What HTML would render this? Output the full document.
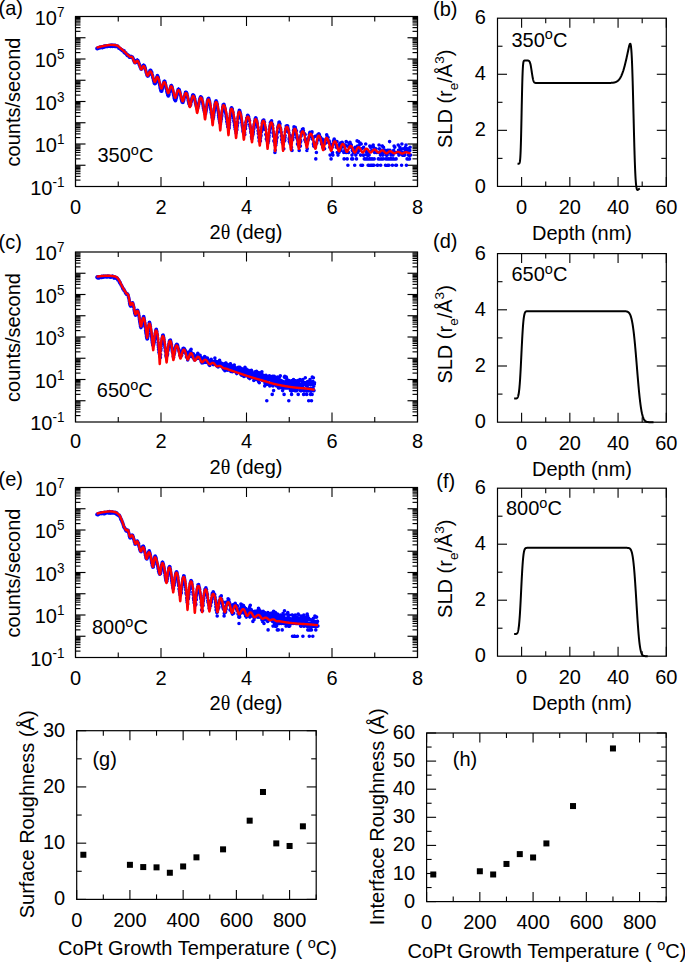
<!DOCTYPE html>
<html><head><meta charset="utf-8"><style>html,body{margin:0;padding:0;background:#fff;}svg{display:block;}text{font-family:"Liberation Sans",sans-serif;}</style></head>
<body><svg width="685" height="962" viewBox="0 0 685 962" font-family="Liberation Sans, sans-serif" fill="#000">
<rect width="685" height="962" fill="#fff"/>
<rect x="75.5" y="16.5" width="342" height="170" fill="none" stroke="#000" stroke-width="1.2"/>
<line x1="75.5" y1="186.5" x2="75.5" y2="177" stroke="#000" stroke-width="1.1"/>
<line x1="75.5" y1="16.5" x2="75.5" y2="26" stroke="#000" stroke-width="1.1"/>
<line x1="118.25" y1="186.5" x2="118.25" y2="181.5" stroke="#000" stroke-width="1.1"/>
<line x1="118.25" y1="16.5" x2="118.25" y2="21.5" stroke="#000" stroke-width="1.1"/>
<line x1="161" y1="186.5" x2="161" y2="177" stroke="#000" stroke-width="1.1"/>
<line x1="161" y1="16.5" x2="161" y2="26" stroke="#000" stroke-width="1.1"/>
<line x1="203.75" y1="186.5" x2="203.75" y2="181.5" stroke="#000" stroke-width="1.1"/>
<line x1="203.75" y1="16.5" x2="203.75" y2="21.5" stroke="#000" stroke-width="1.1"/>
<line x1="246.5" y1="186.5" x2="246.5" y2="177" stroke="#000" stroke-width="1.1"/>
<line x1="246.5" y1="16.5" x2="246.5" y2="26" stroke="#000" stroke-width="1.1"/>
<line x1="289.25" y1="186.5" x2="289.25" y2="181.5" stroke="#000" stroke-width="1.1"/>
<line x1="289.25" y1="16.5" x2="289.25" y2="21.5" stroke="#000" stroke-width="1.1"/>
<line x1="332" y1="186.5" x2="332" y2="177" stroke="#000" stroke-width="1.1"/>
<line x1="332" y1="16.5" x2="332" y2="26" stroke="#000" stroke-width="1.1"/>
<line x1="374.75" y1="186.5" x2="374.75" y2="181.5" stroke="#000" stroke-width="1.1"/>
<line x1="374.75" y1="16.5" x2="374.75" y2="21.5" stroke="#000" stroke-width="1.1"/>
<line x1="417.5" y1="186.5" x2="417.5" y2="177" stroke="#000" stroke-width="1.1"/>
<line x1="417.5" y1="16.5" x2="417.5" y2="26" stroke="#000" stroke-width="1.1"/>
<line x1="75.5" y1="180.1" x2="80.5" y2="180.1" stroke="#000" stroke-width="1.15"/>
<line x1="417.5" y1="180.1" x2="412.5" y2="180.1" stroke="#000" stroke-width="1.15"/>
<line x1="75.5" y1="176.36" x2="80.5" y2="176.36" stroke="#000" stroke-width="1.15"/>
<line x1="417.5" y1="176.36" x2="412.5" y2="176.36" stroke="#000" stroke-width="1.15"/>
<line x1="75.5" y1="173.71" x2="80.5" y2="173.71" stroke="#000" stroke-width="1.15"/>
<line x1="417.5" y1="173.71" x2="412.5" y2="173.71" stroke="#000" stroke-width="1.15"/>
<line x1="75.5" y1="171.65" x2="80.5" y2="171.65" stroke="#000" stroke-width="1.15"/>
<line x1="417.5" y1="171.65" x2="412.5" y2="171.65" stroke="#000" stroke-width="1.15"/>
<line x1="75.5" y1="169.96" x2="80.5" y2="169.96" stroke="#000" stroke-width="1.15"/>
<line x1="417.5" y1="169.96" x2="412.5" y2="169.96" stroke="#000" stroke-width="1.15"/>
<line x1="75.5" y1="168.54" x2="80.5" y2="168.54" stroke="#000" stroke-width="1.15"/>
<line x1="417.5" y1="168.54" x2="412.5" y2="168.54" stroke="#000" stroke-width="1.15"/>
<line x1="75.5" y1="167.31" x2="80.5" y2="167.31" stroke="#000" stroke-width="1.15"/>
<line x1="417.5" y1="167.31" x2="412.5" y2="167.31" stroke="#000" stroke-width="1.15"/>
<line x1="75.5" y1="166.22" x2="80.5" y2="166.22" stroke="#000" stroke-width="1.15"/>
<line x1="417.5" y1="166.22" x2="412.5" y2="166.22" stroke="#000" stroke-width="1.15"/>
<line x1="75.5" y1="165.25" x2="85.5" y2="165.25" stroke="#000" stroke-width="1.15"/>
<line x1="417.5" y1="165.25" x2="407.5" y2="165.25" stroke="#000" stroke-width="1.15"/>
<line x1="75.5" y1="158.85" x2="80.5" y2="158.85" stroke="#000" stroke-width="1.15"/>
<line x1="417.5" y1="158.85" x2="412.5" y2="158.85" stroke="#000" stroke-width="1.15"/>
<line x1="75.5" y1="155.11" x2="80.5" y2="155.11" stroke="#000" stroke-width="1.15"/>
<line x1="417.5" y1="155.11" x2="412.5" y2="155.11" stroke="#000" stroke-width="1.15"/>
<line x1="75.5" y1="152.46" x2="80.5" y2="152.46" stroke="#000" stroke-width="1.15"/>
<line x1="417.5" y1="152.46" x2="412.5" y2="152.46" stroke="#000" stroke-width="1.15"/>
<line x1="75.5" y1="150.4" x2="80.5" y2="150.4" stroke="#000" stroke-width="1.15"/>
<line x1="417.5" y1="150.4" x2="412.5" y2="150.4" stroke="#000" stroke-width="1.15"/>
<line x1="75.5" y1="148.71" x2="80.5" y2="148.71" stroke="#000" stroke-width="1.15"/>
<line x1="417.5" y1="148.71" x2="412.5" y2="148.71" stroke="#000" stroke-width="1.15"/>
<line x1="75.5" y1="147.29" x2="80.5" y2="147.29" stroke="#000" stroke-width="1.15"/>
<line x1="417.5" y1="147.29" x2="412.5" y2="147.29" stroke="#000" stroke-width="1.15"/>
<line x1="75.5" y1="146.06" x2="80.5" y2="146.06" stroke="#000" stroke-width="1.15"/>
<line x1="417.5" y1="146.06" x2="412.5" y2="146.06" stroke="#000" stroke-width="1.15"/>
<line x1="75.5" y1="144.97" x2="80.5" y2="144.97" stroke="#000" stroke-width="1.15"/>
<line x1="417.5" y1="144.97" x2="412.5" y2="144.97" stroke="#000" stroke-width="1.15"/>
<line x1="75.5" y1="144" x2="85.5" y2="144" stroke="#000" stroke-width="1.15"/>
<line x1="417.5" y1="144" x2="407.5" y2="144" stroke="#000" stroke-width="1.15"/>
<line x1="75.5" y1="137.6" x2="80.5" y2="137.6" stroke="#000" stroke-width="1.15"/>
<line x1="417.5" y1="137.6" x2="412.5" y2="137.6" stroke="#000" stroke-width="1.15"/>
<line x1="75.5" y1="133.86" x2="80.5" y2="133.86" stroke="#000" stroke-width="1.15"/>
<line x1="417.5" y1="133.86" x2="412.5" y2="133.86" stroke="#000" stroke-width="1.15"/>
<line x1="75.5" y1="131.21" x2="80.5" y2="131.21" stroke="#000" stroke-width="1.15"/>
<line x1="417.5" y1="131.21" x2="412.5" y2="131.21" stroke="#000" stroke-width="1.15"/>
<line x1="75.5" y1="129.15" x2="80.5" y2="129.15" stroke="#000" stroke-width="1.15"/>
<line x1="417.5" y1="129.15" x2="412.5" y2="129.15" stroke="#000" stroke-width="1.15"/>
<line x1="75.5" y1="127.46" x2="80.5" y2="127.46" stroke="#000" stroke-width="1.15"/>
<line x1="417.5" y1="127.46" x2="412.5" y2="127.46" stroke="#000" stroke-width="1.15"/>
<line x1="75.5" y1="126.04" x2="80.5" y2="126.04" stroke="#000" stroke-width="1.15"/>
<line x1="417.5" y1="126.04" x2="412.5" y2="126.04" stroke="#000" stroke-width="1.15"/>
<line x1="75.5" y1="124.81" x2="80.5" y2="124.81" stroke="#000" stroke-width="1.15"/>
<line x1="417.5" y1="124.81" x2="412.5" y2="124.81" stroke="#000" stroke-width="1.15"/>
<line x1="75.5" y1="123.72" x2="80.5" y2="123.72" stroke="#000" stroke-width="1.15"/>
<line x1="417.5" y1="123.72" x2="412.5" y2="123.72" stroke="#000" stroke-width="1.15"/>
<line x1="75.5" y1="122.75" x2="85.5" y2="122.75" stroke="#000" stroke-width="1.15"/>
<line x1="417.5" y1="122.75" x2="407.5" y2="122.75" stroke="#000" stroke-width="1.15"/>
<line x1="75.5" y1="116.35" x2="80.5" y2="116.35" stroke="#000" stroke-width="1.15"/>
<line x1="417.5" y1="116.35" x2="412.5" y2="116.35" stroke="#000" stroke-width="1.15"/>
<line x1="75.5" y1="112.61" x2="80.5" y2="112.61" stroke="#000" stroke-width="1.15"/>
<line x1="417.5" y1="112.61" x2="412.5" y2="112.61" stroke="#000" stroke-width="1.15"/>
<line x1="75.5" y1="109.96" x2="80.5" y2="109.96" stroke="#000" stroke-width="1.15"/>
<line x1="417.5" y1="109.96" x2="412.5" y2="109.96" stroke="#000" stroke-width="1.15"/>
<line x1="75.5" y1="107.9" x2="80.5" y2="107.9" stroke="#000" stroke-width="1.15"/>
<line x1="417.5" y1="107.9" x2="412.5" y2="107.9" stroke="#000" stroke-width="1.15"/>
<line x1="75.5" y1="106.21" x2="80.5" y2="106.21" stroke="#000" stroke-width="1.15"/>
<line x1="417.5" y1="106.21" x2="412.5" y2="106.21" stroke="#000" stroke-width="1.15"/>
<line x1="75.5" y1="104.79" x2="80.5" y2="104.79" stroke="#000" stroke-width="1.15"/>
<line x1="417.5" y1="104.79" x2="412.5" y2="104.79" stroke="#000" stroke-width="1.15"/>
<line x1="75.5" y1="103.56" x2="80.5" y2="103.56" stroke="#000" stroke-width="1.15"/>
<line x1="417.5" y1="103.56" x2="412.5" y2="103.56" stroke="#000" stroke-width="1.15"/>
<line x1="75.5" y1="102.47" x2="80.5" y2="102.47" stroke="#000" stroke-width="1.15"/>
<line x1="417.5" y1="102.47" x2="412.5" y2="102.47" stroke="#000" stroke-width="1.15"/>
<line x1="75.5" y1="101.5" x2="85.5" y2="101.5" stroke="#000" stroke-width="1.15"/>
<line x1="417.5" y1="101.5" x2="407.5" y2="101.5" stroke="#000" stroke-width="1.15"/>
<line x1="75.5" y1="95.1" x2="80.5" y2="95.1" stroke="#000" stroke-width="1.15"/>
<line x1="417.5" y1="95.1" x2="412.5" y2="95.1" stroke="#000" stroke-width="1.15"/>
<line x1="75.5" y1="91.36" x2="80.5" y2="91.36" stroke="#000" stroke-width="1.15"/>
<line x1="417.5" y1="91.36" x2="412.5" y2="91.36" stroke="#000" stroke-width="1.15"/>
<line x1="75.5" y1="88.71" x2="80.5" y2="88.71" stroke="#000" stroke-width="1.15"/>
<line x1="417.5" y1="88.71" x2="412.5" y2="88.71" stroke="#000" stroke-width="1.15"/>
<line x1="75.5" y1="86.65" x2="80.5" y2="86.65" stroke="#000" stroke-width="1.15"/>
<line x1="417.5" y1="86.65" x2="412.5" y2="86.65" stroke="#000" stroke-width="1.15"/>
<line x1="75.5" y1="84.96" x2="80.5" y2="84.96" stroke="#000" stroke-width="1.15"/>
<line x1="417.5" y1="84.96" x2="412.5" y2="84.96" stroke="#000" stroke-width="1.15"/>
<line x1="75.5" y1="83.54" x2="80.5" y2="83.54" stroke="#000" stroke-width="1.15"/>
<line x1="417.5" y1="83.54" x2="412.5" y2="83.54" stroke="#000" stroke-width="1.15"/>
<line x1="75.5" y1="82.31" x2="80.5" y2="82.31" stroke="#000" stroke-width="1.15"/>
<line x1="417.5" y1="82.31" x2="412.5" y2="82.31" stroke="#000" stroke-width="1.15"/>
<line x1="75.5" y1="81.22" x2="80.5" y2="81.22" stroke="#000" stroke-width="1.15"/>
<line x1="417.5" y1="81.22" x2="412.5" y2="81.22" stroke="#000" stroke-width="1.15"/>
<line x1="75.5" y1="80.25" x2="85.5" y2="80.25" stroke="#000" stroke-width="1.15"/>
<line x1="417.5" y1="80.25" x2="407.5" y2="80.25" stroke="#000" stroke-width="1.15"/>
<line x1="75.5" y1="73.85" x2="80.5" y2="73.85" stroke="#000" stroke-width="1.15"/>
<line x1="417.5" y1="73.85" x2="412.5" y2="73.85" stroke="#000" stroke-width="1.15"/>
<line x1="75.5" y1="70.11" x2="80.5" y2="70.11" stroke="#000" stroke-width="1.15"/>
<line x1="417.5" y1="70.11" x2="412.5" y2="70.11" stroke="#000" stroke-width="1.15"/>
<line x1="75.5" y1="67.46" x2="80.5" y2="67.46" stroke="#000" stroke-width="1.15"/>
<line x1="417.5" y1="67.46" x2="412.5" y2="67.46" stroke="#000" stroke-width="1.15"/>
<line x1="75.5" y1="65.4" x2="80.5" y2="65.4" stroke="#000" stroke-width="1.15"/>
<line x1="417.5" y1="65.4" x2="412.5" y2="65.4" stroke="#000" stroke-width="1.15"/>
<line x1="75.5" y1="63.71" x2="80.5" y2="63.71" stroke="#000" stroke-width="1.15"/>
<line x1="417.5" y1="63.71" x2="412.5" y2="63.71" stroke="#000" stroke-width="1.15"/>
<line x1="75.5" y1="62.29" x2="80.5" y2="62.29" stroke="#000" stroke-width="1.15"/>
<line x1="417.5" y1="62.29" x2="412.5" y2="62.29" stroke="#000" stroke-width="1.15"/>
<line x1="75.5" y1="61.06" x2="80.5" y2="61.06" stroke="#000" stroke-width="1.15"/>
<line x1="417.5" y1="61.06" x2="412.5" y2="61.06" stroke="#000" stroke-width="1.15"/>
<line x1="75.5" y1="59.97" x2="80.5" y2="59.97" stroke="#000" stroke-width="1.15"/>
<line x1="417.5" y1="59.97" x2="412.5" y2="59.97" stroke="#000" stroke-width="1.15"/>
<line x1="75.5" y1="59" x2="85.5" y2="59" stroke="#000" stroke-width="1.15"/>
<line x1="417.5" y1="59" x2="407.5" y2="59" stroke="#000" stroke-width="1.15"/>
<line x1="75.5" y1="52.6" x2="80.5" y2="52.6" stroke="#000" stroke-width="1.15"/>
<line x1="417.5" y1="52.6" x2="412.5" y2="52.6" stroke="#000" stroke-width="1.15"/>
<line x1="75.5" y1="48.86" x2="80.5" y2="48.86" stroke="#000" stroke-width="1.15"/>
<line x1="417.5" y1="48.86" x2="412.5" y2="48.86" stroke="#000" stroke-width="1.15"/>
<line x1="75.5" y1="46.21" x2="80.5" y2="46.21" stroke="#000" stroke-width="1.15"/>
<line x1="417.5" y1="46.21" x2="412.5" y2="46.21" stroke="#000" stroke-width="1.15"/>
<line x1="75.5" y1="44.15" x2="80.5" y2="44.15" stroke="#000" stroke-width="1.15"/>
<line x1="417.5" y1="44.15" x2="412.5" y2="44.15" stroke="#000" stroke-width="1.15"/>
<line x1="75.5" y1="42.46" x2="80.5" y2="42.46" stroke="#000" stroke-width="1.15"/>
<line x1="417.5" y1="42.46" x2="412.5" y2="42.46" stroke="#000" stroke-width="1.15"/>
<line x1="75.5" y1="41.04" x2="80.5" y2="41.04" stroke="#000" stroke-width="1.15"/>
<line x1="417.5" y1="41.04" x2="412.5" y2="41.04" stroke="#000" stroke-width="1.15"/>
<line x1="75.5" y1="39.81" x2="80.5" y2="39.81" stroke="#000" stroke-width="1.15"/>
<line x1="417.5" y1="39.81" x2="412.5" y2="39.81" stroke="#000" stroke-width="1.15"/>
<line x1="75.5" y1="38.72" x2="80.5" y2="38.72" stroke="#000" stroke-width="1.15"/>
<line x1="417.5" y1="38.72" x2="412.5" y2="38.72" stroke="#000" stroke-width="1.15"/>
<line x1="75.5" y1="37.75" x2="85.5" y2="37.75" stroke="#000" stroke-width="1.15"/>
<line x1="417.5" y1="37.75" x2="407.5" y2="37.75" stroke="#000" stroke-width="1.15"/>
<line x1="75.5" y1="31.35" x2="80.5" y2="31.35" stroke="#000" stroke-width="1.15"/>
<line x1="417.5" y1="31.35" x2="412.5" y2="31.35" stroke="#000" stroke-width="1.15"/>
<line x1="75.5" y1="27.61" x2="80.5" y2="27.61" stroke="#000" stroke-width="1.15"/>
<line x1="417.5" y1="27.61" x2="412.5" y2="27.61" stroke="#000" stroke-width="1.15"/>
<line x1="75.5" y1="24.96" x2="80.5" y2="24.96" stroke="#000" stroke-width="1.15"/>
<line x1="417.5" y1="24.96" x2="412.5" y2="24.96" stroke="#000" stroke-width="1.15"/>
<line x1="75.5" y1="22.9" x2="80.5" y2="22.9" stroke="#000" stroke-width="1.15"/>
<line x1="417.5" y1="22.9" x2="412.5" y2="22.9" stroke="#000" stroke-width="1.15"/>
<line x1="75.5" y1="21.21" x2="80.5" y2="21.21" stroke="#000" stroke-width="1.15"/>
<line x1="417.5" y1="21.21" x2="412.5" y2="21.21" stroke="#000" stroke-width="1.15"/>
<line x1="75.5" y1="19.79" x2="80.5" y2="19.79" stroke="#000" stroke-width="1.15"/>
<line x1="417.5" y1="19.79" x2="412.5" y2="19.79" stroke="#000" stroke-width="1.15"/>
<line x1="75.5" y1="18.56" x2="80.5" y2="18.56" stroke="#000" stroke-width="1.15"/>
<line x1="417.5" y1="18.56" x2="412.5" y2="18.56" stroke="#000" stroke-width="1.15"/>
<line x1="75.5" y1="17.47" x2="80.5" y2="17.47" stroke="#000" stroke-width="1.15"/>
<line x1="417.5" y1="17.47" x2="412.5" y2="17.47" stroke="#000" stroke-width="1.15"/>
<text transform="translate(75.5,214) scale(1,1.05)" text-anchor="middle" font-size="20">0</text>
<text transform="translate(161,214) scale(1,1.05)" text-anchor="middle" font-size="20">2</text>
<text transform="translate(246.5,214) scale(1,1.05)" text-anchor="middle" font-size="20">4</text>
<text transform="translate(332,214) scale(1,1.05)" text-anchor="middle" font-size="20">6</text>
<text transform="translate(417.5,214) scale(1,1.05)" text-anchor="middle" font-size="20">8</text>
<text transform="translate(64.4,194.5) scale(1,1.05)" text-anchor="end" font-size="20">10<tspan dy="-7.4" font-size="13.5">-1</tspan></text>
<text transform="translate(64.4,152) scale(1,1.05)" text-anchor="end" font-size="20">10<tspan dy="-7.4" font-size="13.5">1</tspan></text>
<text transform="translate(64.4,109.5) scale(1,1.05)" text-anchor="end" font-size="20">10<tspan dy="-7.4" font-size="13.5">3</tspan></text>
<text transform="translate(64.4,67) scale(1,1.05)" text-anchor="end" font-size="20">10<tspan dy="-7.4" font-size="13.5">5</tspan></text>
<text transform="translate(64.4,24.5) scale(1,1.05)" text-anchor="end" font-size="20">10<tspan dy="-7.4" font-size="13.5">7</tspan></text>
<text transform="translate(246,238.7) scale(1,1.05)" text-anchor="middle" font-size="20">2<tspan font-family="Liberation Serif">θ</tspan> (deg)</text>
<text transform="translate(19.9,102) rotate(-90)" text-anchor="middle" font-size="20">counts/second</text>
<text transform="translate(-1.5,15) scale(1,1.05)" text-anchor="start" font-size="20">(a)</text>
<text transform="translate(97.5,162.3) scale(1,1.05)" text-anchor="start" font-size="20">350<tspan dy="-6.8" font-size="14.5">o</tspan><tspan dy="6.8">C</tspan></text>
<path d="M96.9 48.6h0M97.0 48.3h0M97.2 48.6h0M97.4 48.4h0M97.6 48.6h0M97.7 48.2h0M97.9 48.3h0M98.1 48.4h0M98.2 48.0h0M98.4 47.7h0M98.6 47.9h0M98.8 48.3h0M98.9 47.8h0M99.1 47.6h0M99.3 47.5h0M99.4 47.4h0M99.6 47.4h0M99.8 47.8h0M100.0 47.5h0M100.1 47.4h0M100.3 47.5h0M100.5 47.4h0M100.6 47.8h0M100.8 47.3h0M101.0 47.5h0M101.2 47.4h0M101.3 46.8h0M101.5 47.2h0M101.7 47.1h0M101.8 47.4h0M102.0 47.6h0M102.2 47.5h0M102.3 47.2h0M102.5 47.1h0M102.7 47.6h0M102.9 47.2h0M103.0 46.9h0M103.2 47.2h0M103.4 47.0h0M103.5 46.8h0M103.7 46.4h0M103.9 46.7h0M104.1 46.3h0M104.2 47.1h0M104.4 46.3h0M104.6 46.7h0M104.7 46.3h0M104.9 46.0h0M105.1 46.2h0M105.3 46.4h0M105.4 46.0h0M105.6 46.6h0M105.8 46.1h0M105.9 46.2h0M106.1 46.2h0M106.3 46.5h0M106.5 46.2h0M106.6 46.1h0M106.8 46.2h0M107.0 46.1h0M107.1 46.6h0M107.3 45.8h0M107.5 46.2h0M107.6 46.0h0M107.8 46.2h0M108.0 46.1h0M108.2 46.2h0M108.3 45.6h0M108.5 46.2h0M108.7 46.1h0M108.8 45.9h0M109.0 46.2h0M109.2 46.2h0M109.4 45.8h0M109.5 45.7h0M109.7 45.6h0M109.9 45.6h0M110.0 46.0h0M110.2 46.1h0M110.4 45.4h0M110.6 46.4h0M110.7 45.7h0M110.9 45.5h0M111.1 45.4h0M111.2 45.3h0M111.4 45.4h0M111.6 45.1h0M111.8 46.3h0M111.9 45.8h0M112.1 45.6h0M112.3 46.5h0M112.4 46.0h0M112.6 45.4h0M112.8 46.0h0M112.9 45.5h0M113.1 45.6h0M113.3 45.4h0M113.5 45.6h0M113.6 45.7h0M113.8 45.6h0M114.0 46.2h0M114.1 45.4h0M114.3 46.0h0M114.5 46.2h0M114.7 45.8h0M114.8 46.4h0M115.0 45.3h0M115.2 45.3h0M115.3 45.7h0M115.5 46.4h0M115.7 46.0h0M115.9 46.0h0M116.0 46.3h0M116.2 46.3h0M116.4 46.1h0M116.5 46.4h0M116.7 46.3h0M116.9 46.3h0M117.1 46.8h0M117.2 46.6h0M117.4 46.7h0M117.6 46.1h0M117.7 46.7h0M117.9 46.7h0M118.1 46.9h0M118.3 47.1h0M118.4 47.2h0M118.6 47.4h0M118.8 48.2h0M118.9 47.6h0M119.1 48.0h0M119.3 48.0h0M119.4 48.4h0M119.6 48.5h0M119.8 48.4h0M120.0 48.7h0M120.1 48.6h0M120.3 48.7h0M120.5 48.9h0M120.6 49.0h0M120.8 49.4h0M121.0 49.4h0M121.2 49.2h0M121.3 49.6h0M121.5 49.5h0M121.7 49.8h0M121.8 49.6h0M122.0 50.4h0M122.2 50.1h0M122.4 50.1h0M122.5 50.7h0M122.7 50.6h0M122.9 50.7h0M123.0 50.9h0M123.2 50.8h0M123.4 51.1h0M123.6 51.4h0M123.7 51.2h0M123.9 51.5h0M124.1 50.9h0M124.2 52.4h0M124.4 52.0h0M124.6 52.2h0M124.7 52.3h0M124.9 53.1h0M125.1 52.6h0M125.3 53.0h0M125.4 52.7h0M125.6 53.4h0M125.8 52.7h0M125.9 53.4h0M126.1 53.8h0M126.3 53.7h0M126.5 54.4h0M126.6 54.5h0M126.8 54.2h0M127.0 54.6h0M127.1 54.7h0M127.3 55.6h0M127.5 55.5h0M127.7 55.7h0M127.8 54.8h0M128.0 55.5h0M128.2 55.2h0M128.3 55.8h0M128.5 55.5h0M128.7 56.1h0M128.9 56.2h0M129.0 56.3h0M129.2 56.4h0M129.4 57.2h0M129.5 56.7h0M129.7 57.1h0M129.9 57.1h0M130.0 57.1h0M130.2 57.2h0M130.4 57.1h0M130.6 56.7h0M130.7 56.6h0M130.9 56.4h0M131.1 57.1h0M131.2 56.9h0M131.4 56.9h0M131.6 56.9h0M131.8 56.7h0M131.9 56.7h0M132.1 57.1h0M132.3 57.2h0M132.4 57.1h0M132.6 57.9h0M132.8 57.8h0M133.0 58.6h0M133.1 58.8h0M133.3 58.9h0M133.5 60.1h0M133.6 60.2h0M133.8 60.4h0M134.0 61.2h0M134.2 61.2h0M134.3 61.1h0M134.5 61.8h0M134.7 62.4h0M134.8 62.8h0M135.0 62.6h0M135.2 62.8h0M135.4 62.8h0M135.5 62.2h0M135.7 62.0h0M135.9 62.5h0M136.0 61.9h0M136.2 61.8h0M136.4 61.0h0M136.5 60.8h0M136.7 60.4h0M136.9 60.6h0M137.1 60.3h0M137.2 60.2h0M137.4 60.4h0M137.6 60.2h0M137.7 61.2h0M137.9 60.6h0M138.1 61.6h0M138.3 61.6h0M138.4 61.8h0M138.6 62.2h0M138.8 63.2h0M138.9 63.2h0M139.1 64.4h0M139.3 64.3h0M139.5 64.9h0M139.6 64.8h0M139.8 65.9h0M140.0 66.5h0M140.1 67.0h0M140.3 67.5h0M140.5 67.6h0M140.7 67.9h0M140.8 67.8h0M141.0 69.0h0M141.2 68.6h0M141.3 69.3h0M141.5 69.0h0M141.7 68.5h0M141.8 68.2h0M142.0 68.1h0M142.2 68.2h0M142.4 67.4h0M142.5 66.8h0M142.7 67.3h0M142.9 66.6h0M143.0 66.0h0M143.2 65.7h0M143.4 65.4h0M143.6 65.4h0M143.7 65.5h0M143.9 65.2h0M144.1 65.8h0M144.2 65.9h0M144.4 66.0h0M144.6 66.4h0M144.8 66.8h0M144.9 67.3h0M145.1 67.9h0M145.3 68.3h0M145.4 69.8h0M145.6 70.0h0M145.8 70.7h0M146.0 71.6h0M146.1 72.2h0M146.3 72.7h0M146.5 73.6h0M146.6 73.4h0M146.8 73.9h0M147.0 75.2h0M147.1 75.1h0M147.3 75.5h0M147.5 75.9h0M147.7 76.1h0M147.8 75.9h0M148.0 75.9h0M148.2 75.9h0M148.3 75.2h0M148.5 75.0h0M148.7 74.2h0M148.9 74.5h0M149.0 73.8h0M149.2 73.9h0M149.4 72.6h0M149.5 72.3h0M149.7 71.3h0M149.9 70.8h0M150.1 70.8h0M150.2 70.4h0M150.4 70.9h0M150.6 71.1h0M150.7 70.4h0M150.9 70.7h0M151.1 71.1h0M151.3 71.8h0M151.4 71.9h0M151.6 72.5h0M151.8 72.4h0M151.9 74.7h0M152.1 74.9h0M152.3 74.9h0M152.5 75.6h0M152.6 76.5h0M152.8 77.4h0M153.0 78.2h0M153.1 78.2h0M153.3 79.1h0M153.5 80.0h0M153.6 80.7h0M153.8 80.9h0M154.0 82.3h0M154.2 82.9h0M154.3 83.0h0M154.5 83.6h0M154.7 83.3h0M154.8 83.5h0M155.0 83.4h0M155.2 83.6h0M155.4 83.4h0M155.5 82.6h0M155.7 82.8h0M155.9 82.0h0M156.0 81.0h0M156.2 80.3h0M156.4 79.0h0M156.6 78.6h0M156.7 77.4h0M156.9 77.0h0M157.1 77.1h0M157.2 77.1h0M157.4 75.6h0M157.6 76.2h0M157.8 76.3h0M157.9 77.0h0M158.1 77.6h0M158.3 77.4h0M158.4 78.9h0M158.6 79.4h0M158.8 80.1h0M158.9 81.2h0M159.1 82.0h0M159.3 82.9h0M159.5 83.9h0M159.6 84.2h0M159.8 85.6h0M160.0 86.2h0M160.1 87.7h0M160.3 88.4h0M160.5 89.1h0M160.7 90.1h0M160.8 90.2h0M161.0 91.1h0M161.2 91.3h0M161.3 91.1h0M161.5 91.0h0M161.7 91.2h0M161.9 90.6h0M162.0 89.9h0M162.2 89.2h0M162.4 88.6h0M162.5 88.2h0M162.7 86.8h0M162.9 86.4h0M163.1 85.5h0M163.2 84.2h0M163.4 83.6h0M163.6 82.8h0M163.7 82.6h0M163.9 82.0h0M164.1 81.5h0M164.2 81.3h0M164.4 81.3h0M164.6 82.1h0M164.8 81.2h0M164.9 82.0h0M165.1 83.1h0M165.3 83.0h0M165.4 84.2h0M165.6 85.0h0M165.8 85.2h0M166.0 87.0h0M166.1 87.8h0M166.3 88.7h0M166.5 89.5h0M166.6 89.2h0M166.8 91.3h0M167.0 92.3h0M167.2 92.7h0M167.3 93.3h0M167.5 93.8h0M167.7 95.0h0M167.8 94.5h0M168.0 95.4h0M168.2 95.9h0M168.4 95.9h0M168.5 95.4h0M168.7 95.3h0M168.9 95.0h0M169.0 94.3h0M169.2 92.9h0M169.4 92.4h0M169.6 92.1h0M169.7 91.3h0M169.9 89.8h0M170.1 89.5h0M170.2 88.9h0M170.4 87.8h0M170.6 87.3h0M170.7 86.8h0M170.9 86.0h0M171.1 85.9h0M171.3 85.6h0M171.4 85.5h0M171.6 86.0h0M171.8 86.6h0M171.9 86.9h0M172.1 86.9h0M172.3 88.2h0M172.5 89.0h0M172.6 89.3h0M172.8 90.7h0M173.0 91.6h0M173.1 92.2h0M173.3 93.3h0M173.5 94.4h0M173.7 95.3h0M173.8 95.7h0M174.0 96.8h0M174.2 98.0h0M174.3 98.6h0M174.5 98.6h0M174.7 99.7h0M174.9 100.0h0M175.0 100.3h0M175.2 100.7h0M175.4 100.5h0M175.5 100.8h0M175.7 100.3h0M175.9 99.4h0M176.0 99.3h0M176.2 98.0h0M176.4 97.7h0M176.6 96.7h0M176.7 95.9h0M176.9 95.3h0M177.1 93.8h0M177.2 92.8h0M177.4 92.3h0M177.6 91.6h0M177.8 91.0h0M177.9 90.2h0M178.1 89.6h0M178.3 89.3h0M178.4 89.3h0M178.6 89.3h0M178.8 89.4h0M179.0 89.7h0M179.1 90.3h0M179.3 89.7h0M179.5 91.1h0M179.6 91.7h0M179.8 91.6h0M180.0 92.7h0M180.2 93.4h0M180.3 94.6h0M180.5 95.2h0M180.7 95.8h0M180.8 96.0h0M181.0 97.5h0M181.2 98.4h0M181.3 98.9h0M181.5 99.8h0M181.7 100.7h0M181.9 101.5h0M182.0 101.2h0M182.2 102.2h0M182.4 101.6h0M182.5 102.3h0M182.7 102.3h0M182.9 102.5h0M183.1 102.2h0M183.2 101.8h0M183.4 101.0h0M183.6 100.7h0M183.7 100.0h0M183.9 99.4h0M184.1 98.3h0M184.3 97.6h0M184.4 96.7h0M184.6 96.4h0M184.8 95.6h0M184.9 95.0h0M185.1 93.7h0M185.3 94.2h0M185.5 92.4h0M185.6 92.7h0M185.8 92.6h0M186.0 92.2h0M186.1 92.4h0M186.3 92.6h0M186.5 92.6h0M186.7 93.0h0M186.8 93.8h0M187.0 93.8h0M187.2 95.4h0M187.3 95.5h0M187.5 96.5h0M187.7 97.7h0M187.8 98.0h0M188.0 98.8h0M188.2 100.6h0M188.4 100.8h0M188.5 101.8h0M188.7 102.5h0M188.9 103.8h0M189.0 103.7h0M189.2 104.1h0M189.4 104.8h0M189.6 105.4h0M189.7 105.5h0M189.9 105.4h0M190.1 105.5h0M190.2 105.6h0M190.4 105.2h0M190.6 104.9h0M190.8 103.9h0M190.9 102.6h0M191.1 102.1h0M191.3 101.8h0M191.4 101.0h0M191.6 99.8h0M191.8 99.0h0M192.0 98.1h0M192.1 97.6h0M192.3 97.2h0M192.5 96.3h0M192.6 95.4h0M192.8 95.5h0M193.0 94.7h0M193.1 95.5h0M193.3 95.3h0M193.5 95.2h0M193.7 95.5h0M193.8 95.6h0M194.0 96.2h0M194.2 96.6h0M194.3 97.0h0M194.5 98.5h0M194.7 98.9h0M194.9 99.0h0M195.0 100.5h0M195.2 101.6h0M195.4 102.4h0M195.5 103.3h0M195.7 103.8h0M195.9 104.5h0M196.1 105.2h0M196.2 105.8h0M196.4 106.7h0M196.6 106.9h0M196.7 107.2h0M196.9 108.3h0M197.1 108.4h0M197.3 108.0h0M197.4 108.5h0M197.6 107.6h0M197.8 107.9h0M197.9 107.5h0M198.1 106.7h0M198.3 105.4h0M198.4 105.9h0M198.6 104.8h0M198.8 104.2h0M199.0 103.0h0M199.1 102.3h0M199.3 101.5h0M199.5 100.5h0M199.6 99.9h0M199.8 99.1h0M200.0 98.3h0M200.2 98.0h0M200.3 97.6h0M200.5 97.5h0M200.7 96.8h0M200.8 96.8h0M201.0 97.0h0M201.2 97.3h0M201.4 97.5h0M201.5 98.1h0M201.7 97.7h0M201.9 98.7h0M202.0 98.9h0M202.2 100.9h0M202.4 101.7h0M202.6 102.0h0M202.7 103.1h0M202.9 104.2h0M203.1 105.3h0M203.2 106.2h0M203.4 107.9h0M203.6 107.3h0M203.8 109.1h0M203.9 110.0h0M204.1 110.4h0M204.3 111.5h0M204.4 112.0h0M204.6 112.3h0M204.8 112.5h0M204.9 113.6h0M205.1 113.8h0M205.3 112.8h0M205.5 112.8h0M205.6 113.7h0M205.8 112.3h0M206.0 111.2h0M206.1 111.0h0M206.3 110.0h0M206.5 108.7h0M206.7 107.1h0M206.8 106.2h0M207.0 104.9h0M207.2 103.2h0M207.3 102.0h0M207.5 100.8h0M207.7 100.3h0M207.9 99.7h0M208.0 99.1h0M208.2 99.2h0M208.4 98.6h0M208.5 98.7h0M208.7 98.4h0M208.9 98.9h0M209.1 99.8h0M209.2 100.2h0M209.4 100.6h0M209.6 101.6h0M209.7 102.7h0M209.9 103.3h0M210.1 105.2h0M210.2 105.6h0M210.4 107.2h0M210.6 108.6h0M210.8 109.4h0M210.9 110.1h0M211.1 112.2h0M211.3 112.5h0M211.4 113.2h0M211.6 114.6h0M211.8 115.1h0M212.0 115.9h0M212.1 117.5h0M212.3 116.7h0M212.5 118.4h0M212.6 118.2h0M212.8 118.6h0M213.0 118.9h0M213.2 118.1h0M213.3 116.6h0M213.5 117.1h0M213.7 115.5h0M213.8 114.1h0M214.0 113.0h0M214.2 111.9h0M214.4 110.6h0M214.5 108.6h0M214.7 107.8h0M214.9 106.0h0M215.0 104.7h0M215.2 103.6h0M215.4 103.0h0M215.5 102.1h0M215.7 102.0h0M215.9 101.7h0M216.1 100.8h0M216.2 101.0h0M216.4 101.9h0M216.6 102.3h0M216.7 102.0h0M216.9 103.2h0M217.1 103.8h0M217.3 104.7h0M217.4 106.3h0M217.6 107.1h0M217.8 109.0h0M217.9 109.9h0M218.1 111.0h0M218.3 112.1h0M218.5 113.6h0M218.6 115.4h0M218.8 117.3h0M219.0 117.4h0M219.1 118.9h0M219.3 119.8h0M219.5 121.3h0M219.7 122.6h0M219.8 122.8h0M220.0 121.1h0M220.2 121.7h0M220.3 122.9h0M220.5 123.9h0M220.7 122.1h0M220.9 121.1h0M221.0 119.8h0M221.2 119.5h0M221.4 118.9h0M221.5 116.9h0M221.7 116.2h0M221.9 115.0h0M222.0 112.8h0M222.2 111.2h0M222.4 110.4h0M222.6 109.2h0M222.7 107.6h0M222.9 106.5h0M223.1 105.8h0M223.2 104.7h0M223.4 104.9h0M223.6 104.6h0M223.8 104.9h0M223.9 104.2h0M224.1 105.1h0M224.3 105.6h0M224.4 106.6h0M224.6 107.0h0M224.8 107.7h0M225.0 108.3h0M225.1 109.1h0M225.3 110.0h0M225.5 111.7h0M225.6 112.4h0M225.8 113.5h0M226.0 114.6h0M226.2 116.4h0M226.3 117.3h0M226.5 118.1h0M226.7 119.0h0M226.8 121.4h0M227.0 122.2h0M227.2 121.2h0M227.3 124.0h0M227.5 124.4h0M227.7 126.7h0M227.9 125.7h0M228.0 124.9h0M228.2 125.4h0M228.4 126.9h0M228.5 127.8h0M228.7 126.6h0M228.9 127.0h0M229.1 126.3h0M229.2 127.9h0M229.4 124.7h0M229.6 122.5h0M229.7 120.0h0M229.9 117.8h0M230.1 118.1h0M230.3 115.8h0M230.4 113.8h0M230.6 112.2h0M230.8 110.7h0M230.9 109.4h0M231.1 108.8h0M231.3 108.0h0M231.5 107.9h0M231.6 107.7h0M231.8 108.0h0M232.0 108.8h0M232.1 109.5h0M232.3 109.1h0M232.5 110.8h0M232.6 111.8h0M232.8 112.1h0M233.0 112.2h0M233.2 114.8h0M233.3 116.1h0M233.5 117.0h0M233.7 118.6h0M233.8 121.0h0M234.0 118.7h0M234.2 122.5h0M234.4 122.0h0M234.5 125.3h0M234.7 125.4h0M234.9 127.3h0M235.0 126.6h0M235.2 129.3h0M235.4 129.5h0M235.6 128.4h0M235.7 131.2h0M235.9 130.5h0M236.1 133.0h0M236.2 131.9h0M236.4 130.8h0M236.6 129.5h0M236.8 128.1h0M236.9 129.7h0M237.1 126.4h0M237.3 125.5h0M237.4 122.9h0M237.6 122.0h0M237.8 123.0h0M238.0 118.6h0M238.1 117.3h0M238.3 116.5h0M238.5 114.0h0M238.6 114.2h0M238.8 112.4h0M239.0 112.1h0M239.1 111.6h0M239.3 110.4h0M239.5 111.1h0M239.7 110.5h0M239.8 111.4h0M240.0 111.7h0M240.2 112.2h0M240.3 113.5h0M240.5 113.8h0M240.7 114.3h0M240.9 116.3h0M241.0 117.7h0M241.2 118.2h0M241.4 119.8h0M241.5 120.3h0M241.7 122.2h0M241.9 122.7h0M242.1 124.0h0M242.2 125.2h0M242.4 126.7h0M242.6 126.4h0M242.7 128.6h0M242.9 131.0h0M243.1 130.5h0M243.3 132.2h0M243.4 131.2h0M243.6 133.0h0M243.8 131.2h0M243.9 130.1h0M244.1 133.3h0M244.3 131.9h0M244.4 130.8h0M244.6 132.4h0M244.8 134.5h0M245.0 127.9h0M245.1 128.8h0M245.3 127.3h0M245.5 128.8h0M245.6 125.9h0M245.8 122.5h0M246.0 124.6h0M246.2 121.3h0M246.3 121.9h0M246.5 120.3h0M246.7 118.0h0M246.8 118.1h0M247.0 118.4h0M247.2 118.5h0M247.4 117.5h0M247.5 115.8h0M247.7 115.2h0M247.9 115.7h0M248.0 115.9h0M248.2 115.8h0M248.4 116.3h0M248.6 116.8h0M248.7 118.8h0M248.9 118.5h0M249.1 120.4h0M249.2 120.5h0M249.4 120.5h0M249.6 120.7h0M249.7 124.5h0M249.9 126.2h0M250.1 126.0h0M250.3 127.9h0M250.4 127.8h0M250.6 129.1h0M250.8 131.4h0M250.9 132.7h0M251.1 131.4h0M251.3 132.2h0M251.5 136.3h0M251.6 137.2h0M251.8 138.6h0M252.0 135.2h0M252.1 135.2h0M252.3 134.5h0M252.5 135.9h0M252.7 133.6h0M252.8 130.8h0M253.0 134.5h0M253.2 132.7h0M253.3 131.7h0M253.5 129.0h0M253.7 129.1h0M253.9 126.6h0M254.0 127.9h0M254.2 124.2h0M254.4 125.5h0M254.5 124.4h0M254.7 121.4h0M254.9 121.4h0M255.1 120.2h0M255.2 118.9h0M255.4 119.1h0M255.6 119.5h0M255.7 117.9h0M255.9 119.4h0M256.1 118.4h0M256.2 120.0h0M256.4 120.3h0M256.6 121.1h0M256.8 120.9h0M256.9 121.9h0M257.1 123.1h0M257.3 123.7h0M257.4 125.5h0M257.6 127.2h0M257.8 127.3h0M258.0 127.5h0M258.1 130.8h0M258.3 133.6h0M258.5 133.6h0M258.6 133.9h0M258.8 137.2h0M259.0 138.1h0M259.2 140.9h0M259.3 138.1h0M259.5 135.5h0M259.7 140.9h0M259.8 138.6h0M260.0 139.1h0M260.2 137.6h0M260.4 140.9h0M260.5 138.1h0M260.7 134.5h0M260.9 135.9h0M261.0 135.2h0M261.2 129.9h0M261.4 131.9h0M261.5 129.0h0M261.7 129.0h0M261.9 130.5h0M262.1 126.9h0M262.2 123.2h0M262.4 122.5h0M262.6 121.2h0M262.7 121.9h0M262.9 121.5h0M263.1 120.3h0M263.3 120.5h0M263.4 121.3h0M263.6 120.7h0M263.8 120.0h0M263.9 121.1h0M264.1 121.8h0M264.3 122.1h0M264.5 122.2h0M264.6 124.9h0M264.8 127.9h0M265.0 127.3h0M265.1 129.5h0M265.3 129.0h0M265.5 128.6h0M265.7 129.5h0M265.8 134.5h0M266.0 134.8h0M266.2 135.2h0M266.3 139.1h0M266.5 135.9h0M266.7 136.3h0M266.8 137.6h0M267.0 140.3h0M267.2 140.9h0M267.4 140.3h0M267.5 139.1h0M267.7 139.7h0M267.9 138.1h0M268.0 143.1h0M268.2 139.1h0M268.4 138.6h0M268.6 140.9h0M268.7 139.1h0M268.9 137.2h0M269.1 135.5h0M269.2 132.7h0M269.4 132.4h0M269.6 129.5h0M269.8 130.1h0M269.9 126.7h0M270.1 125.4h0M270.3 122.8h0M270.4 124.7h0M270.6 122.8h0M270.8 121.8h0M271.0 122.0h0M271.1 122.7h0M271.3 122.8h0M271.5 122.5h0M271.6 120.9h0M271.8 123.6h0M272.0 124.0h0M272.2 124.6h0M272.3 124.1h0M272.5 127.6h0M272.7 125.3h0M272.8 128.3h0M273.0 133.0h0M273.2 132.4h0M273.3 131.9h0M273.5 136.3h0M273.7 135.5h0M273.9 140.9h0M274.0 135.5h0M274.2 141.6h0M274.4 142.3h0M274.5 139.7h0M274.7 142.3h0M274.9 152.5h0M275.1 145.0h0M275.2 150.4h0M275.4 145.0h0M275.6 140.9h0M275.7 142.3h0M275.9 145.0h0M276.1 143.1h0M276.3 141.6h0M276.4 139.7h0M276.6 136.7h0M276.8 136.7h0M276.9 133.9h0M277.1 137.6h0M277.3 131.7h0M277.5 131.7h0M277.6 131.9h0M277.8 127.6h0M278.0 127.5h0M278.1 126.2h0M278.3 127.3h0M278.5 125.7h0M278.6 124.6h0M278.8 126.2h0M279.0 122.2h0M279.2 124.9h0M279.3 122.0h0M279.5 125.3h0M279.7 125.3h0M279.8 124.9h0M280.0 123.7h0M280.2 128.6h0M280.4 128.1h0M280.5 129.5h0M280.7 129.3h0M280.9 131.9h0M281.0 132.4h0M281.2 132.4h0M281.4 135.9h0M281.6 135.5h0M281.7 139.7h0M281.9 139.1h0M282.1 137.2h0M282.2 142.3h0M282.4 141.6h0M282.6 138.6h0M282.8 141.6h0M282.9 142.3h0M283.1 144.0h0M283.3 142.3h0M283.4 144.0h0M283.6 141.6h0M283.8 148.7h0M283.9 137.2h0M284.1 140.3h0M284.3 139.1h0M284.5 140.9h0M284.6 138.1h0M284.8 140.3h0M285.0 137.6h0M285.1 135.5h0M285.3 131.7h0M285.5 131.0h0M285.7 130.3h0M285.8 129.1h0M286.0 130.5h0M286.2 126.0h0M286.3 127.2h0M286.5 126.2h0M286.7 125.7h0M286.9 128.6h0M287.0 128.6h0M287.2 126.7h0M287.4 125.7h0M287.5 126.6h0M287.7 126.0h0M287.9 127.8h0M288.1 130.1h0M288.2 131.4h0M288.4 129.5h0M288.6 130.3h0M288.7 132.4h0M288.9 132.7h0M289.1 139.1h0M289.3 141.6h0M289.4 137.6h0M289.6 142.3h0M289.8 135.2h0M289.9 142.3h0M290.1 139.1h0M290.3 144.0h0M290.4 143.1h0M290.6 142.3h0M290.8 142.3h0M291.0 142.3h0M291.1 138.1h0M291.3 141.6h0M291.5 147.3h0M291.6 139.1h0M291.8 140.3h0M292.0 150.4h0M292.2 139.7h0M292.3 139.1h0M292.5 139.1h0M292.7 139.7h0M292.8 136.7h0M293.0 137.6h0M293.2 135.2h0M293.4 134.2h0M293.5 130.8h0M293.7 129.9h0M293.9 131.2h0M294.0 126.9h0M294.2 130.3h0M294.4 128.3h0M294.6 131.7h0M294.7 127.8h0M294.9 129.3h0M295.1 128.4h0M295.2 127.2h0M295.4 129.9h0M295.6 129.1h0M295.7 129.5h0M295.9 131.9h0M296.1 133.6h0M296.3 131.0h0M296.4 130.8h0M296.6 137.6h0M296.8 135.2h0M296.9 135.2h0M297.1 137.6h0M297.3 139.1h0M297.5 144.0h0M297.6 139.7h0M297.8 144.0h0M298.0 141.6h0M298.1 145.0h0M298.3 140.9h0M298.5 140.9h0M298.7 138.1h0M298.8 146.1h0M299.0 140.9h0M299.2 150.4h0M299.3 144.0h0M299.5 143.1h0M299.7 140.3h0M299.9 142.3h0M300.0 143.1h0M300.2 140.3h0M300.4 146.1h0M300.5 140.3h0M300.7 141.6h0M300.9 135.5h0M301.0 131.9h0M301.2 135.9h0M301.4 132.4h0M301.6 132.7h0M301.7 131.4h0M301.9 131.4h0M302.1 131.7h0M302.4 129.3h0M302.8 131.4h0M303.1 128.8h0M303.4 130.8h0M303.8 133.6h0M304.1 133.3h0M304.5 133.9h0M304.8 139.7h0M305.2 134.5h0M305.5 141.6h0M305.8 139.1h0M306.2 140.3h0M306.5 142.3h0M306.9 150.4h0M307.2 148.7h0M307.5 143.1h0M307.9 139.1h0M308.2 140.3h0M308.6 139.1h0M308.9 137.2h0M309.3 134.8h0M309.6 133.3h0M309.9 132.4h0M310.3 133.3h0M310.6 132.7h0M311.0 132.7h0M311.3 136.7h0M311.7 133.0h0M312.0 131.9h0M312.3 139.1h0M312.7 137.6h0M313.0 138.6h0M313.4 144.0h0M313.7 146.1h0M314.0 142.3h0M314.4 136.7h0M314.7 144.0h0M315.1 136.3h0M315.4 147.3h0M315.8 158.9h0M316.1 144.0h0M316.4 152.5h0M316.8 143.1h0M317.1 135.5h0M317.5 140.3h0M317.8 136.3h0M318.1 134.2h0M318.5 136.3h0M318.8 133.9h0M319.2 134.2h0M319.5 135.2h0M319.9 138.6h0M320.2 138.1h0M320.5 137.2h0M320.9 140.3h0M321.2 141.6h0M321.6 144.0h0M321.9 140.9h0M322.3 139.1h0M322.6 146.1h0M322.9 147.3h0M323.3 147.3h0M323.6 148.7h0M324.0 144.0h0M324.3 143.1h0M324.6 148.7h0M325.0 140.9h0M325.3 140.3h0M325.7 143.1h0M326.0 139.1h0M326.4 139.1h0M326.7 134.8h0M327.0 135.9h0M327.4 137.2h0M327.7 138.6h0M328.1 137.6h0M328.4 142.3h0M328.8 142.3h0M329.1 140.9h0M329.4 141.6h0M329.8 147.3h0M330.1 155.1h0M330.5 144.0h0M330.8 145.0h0M331.1 158.9h0M331.5 145.0h0M331.8 146.1h0M332.2 147.3h0M332.5 152.5h0M332.9 155.1h0M333.2 144.0h0M333.5 140.9h0M333.9 144.0h0M334.2 139.1h0M334.6 143.1h0M334.9 140.9h0M335.2 143.1h0M335.6 142.3h0M335.9 141.6h0M336.3 147.3h0M336.6 146.1h0M337.0 141.6h0M337.3 152.5h0M337.6 146.1h0M338.0 155.1h0M338.3 148.7h0M338.7 152.5h0M339.0 152.5h0M339.4 148.7h0M339.7 144.0h0M340.0 147.3h0M340.4 143.1h0M340.7 147.3h0M341.1 150.4h0M341.4 145.0h0M341.7 147.3h0M342.1 142.3h0M342.4 143.1h0M342.8 144.0h0M343.1 144.0h0M343.5 146.1h0M343.8 152.5h0M344.1 158.9h0M344.5 147.3h0M344.8 150.4h0M345.2 145.0h0M345.5 146.1h0M345.9 152.5h0M346.2 141.6h0M346.5 152.5h0M346.9 150.4h0M347.2 158.9h0M347.6 146.1h0M347.9 165.2h0M348.2 152.5h0M348.6 152.5h0M348.9 143.1h0M349.3 145.0h0M349.6 147.3h0M350.0 142.3h0M350.3 145.0h0M350.6 144.0h0M351.0 147.3h0M351.3 145.0h0M351.7 158.9h0M352.0 155.1h0M352.3 150.4h0M352.7 158.9h0M353.0 148.7h0M353.4 152.5h0M353.7 152.5h0M354.1 148.7h0M354.4 152.5h0M354.7 165.2h0M355.1 147.3h0M355.4 150.4h0M355.8 155.1h0M356.1 150.4h0M356.5 158.9h0M356.8 150.4h0M357.1 140.9h0M357.5 146.1h0M357.8 152.5h0M358.2 147.3h0M358.5 141.6h0M358.8 146.1h0M359.2 150.4h0M359.5 150.4h0M359.9 144.0h0M360.2 143.1h0M360.6 155.1h0M360.9 165.2h0M361.2 144.0h0M361.6 148.7h0M361.9 148.7h0M362.6 165.2h0M363.0 155.1h0M363.3 155.1h0M363.6 147.3h0M364.0 155.1h0M364.3 158.9h0M364.7 158.9h0M365.3 150.4h0M365.7 144.0h0M366.0 150.4h0M366.4 158.9h0M366.7 152.5h0M367.1 155.1h0M367.4 158.9h0M367.7 155.1h0M368.1 165.2h0M368.4 152.5h0M368.8 165.2h0M369.1 155.1h0M369.4 158.9h0M369.8 146.1h0M370.1 158.9h0M370.5 147.3h0M370.8 165.2h0M371.2 158.9h0M371.5 165.2h0M371.8 150.4h0M372.2 158.9h0M372.5 165.2h0M372.9 146.1h0M373.2 145.0h0M373.6 147.3h0M373.9 165.2h0M374.2 158.9h0M374.6 152.5h0M374.9 152.5h0M375.3 150.4h0M375.6 150.4h0M375.9 148.7h0M376.3 152.5h0M376.6 152.5h0M377.0 152.5h0M377.3 165.2h0M377.7 165.2h0M378.3 158.9h0M378.7 158.9h0M379.0 145.0h0M379.4 148.7h0M379.7 152.5h0M380.1 150.4h0M380.4 155.1h0M380.7 165.2h0M381.1 158.9h0M381.4 150.4h0M381.8 152.5h0M382.1 146.1h0M382.4 146.1h0M382.8 155.1h0M383.1 158.9h0M383.5 147.3h0M383.8 152.5h0M384.2 150.4h0M384.8 150.4h0M385.2 150.4h0M385.5 165.2h0M385.9 158.9h0M386.2 155.1h0M386.5 152.5h0M386.9 158.9h0M387.2 155.1h0M387.6 150.4h0M387.9 165.2h0M388.3 150.4h0M388.6 158.9h0M388.9 165.2h0M389.3 152.5h0M389.6 141.6h0M390.0 150.4h0M390.3 158.9h0M390.7 152.5h0M391.0 155.1h0M391.3 152.5h0M391.7 158.9h0M392.0 152.5h0M392.4 165.2h0M392.7 152.5h0M393.0 155.1h0M393.4 158.9h0M393.7 150.4h0M394.1 146.1h0M394.4 152.5h0M394.8 147.3h0M395.4 152.5h0M395.8 165.2h0M396.1 158.9h0M396.5 165.2h0M396.8 152.5h0M397.2 152.5h0M397.5 152.5h0M397.8 152.5h0M398.2 145.0h0M398.5 150.4h0M398.9 155.1h0M399.2 152.5h0M399.5 152.5h0M399.9 147.3h0M400.2 150.4h0M400.6 152.5h0M400.9 148.7h0M401.3 152.5h0M401.6 165.2h0M401.9 144.0h0M402.3 155.1h0M402.6 152.5h0M403.0 148.7h0M403.3 155.1h0M403.6 155.1h0M404.3 155.1h0M404.7 155.1h0M405.0 152.5h0M405.4 147.3h0M405.7 150.4h0M406.0 145.0h0M406.4 165.2h0M406.7 150.4h0M407.1 158.9h0M407.4 150.4h0M407.8 148.7h0M408.1 150.4h0M408.4 155.1h0M408.8 155.1h0M409.1 155.1h0M409.5 158.9h0M409.8 150.4h0M410.1 147.3h0M410.5 155.1h0" stroke="#0000ff" stroke-width="3.6" stroke-linecap="round" fill="none"/>
<path d="M96.62 47.74 L96.75 47.70 L96.88 47.66 L97.00 47.62 L97.13 47.58 L97.26 47.54 L97.39 47.51 L97.52 47.47 L97.64 47.43 L97.77 47.39 L97.90 47.36 L98.03 47.32 L98.16 47.28 L98.29 47.25 L98.41 47.21 L98.54 47.17 L98.67 47.14 L98.80 47.10 L98.93 47.07 L99.06 47.03 L99.18 47.00 L99.31 46.96 L99.44 46.93 L99.57 46.89 L99.70 46.86 L99.82 46.82 L99.95 46.79 L100.08 46.76 L100.21 46.72 L100.34 46.69 L100.47 46.66 L100.59 46.63 L100.72 46.60 L100.85 46.57 L100.98 46.53 L101.11 46.50 L101.24 46.47 L101.36 46.44 L101.49 46.41 L101.62 46.38 L101.75 46.36 L101.88 46.33 L102.01 46.30 L102.13 46.27 L102.26 46.24 L102.39 46.22 L102.52 46.19 L102.65 46.16 L102.77 46.14 L102.90 46.11 L103.03 46.09 L103.16 46.06 L103.29 46.04 L103.42 46.01 L103.54 45.99 L103.67 45.96 L103.80 45.94 L103.93 45.91 L104.06 45.89 L104.19 45.86 L104.31 45.84 L104.44 45.81 L104.57 45.79 L104.70 45.76 L104.83 45.73 L104.95 45.71 L105.08 45.68 L105.21 45.66 L105.34 45.63 L105.47 45.61 L105.60 45.58 L105.72 45.56 L105.85 45.53 L105.98 45.50 L106.11 45.48 L106.24 45.45 L106.37 45.43 L106.49 45.41 L106.62 45.38 L106.75 45.36 L106.88 45.33 L107.01 45.31 L107.14 45.29 L107.26 45.27 L107.39 45.24 L107.52 45.22 L107.65 45.20 L107.78 45.18 L107.90 45.16 L108.03 45.14 L108.16 45.12 L108.29 45.10 L108.42 45.08 L108.55 45.07 L108.67 45.05 L108.80 45.03 L108.93 45.02 L109.06 45.00 L109.19 44.99 L109.32 44.97 L109.44 44.96 L109.57 44.95 L109.70 44.94 L109.83 44.93 L109.96 44.92 L110.08 44.91 L110.21 44.90 L110.34 44.89 L110.47 44.89 L110.60 44.88 L110.73 44.88 L110.85 44.87 L110.98 44.87 L111.11 44.87 L111.24 44.87 L111.37 44.87 L111.50 44.87 L111.62 44.87 L111.75 44.87 L111.88 44.88 L112.01 44.88 L112.14 44.89 L112.27 44.89 L112.39 44.90 L112.52 44.90 L112.65 44.91 L112.78 44.92 L112.91 44.93 L113.03 44.94 L113.16 44.95 L113.29 44.96 L113.42 44.97 L113.55 44.98 L113.68 44.99 L113.80 45.00 L113.93 45.02 L114.06 45.03 L114.19 45.05 L114.32 45.06 L114.45 45.08 L114.57 45.09 L114.70 45.11 L114.83 45.13 L114.96 45.14 L115.09 45.16 L115.21 45.18 L115.34 45.20 L115.47 45.22 L115.60 45.24 L115.73 45.26 L115.86 45.28 L115.98 45.30 L116.11 45.32 L116.24 45.35 L116.37 45.37 L116.50 45.39 L116.63 45.42 L116.75 45.45 L116.88 45.49 L117.01 45.54 L117.14 45.59 L117.27 45.65 L117.40 45.72 L117.52 45.79 L117.65 45.87 L117.78 45.95 L117.91 46.04 L118.04 46.13 L118.16 46.23 L118.29 46.33 L118.42 46.43 L118.55 46.54 L118.68 46.65 L118.81 46.76 L118.93 46.87 L119.06 46.99 L119.19 47.10 L119.32 47.22 L119.45 47.33 L119.58 47.45 L119.70 47.57 L119.83 47.68 L119.96 47.80 L120.09 47.91 L120.22 48.02 L120.34 48.13 L120.47 48.24 L120.60 48.34 L120.73 48.44 L120.86 48.55 L120.99 48.65 L121.11 48.75 L121.24 48.86 L121.37 48.96 L121.50 49.07 L121.63 49.18 L121.76 49.28 L121.88 49.39 L122.01 49.50 L122.14 49.61 L122.27 49.72 L122.40 49.83 L122.53 49.94 L122.65 50.06 L122.78 50.17 L122.91 50.28 L123.04 50.39 L123.17 50.51 L123.29 50.62 L123.42 50.74 L123.55 50.85 L123.68 50.97 L123.81 51.08 L123.94 51.20 L124.06 51.32 L124.19 51.43 L124.32 51.55 L124.45 51.67 L124.58 51.78 L124.71 51.90 L124.83 52.02 L124.96 52.14 L125.09 52.25 L125.22 52.37 L125.35 52.49 L125.47 52.62 L125.60 52.74 L125.73 52.88 L125.86 53.01 L125.99 53.15 L126.12 53.29 L126.24 53.43 L126.37 53.58 L126.50 53.72 L126.63 53.86 L126.76 54.01 L126.89 54.15 L127.01 54.29 L127.14 54.43 L127.27 54.57 L127.40 54.70 L127.53 54.83 L127.66 54.96 L127.78 55.08 L127.91 55.20 L128.04 55.31 L128.17 55.42 L128.30 55.51 L128.42 55.61 L128.55 55.69 L128.68 55.77 L128.81 55.86 L128.94 55.99 L129.07 56.13 L129.19 56.26 L129.32 56.39 L129.45 56.51 L129.58 56.61 L129.71 56.71 L129.84 56.79 L129.96 56.85 L130.09 56.90 L130.22 56.93 L130.35 56.94 L130.48 56.94 L130.60 56.92 L130.73 56.90 L130.86 56.88 L130.99 56.85 L131.12 56.82 L131.25 56.80 L131.37 56.80 L131.50 56.80 L131.63 56.83 L131.76 56.88 L131.89 56.95 L132.02 57.04 L132.14 57.16 L132.27 57.31 L132.40 57.48 L132.53 57.69 L132.66 57.92 L132.79 58.18 L132.91 58.46 L133.04 58.76 L133.17 59.09 L133.30 59.43 L133.43 59.78 L133.55 60.15 L133.68 60.51 L133.81 60.87 L133.94 61.22 L134.07 61.56 L134.20 61.86 L134.32 62.14 L134.45 62.38 L134.58 62.57 L134.71 62.72 L134.84 62.82 L134.97 62.87 L135.09 62.86 L135.22 62.81 L135.35 62.72 L135.48 62.60 L135.61 62.44 L135.73 62.27 L135.86 62.08 L135.99 61.88 L136.12 61.69 L136.25 61.51 L136.38 61.34 L136.50 61.19 L136.63 61.06 L136.76 60.95 L136.89 60.88 L137.02 60.83 L137.15 60.81 L137.27 60.83 L137.40 60.87 L137.53 60.95 L137.66 61.05 L137.79 61.18 L137.92 61.34 L138.04 61.53 L138.17 61.74 L138.30 61.97 L138.43 62.23 L138.56 62.51 L138.68 62.81 L138.81 63.13 L138.94 63.46 L139.07 63.81 L139.20 64.18 L139.33 64.56 L139.45 64.94 L139.58 65.34 L139.71 65.74 L139.84 66.14 L139.97 66.54 L140.10 66.94 L140.22 67.33 L140.35 67.70 L140.48 68.04 L140.61 68.36 L140.74 68.64 L140.86 68.89 L140.99 69.08 L141.12 69.22 L141.25 69.30 L141.38 69.32 L141.51 69.27 L141.63 69.16 L141.76 69.00 L141.89 68.79 L142.02 68.54 L142.15 68.27 L142.28 67.99 L142.40 67.70 L142.53 67.41 L142.66 67.14 L142.79 66.90 L142.92 66.68 L143.05 66.49 L143.17 66.35 L143.30 66.24 L143.43 66.17 L143.56 66.14 L143.69 66.15 L143.81 66.20 L143.94 66.29 L144.07 66.41 L144.20 66.56 L144.33 66.75 L144.46 66.97 L144.58 67.21 L144.71 67.49 L144.84 67.79 L144.97 68.11 L145.10 68.46 L145.23 68.83 L145.35 69.22 L145.48 69.63 L145.61 70.06 L145.74 70.50 L145.87 70.96 L145.99 71.42 L146.12 71.89 L146.25 72.35 L146.38 72.82 L146.51 73.27 L146.64 73.71 L146.76 74.12 L146.89 74.50 L147.02 74.84 L147.15 75.14 L147.28 75.38 L147.41 75.55 L147.53 75.66 L147.66 75.70 L147.79 75.66 L147.92 75.56 L148.05 75.39 L148.18 75.17 L148.30 74.91 L148.43 74.61 L148.56 74.28 L148.69 73.95 L148.82 73.61 L148.94 73.28 L149.07 72.96 L149.20 72.66 L149.33 72.39 L149.46 72.15 L149.59 71.94 L149.71 71.77 L149.84 71.63 L149.97 71.53 L150.10 71.47 L150.23 71.44 L150.36 71.45 L150.48 71.49 L150.61 71.57 L150.74 71.68 L150.87 71.81 L151.00 71.97 L151.12 72.16 L151.25 72.37 L151.38 72.61 L151.51 72.86 L151.64 73.14 L151.77 73.44 L151.89 73.75 L152.02 74.08 L152.15 74.43 L152.28 74.79 L152.41 75.16 L152.54 75.56 L152.66 75.96 L152.79 76.37 L152.92 76.80 L153.05 77.24 L153.18 77.68 L153.31 78.13 L153.43 78.58 L153.56 79.02 L153.69 79.46 L153.82 79.89 L153.95 80.30 L154.07 80.69 L154.20 81.04 L154.33 81.35 L154.46 81.61 L154.59 81.81 L154.72 81.94 L154.84 82.00 L154.97 81.97 L155.10 81.86 L155.23 81.67 L155.36 81.40 L155.49 81.07 L155.61 80.68 L155.74 80.27 L155.87 79.84 L156.00 79.41 L156.13 78.99 L156.25 78.59 L156.38 78.23 L156.51 77.90 L156.64 77.62 L156.77 77.40 L156.90 77.22 L157.02 77.09 L157.15 77.01 L157.28 76.99 L157.41 77.01 L157.54 77.07 L157.67 77.18 L157.79 77.32 L157.92 77.50 L158.05 77.72 L158.18 77.97 L158.31 78.25 L158.44 78.55 L158.56 78.89 L158.69 79.26 L158.82 79.65 L158.95 80.06 L159.08 80.50 L159.20 80.97 L159.33 81.45 L159.46 81.95 L159.59 82.48 L159.72 83.01 L159.85 83.56 L159.97 84.11 L160.10 84.67 L160.23 85.23 L160.36 85.78 L160.49 86.31 L160.62 86.81 L160.74 87.27 L160.87 87.68 L161.00 88.03 L161.13 88.29 L161.26 88.48 L161.38 88.56 L161.51 88.55 L161.64 88.44 L161.77 88.23 L161.90 87.94 L162.03 87.57 L162.15 87.16 L162.28 86.70 L162.41 86.23 L162.54 85.74 L162.67 85.27 L162.80 84.80 L162.92 84.37 L163.05 83.96 L163.18 83.59 L163.31 83.26 L163.44 82.98 L163.57 82.74 L163.69 82.54 L163.82 82.39 L163.95 82.29 L164.08 82.23 L164.21 82.22 L164.33 82.25 L164.46 82.31 L164.59 82.41 L164.72 82.55 L164.85 82.73 L164.98 82.94 L165.10 83.17 L165.23 83.44 L165.36 83.74 L165.49 84.07 L165.62 84.42 L165.75 84.80 L165.87 85.20 L166.00 85.63 L166.13 86.08 L166.26 86.55 L166.39 87.04 L166.51 87.54 L166.64 88.06 L166.77 88.59 L166.90 89.13 L167.03 89.67 L167.16 90.20 L167.28 90.72 L167.41 91.21 L167.54 91.68 L167.67 92.10 L167.80 92.46 L167.93 92.76 L168.05 92.98 L168.18 93.11 L168.31 93.14 L168.44 93.08 L168.57 92.93 L168.70 92.68 L168.82 92.35 L168.95 91.96 L169.08 91.52 L169.21 91.04 L169.34 90.55 L169.46 90.05 L169.59 89.56 L169.72 89.08 L169.85 88.63 L169.98 88.22 L170.11 87.83 L170.23 87.49 L170.36 87.19 L170.49 86.94 L170.62 86.73 L170.75 86.57 L170.88 86.45 L171.00 86.38 L171.13 86.35 L171.26 86.36 L171.39 86.41 L171.52 86.50 L171.64 86.63 L171.77 86.79 L171.90 86.99 L172.03 87.21 L172.16 87.48 L172.29 87.77 L172.41 88.09 L172.54 88.44 L172.67 88.82 L172.80 89.23 L172.93 89.66 L173.06 90.12 L173.18 90.60 L173.31 91.10 L173.44 91.62 L173.57 92.16 L173.70 92.71 L173.83 93.27 L173.95 93.83 L174.08 94.40 L174.21 94.95 L174.34 95.48 L174.47 95.98 L174.59 96.44 L174.72 96.85 L174.85 97.20 L174.98 97.47 L175.11 97.65 L175.24 97.74 L175.36 97.73 L175.49 97.62 L175.62 97.42 L175.75 97.14 L175.88 96.79 L176.01 96.38 L176.13 95.93 L176.26 95.45 L176.39 94.95 L176.52 94.45 L176.65 93.96 L176.77 93.48 L176.90 93.02 L177.03 92.59 L177.16 92.19 L177.29 91.82 L177.42 91.48 L177.54 91.19 L177.67 90.93 L177.80 90.70 L177.93 90.52 L178.06 90.38 L178.19 90.27 L178.31 90.20 L178.44 90.17 L178.57 90.18 L178.70 90.22 L178.83 90.29 L178.96 90.40 L179.08 90.54 L179.21 90.71 L179.34 90.91 L179.47 91.14 L179.60 91.40 L179.72 91.69 L179.85 92.01 L179.98 92.35 L180.11 92.72 L180.24 93.12 L180.37 93.55 L180.49 93.99 L180.62 94.46 L180.75 94.96 L180.88 95.47 L181.01 95.99 L181.14 96.53 L181.26 97.08 L181.39 97.63 L181.52 98.18 L181.65 98.72 L181.78 99.24 L181.90 99.73 L182.03 100.18 L182.16 100.57 L182.29 100.89 L182.42 101.14 L182.55 101.30 L182.67 101.36 L182.80 101.32 L182.93 101.19 L183.06 100.96 L183.19 100.64 L183.32 100.26 L183.44 99.81 L183.57 99.33 L183.70 98.81 L183.83 98.28 L183.96 97.75 L184.09 97.22 L184.21 96.70 L184.34 96.21 L184.47 95.74 L184.60 95.30 L184.73 94.90 L184.85 94.54 L184.98 94.21 L185.11 93.92 L185.24 93.68 L185.37 93.48 L185.50 93.31 L185.62 93.19 L185.75 93.11 L185.88 93.08 L186.01 93.08 L186.14 93.13 L186.27 93.21 L186.39 93.33 L186.52 93.50 L186.65 93.70 L186.78 93.94 L186.91 94.22 L187.03 94.55 L187.16 94.91 L187.29 95.31 L187.42 95.74 L187.55 96.22 L187.68 96.74 L187.80 97.30 L187.93 97.89 L188.06 98.52 L188.19 99.19 L188.32 99.89 L188.45 100.62 L188.57 101.37 L188.70 102.14 L188.83 102.92 L188.96 103.69 L189.09 104.43 L189.22 105.13 L189.34 105.77 L189.47 106.31 L189.60 106.74 L189.73 107.03 L189.86 107.16 L189.98 107.12 L190.11 106.92 L190.24 106.58 L190.37 106.10 L190.50 105.53 L190.63 104.88 L190.75 104.18 L190.88 103.45 L191.01 102.72 L191.14 102.00 L191.27 101.30 L191.40 100.63 L191.52 100.00 L191.65 99.41 L191.78 98.86 L191.91 98.36 L192.04 97.91 L192.16 97.51 L192.29 97.16 L192.42 96.85 L192.55 96.59 L192.68 96.38 L192.81 96.22 L192.93 96.10 L193.06 96.03 L193.19 96.00 L193.32 96.02 L193.45 96.08 L193.58 96.18 L193.70 96.32 L193.83 96.51 L193.96 96.74 L194.09 97.01 L194.22 97.32 L194.35 97.68 L194.47 98.08 L194.60 98.53 L194.73 99.02 L194.86 99.55 L194.99 100.14 L195.11 100.77 L195.24 101.45 L195.37 102.18 L195.50 102.95 L195.63 103.77 L195.76 104.64 L195.88 105.54 L196.01 106.48 L196.14 107.45 L196.27 108.42 L196.40 109.37 L196.53 110.29 L196.65 111.14 L196.78 111.87 L196.91 112.44 L197.04 112.81 L197.17 112.95 L197.29 112.86 L197.42 112.52 L197.55 111.99 L197.68 111.29 L197.81 110.47 L197.94 109.57 L198.06 108.64 L198.19 107.69 L198.32 106.75 L198.45 105.84 L198.58 104.96 L198.71 104.13 L198.83 103.35 L198.96 102.62 L199.09 101.94 L199.22 101.32 L199.35 100.75 L199.48 100.23 L199.60 99.76 L199.73 99.35 L199.86 98.98 L199.99 98.66 L200.12 98.39 L200.24 98.17 L200.37 97.99 L200.50 97.85 L200.63 97.76 L200.76 97.72 L200.89 97.71 L201.01 97.75 L201.14 97.82 L201.27 97.94 L201.40 98.10 L201.53 98.29 L201.66 98.53 L201.78 98.80 L201.91 99.11 L202.04 99.47 L202.17 99.86 L202.30 100.30 L202.42 100.78 L202.55 101.31 L202.68 101.88 L202.81 102.50 L202.94 103.18 L203.07 103.90 L203.19 104.69 L203.32 105.53 L203.45 106.44 L203.58 107.42 L203.71 108.46 L203.84 109.56 L203.96 110.74 L204.09 111.97 L204.22 113.25 L204.35 114.56 L204.48 115.84 L204.61 117.06 L204.73 118.12 L204.86 118.92 L204.99 119.38 L205.12 119.40 L205.25 118.99 L205.37 118.17 L205.50 117.05 L205.63 115.73 L205.76 114.31 L205.89 112.88 L206.02 111.46 L206.14 110.11 L206.27 108.83 L206.40 107.65 L206.53 106.55 L206.66 105.54 L206.79 104.62 L206.91 103.79 L207.04 103.05 L207.17 102.38 L207.30 101.80 L207.43 101.29 L207.55 100.84 L207.68 100.47 L207.81 100.16 L207.94 99.92 L208.07 99.73 L208.20 99.61 L208.32 99.53 L208.45 99.51 L208.58 99.54 L208.71 99.61 L208.84 99.73 L208.97 99.90 L209.09 100.11 L209.22 100.36 L209.35 100.65 L209.48 100.99 L209.61 101.37 L209.74 101.79 L209.86 102.26 L209.99 102.78 L210.12 103.34 L210.25 103.95 L210.38 104.62 L210.50 105.34 L210.63 106.11 L210.76 106.96 L210.89 107.87 L211.02 108.85 L211.15 109.91 L211.27 111.05 L211.40 112.29 L211.53 113.61 L211.66 115.04 L211.79 116.55 L211.92 118.15 L212.04 119.79 L212.17 121.43 L212.30 122.95 L212.43 124.21 L212.56 125.03 L212.68 125.23 L212.81 124.76 L212.94 123.69 L213.07 122.21 L213.20 120.50 L213.33 118.72 L213.45 116.96 L213.58 115.28 L213.71 113.70 L213.84 112.24 L213.97 110.90 L214.10 109.68 L214.22 108.58 L214.35 107.58 L214.48 106.68 L214.61 105.88 L214.74 105.16 L214.87 104.54 L214.99 103.99 L215.12 103.52 L215.25 103.13 L215.38 102.80 L215.51 102.54 L215.63 102.34 L215.76 102.20 L215.89 102.12 L216.02 102.09 L216.15 102.12 L216.28 102.19 L216.40 102.31 L216.53 102.47 L216.66 102.68 L216.79 102.94 L216.92 103.24 L217.05 103.58 L217.17 103.97 L217.30 104.40 L217.43 104.87 L217.56 105.40 L217.69 105.97 L217.81 106.59 L217.94 107.27 L218.07 108.00 L218.20 108.80 L218.33 109.66 L218.46 110.59 L218.58 111.60 L218.71 112.70 L218.84 113.88 L218.97 115.17 L219.10 116.56 L219.23 118.07 L219.35 119.69 L219.48 121.44 L219.61 123.29 L219.74 125.19 L219.87 127.06 L220.00 128.72 L220.12 129.94 L220.25 130.44 L220.38 130.08 L220.51 128.92 L220.64 127.21 L220.76 125.22 L220.89 123.16 L221.02 121.15 L221.15 119.26 L221.28 117.51 L221.41 115.91 L221.53 114.46 L221.66 113.15 L221.79 111.97 L221.92 110.91 L222.05 109.97 L222.18 109.13 L222.30 108.39 L222.43 107.75 L222.56 107.19 L222.69 106.72 L222.82 106.32 L222.94 105.99 L223.07 105.73 L223.20 105.54 L223.33 105.40 L223.46 105.32 L223.59 105.29 L223.71 105.31 L223.84 105.37 L223.97 105.48 L224.10 105.62 L224.23 105.80 L224.36 106.01 L224.48 106.25 L224.61 106.53 L224.74 106.84 L224.87 107.18 L225.00 107.55 L225.13 107.95 L225.25 108.38 L225.38 108.84 L225.51 109.34 L225.64 109.87 L225.77 110.43 L225.89 111.04 L226.02 111.68 L226.15 112.37 L226.28 113.11 L226.41 113.89 L226.54 114.74 L226.66 115.65 L226.79 116.62 L226.92 117.68 L227.05 118.82 L227.18 120.06 L227.31 121.40 L227.43 122.85 L227.56 124.43 L227.69 126.13 L227.82 127.94 L227.95 129.83 L228.07 131.70 L228.20 133.40 L228.33 134.65 L228.46 135.16 L228.59 134.73 L228.72 133.39 L228.84 131.42 L228.97 129.13 L229.10 126.79 L229.23 124.53 L229.36 122.43 L229.49 120.50 L229.61 118.76 L229.74 117.20 L229.87 115.80 L230.00 114.57 L230.13 113.48 L230.26 112.53 L230.38 111.71 L230.51 111.01 L230.64 110.42 L230.77 109.94 L230.90 109.55 L231.02 109.25 L231.15 109.03 L231.28 108.89 L231.41 108.82 L231.54 108.81 L231.67 108.85 L231.79 108.94 L231.92 109.08 L232.05 109.26 L232.18 109.48 L232.31 109.74 L232.44 110.04 L232.56 110.37 L232.69 110.75 L232.82 111.15 L232.95 111.59 L233.08 112.07 L233.20 112.59 L233.33 113.14 L233.46 113.74 L233.59 114.37 L233.72 115.06 L233.85 115.79 L233.97 116.57 L234.10 117.41 L234.23 118.31 L234.36 119.28 L234.49 120.33 L234.62 121.46 L234.74 122.68 L234.87 124.00 L235.00 125.42 L235.13 126.97 L235.26 128.63 L235.39 130.41 L235.51 132.26 L235.64 134.13 L235.77 135.86 L235.90 137.25 L236.03 137.99 L236.15 137.87 L236.28 136.87 L236.41 135.21 L236.54 133.18 L236.67 131.02 L236.80 128.90 L236.92 126.89 L237.05 125.02 L237.18 123.31 L237.31 121.75 L237.44 120.34 L237.57 119.07 L237.69 117.94 L237.82 116.92 L237.95 116.01 L238.08 115.21 L238.21 114.51 L238.33 113.90 L238.46 113.38 L238.59 112.95 L238.72 112.58 L238.85 112.30 L238.98 112.08 L239.10 111.92 L239.23 111.83 L239.36 111.79 L239.49 111.81 L239.62 111.88 L239.75 111.99 L239.87 112.15 L240.00 112.35 L240.13 112.60 L240.26 112.89 L240.39 113.23 L240.52 113.60 L240.64 114.02 L240.77 114.48 L240.90 114.99 L241.03 115.54 L241.16 116.13 L241.28 116.78 L241.41 117.47 L241.54 118.21 L241.67 119.01 L241.80 119.87 L241.93 120.79 L242.05 121.77 L242.18 122.82 L242.31 123.95 L242.44 125.16 L242.57 126.45 L242.70 127.82 L242.82 129.28 L242.95 130.83 L243.08 132.44 L243.21 134.09 L243.34 135.72 L243.46 137.25 L243.59 138.53 L243.72 139.41 L243.85 139.75 L243.98 139.48 L244.11 138.66 L244.23 137.44 L244.36 135.98 L244.49 134.43 L244.62 132.86 L244.75 131.33 L244.88 129.88 L245.00 128.52 L245.13 127.26 L245.26 126.08 L245.39 125.00 L245.52 124.01 L245.65 123.09 L245.77 122.25 L245.90 121.49 L246.03 120.79 L246.16 120.16 L246.29 119.59 L246.41 119.07 L246.54 118.61 L246.67 118.20 L246.80 117.84 L246.93 117.53 L247.06 117.27 L247.18 117.05 L247.31 116.87 L247.44 116.74 L247.57 116.65 L247.70 116.60 L247.83 116.60 L247.95 116.63 L248.08 116.70 L248.21 116.82 L248.34 116.98 L248.47 117.18 L248.59 117.42 L248.72 117.71 L248.85 118.04 L248.98 118.42 L249.11 118.85 L249.24 119.32 L249.36 119.85 L249.49 120.43 L249.62 121.06 L249.75 121.76 L249.88 122.51 L250.01 123.33 L250.13 124.23 L250.26 125.19 L250.39 126.24 L250.52 127.37 L250.65 128.59 L250.78 129.90 L250.90 131.30 L251.03 132.80 L251.16 134.37 L251.29 136.01 L251.42 137.65 L251.54 139.23 L251.67 140.62 L251.80 141.66 L251.93 142.21 L252.06 142.15 L252.19 141.51 L252.31 140.39 L252.44 138.97 L252.57 137.39 L252.70 135.77 L252.83 134.18 L252.96 132.65 L253.08 131.22 L253.21 129.88 L253.34 128.65 L253.47 127.51 L253.60 126.46 L253.72 125.50 L253.85 124.63 L253.98 123.84 L254.11 123.12 L254.24 122.47 L254.37 121.89 L254.49 121.38 L254.62 120.92 L254.75 120.53 L254.88 120.19 L255.01 119.90 L255.14 119.67 L255.26 119.49 L255.39 119.35 L255.52 119.27 L255.65 119.23 L255.78 119.24 L255.91 119.30 L256.03 119.40 L256.16 119.55 L256.29 119.74 L256.42 119.97 L256.55 120.25 L256.67 120.58 L256.80 120.95 L256.93 121.37 L257.06 121.84 L257.19 122.37 L257.32 122.94 L257.44 123.58 L257.57 124.27 L257.70 125.03 L257.83 125.86 L257.96 126.76 L258.09 127.74 L258.21 128.80 L258.34 129.96 L258.47 131.21 L258.60 132.57 L258.73 134.04 L258.85 135.62 L258.98 137.30 L259.11 139.05 L259.24 140.84 L259.37 142.56 L259.50 144.06 L259.62 145.13 L259.75 145.55 L259.88 145.23 L260.01 144.21 L260.14 142.71 L260.27 140.94 L260.39 139.07 L260.52 137.22 L260.65 135.46 L260.78 133.81 L260.91 132.28 L261.04 130.87 L261.16 129.59 L261.29 128.42 L261.42 127.36 L261.55 126.39 L261.68 125.53 L261.80 124.75 L261.93 124.06 L262.06 123.44 L262.19 122.90 L262.32 122.43 L262.45 122.02 L262.57 121.68 L262.70 121.40 L262.83 121.18 L262.96 121.02 L263.09 120.90 L263.22 120.84 L263.34 120.83 L263.47 120.87 L263.60 120.95 L263.73 121.07 L263.86 121.24 L263.98 121.45 L264.11 121.70 L264.24 121.99 L264.37 122.33 L264.50 122.71 L264.63 123.13 L264.75 123.60 L264.88 124.12 L265.01 124.68 L265.14 125.30 L265.27 125.97 L265.40 126.70 L265.52 127.49 L265.65 128.34 L265.78 129.27 L265.91 130.27 L266.04 131.36 L266.17 132.54 L266.29 133.82 L266.42 135.21 L266.55 136.71 L266.68 138.33 L266.81 140.06 L266.93 141.89 L267.06 143.78 L267.19 145.61 L267.32 147.24 L267.45 148.41 L267.58 148.87 L267.70 148.48 L267.83 147.34 L267.96 145.69 L268.09 143.77 L268.22 141.78 L268.35 139.84 L268.47 138.00 L268.60 136.29 L268.73 134.71 L268.86 133.26 L268.99 131.93 L269.11 130.72 L269.24 129.62 L269.37 128.63 L269.50 127.72 L269.63 126.91 L269.76 126.18 L269.88 125.52 L270.01 124.94 L270.14 124.43 L270.27 123.99 L270.40 123.61 L270.53 123.29 L270.65 123.03 L270.78 122.82 L270.91 122.67 L271.04 122.58 L271.17 122.53 L271.30 122.54 L271.42 122.59 L271.55 122.70 L271.68 122.85 L271.81 123.06 L271.94 123.31 L272.06 123.62 L272.19 123.98 L272.32 124.39 L272.45 124.86 L272.58 125.38 L272.71 125.97 L272.83 126.62 L272.96 127.33 L273.09 128.11 L273.22 128.97 L273.35 129.91 L273.48 130.94 L273.60 132.06 L273.73 133.27 L273.86 134.60 L273.99 136.04 L274.12 137.61 L274.24 139.30 L274.37 141.13 L274.50 143.07 L274.63 145.08 L274.76 147.07 L274.89 148.90 L275.01 150.31 L275.14 151.03 L275.27 150.88 L275.40 149.93 L275.53 148.40 L275.66 146.58 L275.78 144.67 L275.91 142.79 L276.04 141.00 L276.17 139.34 L276.30 137.80 L276.43 136.38 L276.55 135.08 L276.68 133.90 L276.81 132.81 L276.94 131.82 L277.07 130.91 L277.19 130.09 L277.32 129.33 L277.45 128.65 L277.58 128.03 L277.71 127.48 L277.84 126.98 L277.96 126.53 L278.09 126.14 L278.22 125.80 L278.35 125.51 L278.48 125.27 L278.61 125.07 L278.73 124.92 L278.86 124.81 L278.99 124.75 L279.12 124.73 L279.25 124.76 L279.37 124.83 L279.50 124.95 L279.63 125.12 L279.76 125.33 L279.89 125.59 L280.02 125.90 L280.14 126.26 L280.27 126.67 L280.40 127.13 L280.53 127.66 L280.66 128.24 L280.79 128.88 L280.91 129.59 L281.04 130.36 L281.17 131.21 L281.30 132.14 L281.43 133.15 L281.56 134.25 L281.68 135.44 L281.81 136.73 L281.94 138.13 L282.07 139.63 L282.20 141.23 L282.32 142.93 L282.45 144.68 L282.58 146.43 L282.71 148.08 L282.84 149.48 L282.97 150.42 L283.09 150.76 L283.22 150.41 L283.35 149.47 L283.48 148.11 L283.61 146.51 L283.74 144.82 L283.86 143.15 L283.99 141.54 L284.12 140.02 L284.25 138.60 L284.38 137.29 L284.50 136.08 L284.63 134.97 L284.76 133.95 L284.89 133.02 L285.02 132.18 L285.15 131.41 L285.27 130.71 L285.40 130.08 L285.53 129.51 L285.66 129.01 L285.79 128.56 L285.92 128.17 L286.04 127.84 L286.17 127.55 L286.30 127.31 L286.43 127.13 L286.56 126.99 L286.69 126.89 L286.81 126.85 L286.94 126.84 L287.07 126.88 L287.20 126.97 L287.33 127.10 L287.45 127.27 L287.58 127.48 L287.71 127.74 L287.84 128.05 L287.97 128.40 L288.10 128.79 L288.22 129.24 L288.35 129.73 L288.48 130.28 L288.61 130.88 L288.74 131.53 L288.87 132.25 L288.99 133.02 L289.12 133.86 L289.25 134.76 L289.38 135.74 L289.51 136.79 L289.63 137.92 L289.76 139.12 L289.89 140.40 L290.02 141.75 L290.15 143.16 L290.28 144.60 L290.40 146.04 L290.53 147.40 L290.66 148.60 L290.79 149.53 L290.92 150.06 L291.05 150.13 L291.17 149.72 L291.30 148.90 L291.43 147.77 L291.56 146.45 L291.69 145.05 L291.82 143.63 L291.94 142.23 L292.07 140.90 L292.20 139.64 L292.33 138.46 L292.46 137.36 L292.58 136.34 L292.71 135.40 L292.84 134.54 L292.97 133.75 L293.10 133.03 L293.23 132.38 L293.35 131.79 L293.48 131.26 L293.61 130.78 L293.74 130.37 L293.87 130.01 L294.00 129.69 L294.12 129.43 L294.25 129.22 L294.38 129.06 L294.51 128.94 L294.64 128.86 L294.76 128.83 L294.89 128.85 L295.02 128.91 L295.15 129.01 L295.28 129.15 L295.41 129.33 L295.53 129.56 L295.66 129.83 L295.79 130.15 L295.92 130.51 L296.05 130.91 L296.18 131.36 L296.30 131.85 L296.43 132.40 L296.56 132.99 L296.69 133.63 L296.82 134.33 L296.95 135.08 L297.07 135.88 L297.20 136.74 L297.33 137.66 L297.46 138.63 L297.59 139.66 L297.71 140.74 L297.84 141.85 L297.97 143.00 L298.10 144.16 L298.23 145.29 L298.36 146.36 L298.48 147.31 L298.61 148.08 L298.74 148.61 L298.87 148.86 L299.00 148.78 L299.13 148.40 L299.25 147.76 L299.38 146.91 L299.51 145.93 L299.64 144.86 L299.77 143.76 L299.89 142.66 L300.02 141.58 L300.15 140.55 L300.28 139.56 L300.41 138.64 L300.54 137.77 L300.66 136.97 L300.79 136.22 L300.92 135.54 L301.05 134.91 L301.18 134.34 L301.31 133.83 L301.43 133.36 L301.56 132.95 L301.69 132.59 L301.82 132.28 L301.95 132.01 L302.08 131.79 L302.20 131.62 L302.33 131.48 L302.46 131.39 L302.59 131.35 L302.72 131.34 L302.84 131.37 L302.97 131.44 L303.10 131.56 L303.23 131.71 L303.36 131.90 L303.49 132.13 L303.61 132.40 L303.74 132.71 L303.87 133.06 L304.00 133.44 L304.13 133.87 L304.26 134.34 L304.38 134.85 L304.51 135.40 L304.64 135.99 L304.77 136.62 L304.90 137.30 L305.02 138.01 L305.15 138.76 L305.28 139.55 L305.41 140.37 L305.54 141.22 L305.67 142.09 L305.79 142.96 L305.92 143.82 L306.05 144.66 L306.18 145.44 L306.31 146.15 L306.44 146.74 L306.56 147.19 L306.69 147.47 L306.82 147.57 L306.95 147.47 L307.08 147.19 L307.21 146.74 L307.33 146.15 L307.46 145.46 L307.59 144.69 L307.72 143.87 L307.85 143.04 L307.97 142.20 L308.10 141.38 L308.23 140.59 L308.36 139.83 L308.49 139.11 L308.62 138.43 L308.74 137.81 L308.87 137.22 L309.00 136.69 L309.13 136.21 L309.26 135.77 L309.39 135.38 L309.51 135.03 L309.64 134.73 L309.77 134.47 L309.90 134.25 L310.03 134.07 L310.15 133.93 L310.28 133.83 L310.41 133.77 L310.54 133.74 L310.67 133.75 L310.80 133.79 L310.92 133.86 L311.05 133.96 L311.18 134.09 L311.31 134.24 L311.44 134.43 L311.57 134.64 L311.69 134.87 L311.82 135.13 L311.95 135.42 L312.08 135.73 L312.21 136.07 L312.34 136.43 L312.46 136.81 L312.59 137.22 L312.72 137.66 L312.85 138.12 L312.98 138.61 L313.10 139.12 L313.23 139.66 L313.36 140.23 L313.49 140.83 L313.62 141.45 L313.75 142.09 L313.87 142.75 L314.00 143.44 L314.13 144.13 L314.26 144.83 L314.39 145.53 L314.52 146.21 L314.64 146.86 L314.77 147.45 L314.90 147.98 L315.03 148.40 L315.16 148.70 L315.28 148.85 L315.41 148.84 L315.54 148.66 L315.67 148.32 L315.80 147.81 L315.93 147.17 L316.05 146.42 L316.18 145.60 L316.31 144.74 L316.44 143.86 L316.57 142.99 L316.70 142.14 L316.82 141.32 L316.95 140.55 L317.08 139.83 L317.21 139.16 L317.34 138.56 L317.47 138.01 L317.59 137.52 L317.72 137.10 L317.85 136.73 L317.98 136.42 L318.11 136.16 L318.23 135.96 L318.36 135.81 L318.49 135.70 L318.62 135.65 L318.75 135.64 L318.88 135.66 L319.00 135.73 L319.13 135.82 L319.26 135.96 L319.39 136.12 L319.52 136.31 L319.65 136.54 L319.77 136.79 L319.90 137.07 L320.03 137.38 L320.16 137.72 L320.29 138.08 L320.41 138.47 L320.54 138.89 L320.67 139.33 L320.80 139.80 L320.93 140.30 L321.06 140.82 L321.18 141.37 L321.31 141.94 L321.44 142.54 L321.57 143.16 L321.70 143.81 L321.83 144.47 L321.95 145.15 L322.08 145.83 L322.21 146.52 L322.34 147.19 L322.47 147.84 L322.60 148.46 L322.72 149.01 L322.85 149.47 L322.98 149.84 L323.11 150.07 L323.24 150.16 L323.36 150.10 L323.49 149.87 L323.62 149.49 L323.75 148.97 L323.88 148.34 L324.01 147.62 L324.13 146.84 L324.26 146.03 L324.39 145.22 L324.52 144.41 L324.65 143.63 L324.78 142.89 L324.90 142.18 L325.03 141.53 L325.16 140.93 L325.29 140.39 L325.42 139.90 L325.54 139.47 L325.67 139.10 L325.80 138.78 L325.93 138.51 L326.06 138.30 L326.19 138.13 L326.31 138.02 L326.44 137.95 L326.57 137.92 L326.70 137.93 L326.83 137.98 L326.96 138.07 L327.08 138.18 L327.21 138.34 L327.34 138.52 L327.47 138.73 L327.60 138.97 L327.73 139.24 L327.85 139.54 L327.98 139.86 L328.11 140.21 L328.24 140.58 L328.37 140.98 L328.49 141.40 L328.62 141.84 L328.75 142.30 L328.88 142.79 L329.01 143.30 L329.14 143.82 L329.26 144.36 L329.39 144.92 L329.52 145.48 L329.65 146.05 L329.78 146.63 L329.91 147.21 L330.03 147.77 L330.16 148.32 L330.29 148.84 L330.42 149.32 L330.55 149.76 L330.67 150.13 L330.80 150.43 L330.93 150.65 L331.06 150.77 L331.19 150.80 L331.32 150.72 L331.44 150.55 L331.57 150.29 L331.70 149.94 L331.83 149.53 L331.96 149.07 L332.09 148.56 L332.21 148.03 L332.34 147.49 L332.47 146.94 L332.60 146.40 L332.73 145.86 L332.86 145.35 L332.98 144.86 L333.11 144.39 L333.24 143.95 L333.37 143.55 L333.50 143.17 L333.62 142.84 L333.75 142.53 L333.88 142.26 L334.01 142.02 L334.14 141.82 L334.27 141.66 L334.39 141.53 L334.52 141.43 L334.65 141.36 L334.78 141.33 L334.91 141.33 L335.04 141.37 L335.16 141.43 L335.29 141.52 L335.42 141.65 L335.55 141.80 L335.68 141.99 L335.80 142.20 L335.93 142.45 L336.06 142.72 L336.19 143.02 L336.32 143.34 L336.45 143.70 L336.57 144.07 L336.70 144.47 L336.83 144.90 L336.96 145.34 L337.09 145.80 L337.22 146.27 L337.34 146.76 L337.47 147.25 L337.60 147.74 L337.73 148.23 L337.86 148.71 L337.99 149.17 L338.11 149.60 L338.24 150.01 L338.37 150.36 L338.50 150.67 L338.63 150.92 L338.75 151.11 L338.88 151.22 L339.01 151.27 L339.14 151.24 L339.27 151.14 L339.40 150.98 L339.52 150.76 L339.65 150.49 L339.78 150.18 L339.91 149.83 L340.04 149.46 L340.17 149.07 L340.29 148.67 L340.42 148.27 L340.55 147.87 L340.68 147.48 L340.81 147.09 L340.93 146.73 L341.06 146.38 L341.19 146.05 L341.32 145.74 L341.45 145.46 L341.58 145.20 L341.70 144.96 L341.83 144.75 L341.96 144.57 L342.09 144.41 L342.22 144.29 L342.35 144.18 L342.47 144.11 L342.60 144.06 L342.73 144.04 L342.86 144.05 L342.99 144.08 L343.12 144.14 L343.24 144.22 L343.37 144.33 L343.50 144.47 L343.63 144.63 L343.76 144.81 L343.88 145.02 L344.01 145.25 L344.14 145.50 L344.27 145.78 L344.40 146.07 L344.53 146.39 L344.65 146.72 L344.78 147.07 L344.91 147.43 L345.04 147.80 L345.17 148.18 L345.30 148.56 L345.42 148.95 L345.55 149.33 L345.68 149.70 L345.81 150.07 L345.94 150.41 L346.06 150.73 L346.19 151.02 L346.32 151.27 L346.45 151.48 L346.58 151.65 L346.71 151.77 L346.83 151.84 L346.96 151.86 L347.09 151.83 L347.22 151.75 L347.35 151.62 L347.48 151.45 L347.60 151.24 L347.73 151.00 L347.86 150.74 L347.99 150.45 L348.12 150.14 L348.25 149.83 L348.37 149.51 L348.50 149.19 L348.63 148.87 L348.76 148.56 L348.89 148.25 L349.01 147.96 L349.14 147.69 L349.27 147.43 L349.40 147.19 L349.53 146.97 L349.66 146.77 L349.78 146.58 L349.91 146.43 L350.04 146.29 L350.17 146.18 L350.30 146.09 L350.43 146.02 L350.55 145.98 L350.68 145.96 L350.81 145.97 L350.94 146.00 L351.07 146.05 L351.19 146.13 L351.32 146.22 L351.45 146.34 L351.58 146.49 L351.71 146.65 L351.84 146.84 L351.96 147.04 L352.09 147.27 L352.22 147.51 L352.35 147.77 L352.48 148.05 L352.61 148.34 L352.73 148.64 L352.86 148.96 L352.99 149.28 L353.12 149.61 L353.25 149.94 L353.38 150.27 L353.50 150.59 L353.63 150.90 L353.76 151.20 L353.89 151.48 L354.02 151.74 L354.14 151.97 L354.27 152.16 L354.40 152.32 L354.53 152.45 L354.66 152.52 L354.79 152.56 L354.91 152.55 L355.04 152.50 L355.17 152.41 L355.30 152.29 L355.43 152.12 L355.56 151.93 L355.68 151.71 L355.81 151.46 L355.94 151.20 L356.07 150.93 L356.20 150.65 L356.32 150.36 L356.45 150.08 L356.58 149.80 L356.71 149.52 L356.84 149.25 L356.97 148.99 L357.09 148.75 L357.22 148.52 L357.35 148.31 L357.48 148.11 L357.61 147.94 L357.74 147.78 L357.86 147.64 L357.99 147.52 L358.12 147.43 L358.25 147.36 L358.38 147.30 L358.51 147.27 L358.63 147.26 L358.76 147.27 L358.89 147.30 L359.02 147.36 L359.15 147.43 L359.27 147.53 L359.40 147.64 L359.53 147.77 L359.66 147.92 L359.79 148.09 L359.92 148.27 L360.04 148.47 L360.17 148.68 L360.30 148.90 L360.43 149.14 L360.56 149.38 L360.69 149.64 L360.81 149.89 L360.94 150.15 L361.07 150.42 L361.20 150.68 L361.33 150.93 L361.45 151.18 L361.58 151.41 L361.71 151.63 L361.84 151.84 L361.97 152.02 L362.10 152.18 L362.22 152.32 L362.35 152.42 L362.48 152.50 L362.61 152.55 L362.74 152.56 L362.87 152.55 L362.99 152.50 L363.12 152.43 L363.25 152.32 L363.38 152.20 L363.51 152.05 L363.64 151.88 L363.76 151.69 L363.89 151.49 L364.02 151.29 L364.15 151.07 L364.28 150.86 L364.40 150.64 L364.53 150.43 L364.66 150.22 L364.79 150.02 L364.92 149.83 L365.05 149.65 L365.17 149.48 L365.30 149.33 L365.43 149.19 L365.56 149.07 L365.69 148.96 L365.82 148.87 L365.94 148.79 L366.07 148.74 L366.20 148.70 L366.33 148.67 L366.46 148.67 L366.58 148.68 L366.71 148.70 L366.84 148.74 L366.97 148.80 L367.10 148.87 L367.23 148.96 L367.35 149.06 L367.48 149.17 L367.61 149.29 L367.74 149.43 L367.87 149.57 L368.00 149.73 L368.12 149.89 L368.25 150.06 L368.38 150.24 L368.51 150.42 L368.64 150.60 L368.77 150.79 L368.89 150.97 L369.02 151.16 L369.15 151.34 L369.28 151.51 L369.41 151.68 L369.53 151.84 L369.66 151.98 L369.79 152.12 L369.92 152.24 L370.05 152.34 L370.18 152.42 L370.30 152.49 L370.43 152.53 L370.56 152.56 L370.69 152.56 L370.82 152.54 L370.95 152.51 L371.07 152.45 L371.20 152.37 L371.33 152.27 L371.46 152.16 L371.59 152.03 L371.71 151.89 L371.84 151.75 L371.97 151.59 L372.10 151.43 L372.23 151.26 L372.36 151.10 L372.48 150.93 L372.61 150.77 L372.74 150.62 L372.87 150.47 L373.00 150.33 L373.13 150.20 L373.25 150.07 L373.38 149.96 L373.51 149.87 L373.64 149.78 L373.77 149.71 L373.90 149.65 L374.02 149.61 L374.15 149.58 L374.28 149.56 L374.41 149.56 L374.54 149.57 L374.66 149.60 L374.79 149.63 L374.92 149.68 L375.05 149.75 L375.18 149.82 L375.31 149.90 L375.43 149.99 L375.56 150.10 L375.69 150.21 L375.82 150.32 L375.95 150.45 L376.08 150.58 L376.20 150.72 L376.33 150.85 L376.46 151.00 L376.59 151.14 L376.72 151.28 L376.84 151.42 L376.97 151.56 L377.10 151.70 L377.23 151.83 L377.36 151.95 L377.49 152.06 L377.61 152.17 L377.74 152.27 L377.87 152.35 L378.00 152.42 L378.13 152.48 L378.26 152.52 L378.38 152.55 L378.51 152.56 L378.64 152.56 L378.77 152.54 L378.90 152.51 L379.03 152.47 L379.15 152.41 L379.28 152.34 L379.41 152.26 L379.54 152.17 L379.67 152.07 L379.79 151.96 L379.92 151.85 L380.05 151.74 L380.18 151.62 L380.31 151.50 L380.44 151.38 L380.56 151.26 L380.69 151.14 L380.82 151.03 L380.95 150.93 L381.08 150.83 L381.21 150.74 L381.33 150.66 L381.46 150.58 L381.59 150.52 L381.72 150.47 L381.85 150.42 L381.97 150.39 L382.10 150.37 L382.23 150.37 L382.36 150.37 L382.49 150.39 L382.62 150.41 L382.74 150.45 L382.87 150.50 L383.00 150.56 L383.13 150.63 L383.26 150.71 L383.39 150.80 L383.51 150.90 L383.64 151.01 L383.77 151.12 L383.90 151.24 L384.03 151.37 L384.16 151.50 L384.28 151.63 L384.41 151.77 L384.54 151.91 L384.67 152.04 L384.80 152.18 L384.92 152.32 L385.05 152.45 L385.18 152.57 L385.31 152.69 L385.44 152.80 L385.57 152.91 L385.69 153.00 L385.82 153.08 L385.95 153.14 L386.08 153.20 L386.21 153.23 L386.34 153.26 L386.46 153.26 L386.59 153.26 L386.72 153.24 L386.85 153.20 L386.98 153.15 L387.10 153.09 L387.23 153.02 L387.36 152.94 L387.49 152.85 L387.62 152.75 L387.75 152.65 L387.87 152.54 L388.00 152.43 L388.13 152.32 L388.26 152.21 L388.39 152.10 L388.52 152.00 L388.64 151.90 L388.77 151.80 L388.90 151.71 L389.03 151.62 L389.16 151.55 L389.29 151.48 L389.41 151.42 L389.54 151.37 L389.67 151.33 L389.80 151.30 L389.93 151.27 L390.05 151.26 L390.18 151.26 L390.31 151.27 L390.44 151.28 L390.57 151.31 L390.70 151.34 L390.82 151.38 L390.95 151.43 L391.08 151.49 L391.21 151.55 L391.34 151.62 L391.47 151.70 L391.59 151.78 L391.72 151.86 L391.85 151.95 L391.98 152.04 L392.11 152.14 L392.23 152.23 L392.36 152.32 L392.49 152.42 L392.62 152.51 L392.75 152.60 L392.88 152.69 L393.00 152.78 L393.13 152.86 L393.26 152.93 L393.39 153.00 L393.52 153.06 L393.65 153.12 L393.77 153.16 L393.90 153.20 L394.03 153.23 L394.16 153.25 L394.29 153.26 L394.42 153.26 L394.54 153.26 L394.67 153.24 L394.80 153.22 L394.93 153.18 L395.06 153.14 L395.18 153.09 L395.31 153.04 L395.44 152.97 L395.57 152.91 L395.70 152.84 L395.83 152.76 L395.95 152.69 L396.08 152.61 L396.21 152.54 L396.34 152.46 L396.47 152.39 L396.60 152.31 L396.72 152.24 L396.85 152.18 L396.98 152.12 L397.11 152.06 L397.24 152.01 L397.36 151.97 L397.49 151.93 L397.62 151.91 L397.75 151.88 L397.88 151.87 L398.01 151.86 L398.13 151.86 L398.26 151.87 L398.39 151.88 L398.52 151.90 L398.65 151.93 L398.78 151.96 L398.90 152.00 L399.03 152.05 L399.16 152.10 L399.29 152.15 L399.42 152.21 L399.55 152.28 L399.67 152.35 L399.80 152.42 L399.93 152.49 L400.06 152.57 L400.19 152.64 L400.31 152.72 L400.44 152.80 L400.57 152.87 L400.70 152.95 L400.83 153.02 L400.96 153.09 L401.08 153.16 L401.21 153.22 L401.34 153.27 L401.47 153.32 L401.60 153.37 L401.73 153.40 L401.85 153.43 L401.98 153.46 L402.11 153.47 L402.24 153.48 L402.37 153.48 L402.49 153.47 L402.62 153.45 L402.75 153.42 L402.88 153.39 L403.01 153.35 L403.14 153.31 L403.26 153.26 L403.39 153.20 L403.52 153.14 L403.65 153.08 L403.78 153.01 L403.91 152.95 L404.03 152.88 L404.16 152.81 L404.29 152.75 L404.42 152.68 L404.55 152.62 L404.68 152.56 L404.80 152.51 L404.93 152.46 L405.06 152.42 L405.19 152.38 L405.32 152.34 L405.44 152.32 L405.57 152.30 L405.70 152.28 L405.83 152.27 L405.96 152.26 L406.09 152.26 L406.21 152.27 L406.34 152.28 L406.47 152.30 L406.60 152.32 L406.73 152.34 L406.86 152.37 L406.98 152.40 L407.11 152.43 L407.24 152.47 L407.37 152.51 L407.50 152.55 L407.62 152.59 L407.75 152.63 L407.88 152.68 L408.01 152.72 L408.14 152.77 L408.27 152.81 L408.39 152.86 L408.52 152.90 L408.65 152.94 L408.78 152.99 L408.91 153.02 L409.04 153.06 L409.16 153.10 L409.29 153.13 L409.42 153.16 L409.55 153.18 L409.68 153.21 L409.81 153.23 L409.93 153.24 L410.06 153.26 L410.19 153.26 L410.32 153.27 L410.45 153.27 L410.57 153.27" stroke="#ff0000" stroke-width="2.4" stroke-linejoin="round" fill="none"/>
<rect x="75.5" y="252" width="342" height="170" fill="none" stroke="#000" stroke-width="1.2"/>
<line x1="75.5" y1="422" x2="75.5" y2="412.5" stroke="#000" stroke-width="1.1"/>
<line x1="75.5" y1="252" x2="75.5" y2="261.5" stroke="#000" stroke-width="1.1"/>
<line x1="118.25" y1="422" x2="118.25" y2="417" stroke="#000" stroke-width="1.1"/>
<line x1="118.25" y1="252" x2="118.25" y2="257" stroke="#000" stroke-width="1.1"/>
<line x1="161" y1="422" x2="161" y2="412.5" stroke="#000" stroke-width="1.1"/>
<line x1="161" y1="252" x2="161" y2="261.5" stroke="#000" stroke-width="1.1"/>
<line x1="203.75" y1="422" x2="203.75" y2="417" stroke="#000" stroke-width="1.1"/>
<line x1="203.75" y1="252" x2="203.75" y2="257" stroke="#000" stroke-width="1.1"/>
<line x1="246.5" y1="422" x2="246.5" y2="412.5" stroke="#000" stroke-width="1.1"/>
<line x1="246.5" y1="252" x2="246.5" y2="261.5" stroke="#000" stroke-width="1.1"/>
<line x1="289.25" y1="422" x2="289.25" y2="417" stroke="#000" stroke-width="1.1"/>
<line x1="289.25" y1="252" x2="289.25" y2="257" stroke="#000" stroke-width="1.1"/>
<line x1="332" y1="422" x2="332" y2="412.5" stroke="#000" stroke-width="1.1"/>
<line x1="332" y1="252" x2="332" y2="261.5" stroke="#000" stroke-width="1.1"/>
<line x1="374.75" y1="422" x2="374.75" y2="417" stroke="#000" stroke-width="1.1"/>
<line x1="374.75" y1="252" x2="374.75" y2="257" stroke="#000" stroke-width="1.1"/>
<line x1="417.5" y1="422" x2="417.5" y2="412.5" stroke="#000" stroke-width="1.1"/>
<line x1="417.5" y1="252" x2="417.5" y2="261.5" stroke="#000" stroke-width="1.1"/>
<line x1="75.5" y1="415.6" x2="80.5" y2="415.6" stroke="#000" stroke-width="1.15"/>
<line x1="417.5" y1="415.6" x2="412.5" y2="415.6" stroke="#000" stroke-width="1.15"/>
<line x1="75.5" y1="411.86" x2="80.5" y2="411.86" stroke="#000" stroke-width="1.15"/>
<line x1="417.5" y1="411.86" x2="412.5" y2="411.86" stroke="#000" stroke-width="1.15"/>
<line x1="75.5" y1="409.21" x2="80.5" y2="409.21" stroke="#000" stroke-width="1.15"/>
<line x1="417.5" y1="409.21" x2="412.5" y2="409.21" stroke="#000" stroke-width="1.15"/>
<line x1="75.5" y1="407.15" x2="80.5" y2="407.15" stroke="#000" stroke-width="1.15"/>
<line x1="417.5" y1="407.15" x2="412.5" y2="407.15" stroke="#000" stroke-width="1.15"/>
<line x1="75.5" y1="405.46" x2="80.5" y2="405.46" stroke="#000" stroke-width="1.15"/>
<line x1="417.5" y1="405.46" x2="412.5" y2="405.46" stroke="#000" stroke-width="1.15"/>
<line x1="75.5" y1="404.04" x2="80.5" y2="404.04" stroke="#000" stroke-width="1.15"/>
<line x1="417.5" y1="404.04" x2="412.5" y2="404.04" stroke="#000" stroke-width="1.15"/>
<line x1="75.5" y1="402.81" x2="80.5" y2="402.81" stroke="#000" stroke-width="1.15"/>
<line x1="417.5" y1="402.81" x2="412.5" y2="402.81" stroke="#000" stroke-width="1.15"/>
<line x1="75.5" y1="401.72" x2="80.5" y2="401.72" stroke="#000" stroke-width="1.15"/>
<line x1="417.5" y1="401.72" x2="412.5" y2="401.72" stroke="#000" stroke-width="1.15"/>
<line x1="75.5" y1="400.75" x2="85.5" y2="400.75" stroke="#000" stroke-width="1.15"/>
<line x1="417.5" y1="400.75" x2="407.5" y2="400.75" stroke="#000" stroke-width="1.15"/>
<line x1="75.5" y1="394.35" x2="80.5" y2="394.35" stroke="#000" stroke-width="1.15"/>
<line x1="417.5" y1="394.35" x2="412.5" y2="394.35" stroke="#000" stroke-width="1.15"/>
<line x1="75.5" y1="390.61" x2="80.5" y2="390.61" stroke="#000" stroke-width="1.15"/>
<line x1="417.5" y1="390.61" x2="412.5" y2="390.61" stroke="#000" stroke-width="1.15"/>
<line x1="75.5" y1="387.96" x2="80.5" y2="387.96" stroke="#000" stroke-width="1.15"/>
<line x1="417.5" y1="387.96" x2="412.5" y2="387.96" stroke="#000" stroke-width="1.15"/>
<line x1="75.5" y1="385.9" x2="80.5" y2="385.9" stroke="#000" stroke-width="1.15"/>
<line x1="417.5" y1="385.9" x2="412.5" y2="385.9" stroke="#000" stroke-width="1.15"/>
<line x1="75.5" y1="384.21" x2="80.5" y2="384.21" stroke="#000" stroke-width="1.15"/>
<line x1="417.5" y1="384.21" x2="412.5" y2="384.21" stroke="#000" stroke-width="1.15"/>
<line x1="75.5" y1="382.79" x2="80.5" y2="382.79" stroke="#000" stroke-width="1.15"/>
<line x1="417.5" y1="382.79" x2="412.5" y2="382.79" stroke="#000" stroke-width="1.15"/>
<line x1="75.5" y1="381.56" x2="80.5" y2="381.56" stroke="#000" stroke-width="1.15"/>
<line x1="417.5" y1="381.56" x2="412.5" y2="381.56" stroke="#000" stroke-width="1.15"/>
<line x1="75.5" y1="380.47" x2="80.5" y2="380.47" stroke="#000" stroke-width="1.15"/>
<line x1="417.5" y1="380.47" x2="412.5" y2="380.47" stroke="#000" stroke-width="1.15"/>
<line x1="75.5" y1="379.5" x2="85.5" y2="379.5" stroke="#000" stroke-width="1.15"/>
<line x1="417.5" y1="379.5" x2="407.5" y2="379.5" stroke="#000" stroke-width="1.15"/>
<line x1="75.5" y1="373.1" x2="80.5" y2="373.1" stroke="#000" stroke-width="1.15"/>
<line x1="417.5" y1="373.1" x2="412.5" y2="373.1" stroke="#000" stroke-width="1.15"/>
<line x1="75.5" y1="369.36" x2="80.5" y2="369.36" stroke="#000" stroke-width="1.15"/>
<line x1="417.5" y1="369.36" x2="412.5" y2="369.36" stroke="#000" stroke-width="1.15"/>
<line x1="75.5" y1="366.71" x2="80.5" y2="366.71" stroke="#000" stroke-width="1.15"/>
<line x1="417.5" y1="366.71" x2="412.5" y2="366.71" stroke="#000" stroke-width="1.15"/>
<line x1="75.5" y1="364.65" x2="80.5" y2="364.65" stroke="#000" stroke-width="1.15"/>
<line x1="417.5" y1="364.65" x2="412.5" y2="364.65" stroke="#000" stroke-width="1.15"/>
<line x1="75.5" y1="362.96" x2="80.5" y2="362.96" stroke="#000" stroke-width="1.15"/>
<line x1="417.5" y1="362.96" x2="412.5" y2="362.96" stroke="#000" stroke-width="1.15"/>
<line x1="75.5" y1="361.54" x2="80.5" y2="361.54" stroke="#000" stroke-width="1.15"/>
<line x1="417.5" y1="361.54" x2="412.5" y2="361.54" stroke="#000" stroke-width="1.15"/>
<line x1="75.5" y1="360.31" x2="80.5" y2="360.31" stroke="#000" stroke-width="1.15"/>
<line x1="417.5" y1="360.31" x2="412.5" y2="360.31" stroke="#000" stroke-width="1.15"/>
<line x1="75.5" y1="359.22" x2="80.5" y2="359.22" stroke="#000" stroke-width="1.15"/>
<line x1="417.5" y1="359.22" x2="412.5" y2="359.22" stroke="#000" stroke-width="1.15"/>
<line x1="75.5" y1="358.25" x2="85.5" y2="358.25" stroke="#000" stroke-width="1.15"/>
<line x1="417.5" y1="358.25" x2="407.5" y2="358.25" stroke="#000" stroke-width="1.15"/>
<line x1="75.5" y1="351.85" x2="80.5" y2="351.85" stroke="#000" stroke-width="1.15"/>
<line x1="417.5" y1="351.85" x2="412.5" y2="351.85" stroke="#000" stroke-width="1.15"/>
<line x1="75.5" y1="348.11" x2="80.5" y2="348.11" stroke="#000" stroke-width="1.15"/>
<line x1="417.5" y1="348.11" x2="412.5" y2="348.11" stroke="#000" stroke-width="1.15"/>
<line x1="75.5" y1="345.46" x2="80.5" y2="345.46" stroke="#000" stroke-width="1.15"/>
<line x1="417.5" y1="345.46" x2="412.5" y2="345.46" stroke="#000" stroke-width="1.15"/>
<line x1="75.5" y1="343.4" x2="80.5" y2="343.4" stroke="#000" stroke-width="1.15"/>
<line x1="417.5" y1="343.4" x2="412.5" y2="343.4" stroke="#000" stroke-width="1.15"/>
<line x1="75.5" y1="341.71" x2="80.5" y2="341.71" stroke="#000" stroke-width="1.15"/>
<line x1="417.5" y1="341.71" x2="412.5" y2="341.71" stroke="#000" stroke-width="1.15"/>
<line x1="75.5" y1="340.29" x2="80.5" y2="340.29" stroke="#000" stroke-width="1.15"/>
<line x1="417.5" y1="340.29" x2="412.5" y2="340.29" stroke="#000" stroke-width="1.15"/>
<line x1="75.5" y1="339.06" x2="80.5" y2="339.06" stroke="#000" stroke-width="1.15"/>
<line x1="417.5" y1="339.06" x2="412.5" y2="339.06" stroke="#000" stroke-width="1.15"/>
<line x1="75.5" y1="337.97" x2="80.5" y2="337.97" stroke="#000" stroke-width="1.15"/>
<line x1="417.5" y1="337.97" x2="412.5" y2="337.97" stroke="#000" stroke-width="1.15"/>
<line x1="75.5" y1="337" x2="85.5" y2="337" stroke="#000" stroke-width="1.15"/>
<line x1="417.5" y1="337" x2="407.5" y2="337" stroke="#000" stroke-width="1.15"/>
<line x1="75.5" y1="330.6" x2="80.5" y2="330.6" stroke="#000" stroke-width="1.15"/>
<line x1="417.5" y1="330.6" x2="412.5" y2="330.6" stroke="#000" stroke-width="1.15"/>
<line x1="75.5" y1="326.86" x2="80.5" y2="326.86" stroke="#000" stroke-width="1.15"/>
<line x1="417.5" y1="326.86" x2="412.5" y2="326.86" stroke="#000" stroke-width="1.15"/>
<line x1="75.5" y1="324.21" x2="80.5" y2="324.21" stroke="#000" stroke-width="1.15"/>
<line x1="417.5" y1="324.21" x2="412.5" y2="324.21" stroke="#000" stroke-width="1.15"/>
<line x1="75.5" y1="322.15" x2="80.5" y2="322.15" stroke="#000" stroke-width="1.15"/>
<line x1="417.5" y1="322.15" x2="412.5" y2="322.15" stroke="#000" stroke-width="1.15"/>
<line x1="75.5" y1="320.46" x2="80.5" y2="320.46" stroke="#000" stroke-width="1.15"/>
<line x1="417.5" y1="320.46" x2="412.5" y2="320.46" stroke="#000" stroke-width="1.15"/>
<line x1="75.5" y1="319.04" x2="80.5" y2="319.04" stroke="#000" stroke-width="1.15"/>
<line x1="417.5" y1="319.04" x2="412.5" y2="319.04" stroke="#000" stroke-width="1.15"/>
<line x1="75.5" y1="317.81" x2="80.5" y2="317.81" stroke="#000" stroke-width="1.15"/>
<line x1="417.5" y1="317.81" x2="412.5" y2="317.81" stroke="#000" stroke-width="1.15"/>
<line x1="75.5" y1="316.72" x2="80.5" y2="316.72" stroke="#000" stroke-width="1.15"/>
<line x1="417.5" y1="316.72" x2="412.5" y2="316.72" stroke="#000" stroke-width="1.15"/>
<line x1="75.5" y1="315.75" x2="85.5" y2="315.75" stroke="#000" stroke-width="1.15"/>
<line x1="417.5" y1="315.75" x2="407.5" y2="315.75" stroke="#000" stroke-width="1.15"/>
<line x1="75.5" y1="309.35" x2="80.5" y2="309.35" stroke="#000" stroke-width="1.15"/>
<line x1="417.5" y1="309.35" x2="412.5" y2="309.35" stroke="#000" stroke-width="1.15"/>
<line x1="75.5" y1="305.61" x2="80.5" y2="305.61" stroke="#000" stroke-width="1.15"/>
<line x1="417.5" y1="305.61" x2="412.5" y2="305.61" stroke="#000" stroke-width="1.15"/>
<line x1="75.5" y1="302.96" x2="80.5" y2="302.96" stroke="#000" stroke-width="1.15"/>
<line x1="417.5" y1="302.96" x2="412.5" y2="302.96" stroke="#000" stroke-width="1.15"/>
<line x1="75.5" y1="300.9" x2="80.5" y2="300.9" stroke="#000" stroke-width="1.15"/>
<line x1="417.5" y1="300.9" x2="412.5" y2="300.9" stroke="#000" stroke-width="1.15"/>
<line x1="75.5" y1="299.21" x2="80.5" y2="299.21" stroke="#000" stroke-width="1.15"/>
<line x1="417.5" y1="299.21" x2="412.5" y2="299.21" stroke="#000" stroke-width="1.15"/>
<line x1="75.5" y1="297.79" x2="80.5" y2="297.79" stroke="#000" stroke-width="1.15"/>
<line x1="417.5" y1="297.79" x2="412.5" y2="297.79" stroke="#000" stroke-width="1.15"/>
<line x1="75.5" y1="296.56" x2="80.5" y2="296.56" stroke="#000" stroke-width="1.15"/>
<line x1="417.5" y1="296.56" x2="412.5" y2="296.56" stroke="#000" stroke-width="1.15"/>
<line x1="75.5" y1="295.47" x2="80.5" y2="295.47" stroke="#000" stroke-width="1.15"/>
<line x1="417.5" y1="295.47" x2="412.5" y2="295.47" stroke="#000" stroke-width="1.15"/>
<line x1="75.5" y1="294.5" x2="85.5" y2="294.5" stroke="#000" stroke-width="1.15"/>
<line x1="417.5" y1="294.5" x2="407.5" y2="294.5" stroke="#000" stroke-width="1.15"/>
<line x1="75.5" y1="288.1" x2="80.5" y2="288.1" stroke="#000" stroke-width="1.15"/>
<line x1="417.5" y1="288.1" x2="412.5" y2="288.1" stroke="#000" stroke-width="1.15"/>
<line x1="75.5" y1="284.36" x2="80.5" y2="284.36" stroke="#000" stroke-width="1.15"/>
<line x1="417.5" y1="284.36" x2="412.5" y2="284.36" stroke="#000" stroke-width="1.15"/>
<line x1="75.5" y1="281.71" x2="80.5" y2="281.71" stroke="#000" stroke-width="1.15"/>
<line x1="417.5" y1="281.71" x2="412.5" y2="281.71" stroke="#000" stroke-width="1.15"/>
<line x1="75.5" y1="279.65" x2="80.5" y2="279.65" stroke="#000" stroke-width="1.15"/>
<line x1="417.5" y1="279.65" x2="412.5" y2="279.65" stroke="#000" stroke-width="1.15"/>
<line x1="75.5" y1="277.96" x2="80.5" y2="277.96" stroke="#000" stroke-width="1.15"/>
<line x1="417.5" y1="277.96" x2="412.5" y2="277.96" stroke="#000" stroke-width="1.15"/>
<line x1="75.5" y1="276.54" x2="80.5" y2="276.54" stroke="#000" stroke-width="1.15"/>
<line x1="417.5" y1="276.54" x2="412.5" y2="276.54" stroke="#000" stroke-width="1.15"/>
<line x1="75.5" y1="275.31" x2="80.5" y2="275.31" stroke="#000" stroke-width="1.15"/>
<line x1="417.5" y1="275.31" x2="412.5" y2="275.31" stroke="#000" stroke-width="1.15"/>
<line x1="75.5" y1="274.22" x2="80.5" y2="274.22" stroke="#000" stroke-width="1.15"/>
<line x1="417.5" y1="274.22" x2="412.5" y2="274.22" stroke="#000" stroke-width="1.15"/>
<line x1="75.5" y1="273.25" x2="85.5" y2="273.25" stroke="#000" stroke-width="1.15"/>
<line x1="417.5" y1="273.25" x2="407.5" y2="273.25" stroke="#000" stroke-width="1.15"/>
<line x1="75.5" y1="266.85" x2="80.5" y2="266.85" stroke="#000" stroke-width="1.15"/>
<line x1="417.5" y1="266.85" x2="412.5" y2="266.85" stroke="#000" stroke-width="1.15"/>
<line x1="75.5" y1="263.11" x2="80.5" y2="263.11" stroke="#000" stroke-width="1.15"/>
<line x1="417.5" y1="263.11" x2="412.5" y2="263.11" stroke="#000" stroke-width="1.15"/>
<line x1="75.5" y1="260.46" x2="80.5" y2="260.46" stroke="#000" stroke-width="1.15"/>
<line x1="417.5" y1="260.46" x2="412.5" y2="260.46" stroke="#000" stroke-width="1.15"/>
<line x1="75.5" y1="258.4" x2="80.5" y2="258.4" stroke="#000" stroke-width="1.15"/>
<line x1="417.5" y1="258.4" x2="412.5" y2="258.4" stroke="#000" stroke-width="1.15"/>
<line x1="75.5" y1="256.71" x2="80.5" y2="256.71" stroke="#000" stroke-width="1.15"/>
<line x1="417.5" y1="256.71" x2="412.5" y2="256.71" stroke="#000" stroke-width="1.15"/>
<line x1="75.5" y1="255.29" x2="80.5" y2="255.29" stroke="#000" stroke-width="1.15"/>
<line x1="417.5" y1="255.29" x2="412.5" y2="255.29" stroke="#000" stroke-width="1.15"/>
<line x1="75.5" y1="254.06" x2="80.5" y2="254.06" stroke="#000" stroke-width="1.15"/>
<line x1="417.5" y1="254.06" x2="412.5" y2="254.06" stroke="#000" stroke-width="1.15"/>
<line x1="75.5" y1="252.97" x2="80.5" y2="252.97" stroke="#000" stroke-width="1.15"/>
<line x1="417.5" y1="252.97" x2="412.5" y2="252.97" stroke="#000" stroke-width="1.15"/>
<text transform="translate(75.5,448.2) scale(1,1.05)" text-anchor="middle" font-size="20">0</text>
<text transform="translate(161,448.2) scale(1,1.05)" text-anchor="middle" font-size="20">2</text>
<text transform="translate(246.5,448.2) scale(1,1.05)" text-anchor="middle" font-size="20">4</text>
<text transform="translate(332,448.2) scale(1,1.05)" text-anchor="middle" font-size="20">6</text>
<text transform="translate(417.5,448.2) scale(1,1.05)" text-anchor="middle" font-size="20">8</text>
<text transform="translate(64.4,430) scale(1,1.05)" text-anchor="end" font-size="20">10<tspan dy="-7.4" font-size="13.5">-1</tspan></text>
<text transform="translate(64.4,387.5) scale(1,1.05)" text-anchor="end" font-size="20">10<tspan dy="-7.4" font-size="13.5">1</tspan></text>
<text transform="translate(64.4,345) scale(1,1.05)" text-anchor="end" font-size="20">10<tspan dy="-7.4" font-size="13.5">3</tspan></text>
<text transform="translate(64.4,302.5) scale(1,1.05)" text-anchor="end" font-size="20">10<tspan dy="-7.4" font-size="13.5">5</tspan></text>
<text transform="translate(64.4,260) scale(1,1.05)" text-anchor="end" font-size="20">10<tspan dy="-7.4" font-size="13.5">7</tspan></text>
<text transform="translate(246,474.2) scale(1,1.05)" text-anchor="middle" font-size="20">2<tspan font-family="Liberation Serif">θ</tspan> (deg)</text>
<text transform="translate(19.9,337.5) rotate(-90)" text-anchor="middle" font-size="20">counts/second</text>
<text transform="translate(-1.5,248.5) scale(1,1.05)" text-anchor="start" font-size="20">(c)</text>
<text transform="translate(96.8,396.9) scale(1,1.05)" text-anchor="start" font-size="20">650<tspan dy="-6.8" font-size="14.5">o</tspan><tspan dy="6.8">C</tspan></text>
<path d="M96.9 277.2h0M97.1 277.4h0M97.3 276.9h0M97.5 277.4h0M97.7 277.9h0M97.9 277.9h0M98.2 277.0h0M98.4 277.4h0M98.6 277.1h0M98.8 277.6h0M99.0 277.4h0M99.2 277.9h0M99.4 277.0h0M99.7 276.9h0M99.9 277.3h0M100.1 276.9h0M100.3 277.3h0M100.5 276.9h0M100.7 277.1h0M100.9 277.2h0M101.2 276.8h0M101.4 277.5h0M101.6 276.3h0M101.8 277.4h0M102.0 277.5h0M102.2 276.8h0M102.4 277.2h0M102.6 276.6h0M102.9 277.3h0M103.1 276.3h0M103.3 276.4h0M103.5 277.1h0M103.7 276.1h0M103.9 276.9h0M104.1 276.7h0M104.4 276.9h0M104.6 276.6h0M104.8 276.5h0M105.0 276.7h0M105.2 276.5h0M105.4 276.6h0M105.6 276.5h0M105.9 277.0h0M106.1 276.7h0M106.3 277.0h0M106.5 276.6h0M106.7 276.6h0M106.9 276.6h0M107.1 276.8h0M107.3 276.0h0M107.6 276.9h0M107.8 276.4h0M108.0 276.7h0M108.2 276.1h0M108.4 276.2h0M108.6 276.4h0M108.8 276.4h0M109.1 276.9h0M109.3 276.9h0M109.5 276.4h0M109.7 276.6h0M109.9 277.1h0M110.1 276.7h0M110.3 277.1h0M110.6 277.1h0M110.8 276.7h0M111.0 276.7h0M111.2 276.8h0M111.4 276.9h0M111.6 277.1h0M111.8 276.9h0M112.1 276.9h0M112.3 277.0h0M112.5 276.1h0M112.7 277.0h0M112.9 276.9h0M113.1 277.2h0M113.3 277.1h0M113.5 277.0h0M113.8 276.9h0M114.0 278.1h0M114.2 276.8h0M114.4 277.0h0M114.6 277.2h0M114.8 277.6h0M115.0 277.9h0M115.3 277.8h0M115.5 277.3h0M115.7 277.4h0M115.9 277.7h0M116.1 277.6h0M116.3 278.2h0M116.5 278.4h0M116.8 277.8h0M117.0 278.0h0M117.2 278.3h0M117.4 278.4h0M117.6 279.0h0M117.8 280.0h0M118.0 279.6h0M118.3 279.5h0M118.5 280.2h0M118.7 280.3h0M118.9 280.6h0M119.1 281.4h0M119.3 281.3h0M119.5 281.8h0M119.7 282.7h0M120.0 282.3h0M120.2 283.4h0M120.4 283.3h0M120.6 283.7h0M120.8 284.5h0M121.0 285.0h0M121.2 285.0h0M121.5 285.5h0M121.7 285.7h0M121.9 286.4h0M122.1 286.7h0M122.3 287.2h0M122.5 287.4h0M122.7 288.4h0M123.0 289.0h0M123.2 288.6h0M123.4 289.2h0M123.6 289.7h0M123.8 289.3h0M124.0 290.6h0M124.2 290.6h0M124.4 290.6h0M124.7 291.2h0M124.9 291.6h0M125.1 291.7h0M125.3 292.2h0M125.5 292.9h0M125.7 293.2h0M125.9 293.0h0M126.2 293.3h0M126.4 294.2h0M126.6 294.0h0M126.8 294.0h0M127.0 294.0h0M127.2 293.8h0M127.4 294.0h0M127.7 294.5h0M127.9 294.8h0M128.1 295.0h0M128.3 296.2h0M128.5 297.2h0M128.7 297.5h0M128.9 298.6h0M129.2 300.0h0M129.4 301.4h0M129.6 303.3h0M129.8 304.3h0M130.0 305.0h0M130.2 304.9h0M130.4 305.9h0M130.6 305.9h0M130.9 306.1h0M131.1 305.1h0M131.3 305.7h0M131.5 304.0h0M131.7 304.0h0M131.9 304.4h0M132.1 303.2h0M132.4 302.9h0M132.6 302.9h0M132.8 303.2h0M133.0 304.0h0M133.2 304.7h0M133.4 305.5h0M133.6 306.9h0M133.9 307.4h0M134.1 309.6h0M134.3 310.4h0M134.5 311.8h0M134.7 313.2h0M134.9 313.2h0M135.1 314.3h0M135.4 315.1h0M135.6 315.3h0M135.8 315.0h0M136.0 314.1h0M136.2 314.0h0M136.4 313.6h0M136.6 312.5h0M136.8 312.1h0M137.1 311.1h0M137.3 310.7h0M137.5 310.4h0M137.7 310.6h0M137.9 311.0h0M138.1 312.1h0M138.3 312.4h0M138.6 313.2h0M138.8 315.2h0M139.0 315.9h0M139.2 317.8h0M139.4 319.3h0M139.6 320.8h0M139.8 321.9h0M140.1 323.5h0M140.3 324.8h0M140.5 326.2h0M140.7 326.3h0M140.9 327.6h0M141.1 327.1h0M141.3 326.9h0M141.5 326.5h0M141.8 326.2h0M142.0 324.6h0M142.2 323.5h0M142.4 321.3h0M142.6 320.3h0M142.8 319.0h0M143.0 318.1h0M143.3 317.4h0M143.5 316.9h0M143.7 316.6h0M143.9 317.5h0M144.1 318.1h0M144.3 319.4h0M144.5 320.7h0M144.8 322.7h0M145.0 324.1h0M145.2 325.9h0M145.4 327.4h0M145.6 330.4h0M145.8 332.0h0M146.0 333.3h0M146.3 334.8h0M146.5 336.6h0M146.7 337.8h0M146.9 338.5h0M147.1 338.9h0M147.3 338.9h0M147.5 338.7h0M147.7 337.3h0M148.0 335.9h0M148.2 333.8h0M148.4 330.6h0M148.6 327.7h0M148.8 325.8h0M149.0 324.9h0M149.2 322.8h0M149.5 322.2h0M149.7 322.7h0M149.9 323.6h0M150.1 324.8h0M150.3 326.3h0M150.5 327.0h0M150.7 329.3h0M151.0 331.2h0M151.2 333.1h0M151.4 335.0h0M151.6 336.8h0M151.8 338.8h0M152.0 340.3h0M152.2 342.1h0M152.5 343.5h0M152.7 344.9h0M152.9 345.0h0M153.1 345.1h0M153.3 345.4h0M153.5 344.9h0M153.7 344.7h0M153.9 343.8h0M154.2 342.4h0M154.4 340.9h0M154.6 338.5h0M154.8 336.7h0M155.0 335.6h0M155.2 333.6h0M155.4 332.7h0M155.7 330.9h0M155.9 329.9h0M156.1 330.0h0M156.3 329.3h0M156.5 330.2h0M156.7 330.9h0M156.9 331.7h0M157.2 334.2h0M157.4 335.5h0M157.6 337.9h0M157.8 339.6h0M158.0 342.5h0M158.2 345.0h0M158.4 347.1h0M158.6 349.4h0M158.9 352.2h0M159.1 349.5h0M159.3 353.7h0M159.5 353.1h0M159.7 355.3h0M159.9 356.5h0M160.1 356.0h0M160.4 357.5h0M160.6 354.5h0M160.8 350.4h0M161.0 348.7h0M161.2 346.0h0M161.4 344.1h0M161.6 342.4h0M161.9 340.5h0M162.1 338.8h0M162.3 337.7h0M162.5 336.5h0M162.7 335.4h0M162.9 335.2h0M163.1 335.0h0M163.4 336.1h0M163.6 337.2h0M163.8 337.9h0M164.0 339.5h0M164.2 341.7h0M164.4 343.3h0M164.6 344.7h0M164.8 347.0h0M165.1 348.3h0M165.3 350.9h0M165.5 351.5h0M165.7 351.9h0M165.9 355.8h0M166.1 354.4h0M166.3 357.3h0M166.6 353.9h0M166.8 356.2h0M167.0 355.8h0M167.2 354.2h0M167.4 354.9h0M167.6 353.9h0M167.8 351.2h0M168.1 350.6h0M168.3 349.1h0M168.5 347.1h0M168.7 345.6h0M168.9 343.8h0M169.1 343.4h0M169.3 341.6h0M169.6 341.7h0M169.8 340.2h0M170.0 340.4h0M170.2 340.4h0M170.4 340.1h0M170.6 340.8h0M170.8 341.4h0M171.0 342.6h0M171.3 344.1h0M171.5 345.1h0M171.7 347.0h0M171.9 348.6h0M172.1 350.1h0M172.3 351.6h0M172.5 352.3h0M172.8 353.1h0M173.0 353.6h0M173.2 356.3h0M173.4 354.1h0M173.6 357.4h0M173.8 354.5h0M174.0 354.8h0M174.3 353.4h0M174.5 353.5h0M174.7 351.7h0M174.9 350.6h0M175.1 348.6h0M175.3 347.6h0M175.5 347.4h0M175.7 346.2h0M176.0 345.3h0M176.2 345.2h0M176.4 344.9h0M176.6 344.6h0M176.8 344.3h0M177.0 344.6h0M177.2 344.6h0M177.5 345.0h0M177.7 345.8h0M177.9 347.1h0M178.1 347.9h0M178.3 348.6h0M178.5 349.6h0M178.7 349.3h0M179.0 351.3h0M179.2 350.7h0M179.4 350.7h0M179.6 352.8h0M179.8 355.3h0M180.0 353.2h0M180.2 353.4h0M180.5 354.0h0M180.7 353.0h0M180.9 355.3h0M181.1 356.0h0M181.3 354.8h0M181.5 354.3h0M181.7 355.3h0M181.9 350.8h0M182.2 351.1h0M182.4 352.8h0M182.6 351.3h0M182.8 350.1h0M183.0 348.6h0M183.2 350.1h0M183.4 348.7h0M183.7 348.4h0M183.9 349.0h0M184.1 348.6h0M184.3 349.6h0M184.5 349.0h0M184.7 349.7h0M184.9 350.4h0M185.2 350.2h0M185.4 351.8h0M185.6 351.8h0M185.8 353.6h0M186.0 353.9h0M186.2 352.0h0M186.4 357.1h0M186.7 354.5h0M186.9 355.3h0M187.1 356.9h0M187.3 356.5h0M187.5 358.3h0M187.7 360.0h0M187.9 355.6h0M188.1 357.9h0M188.4 358.1h0M188.6 352.0h0M188.8 355.9h0M189.0 354.5h0M189.2 356.3h0M189.4 356.4h0M189.6 352.0h0M189.9 353.9h0M190.1 351.7h0M190.3 350.5h0M190.5 353.8h0M190.7 351.5h0M190.9 352.7h0M191.1 349.4h0M191.4 352.9h0M191.6 353.5h0M191.8 356.8h0M192.0 354.6h0M192.2 353.9h0M192.4 356.5h0M192.6 355.9h0M192.8 356.9h0M193.1 357.2h0M193.3 353.7h0M193.5 358.0h0M193.7 358.2h0M193.9 357.5h0M194.1 359.2h0M194.3 359.2h0M194.6 360.0h0M194.8 357.0h0M195.0 359.7h0M195.2 359.6h0M195.4 356.0h0M195.6 357.1h0M195.8 357.3h0M196.1 357.0h0M196.3 358.3h0M196.5 356.7h0M196.7 355.1h0M196.9 357.0h0M197.1 357.1h0M197.3 355.0h0M197.6 355.9h0M197.8 353.4h0M198.0 358.5h0M198.2 355.2h0M198.4 355.5h0M198.6 354.8h0M198.8 357.0h0M199.0 357.9h0M199.3 357.0h0M199.5 356.2h0M199.7 358.2h0M199.9 356.4h0M200.1 355.2h0M200.3 356.5h0M200.5 358.6h0M200.8 358.9h0M201.0 360.4h0M201.2 361.7h0M201.4 360.7h0M201.6 359.0h0M201.8 362.1h0M202.0 363.0h0M202.3 358.1h0M202.5 361.4h0M202.7 361.3h0M202.9 362.8h0M203.1 359.7h0M203.3 362.8h0M203.5 361.0h0M203.8 360.1h0M204.0 360.1h0M204.2 358.6h0M204.4 361.3h0M204.6 356.6h0M204.8 358.2h0M205.0 358.6h0M205.2 357.0h0M205.5 359.0h0M205.7 357.8h0M205.9 358.5h0M206.1 362.5h0M206.3 361.7h0M206.5 359.2h0M206.7 359.6h0M207.0 359.5h0M207.2 360.7h0M207.4 358.1h0M207.6 359.2h0M207.8 360.7h0M208.0 361.0h0M208.2 361.7h0M208.5 361.2h0M208.7 361.3h0M208.9 364.5h0M209.1 361.7h0M209.3 361.4h0M209.5 361.3h0M209.7 365.4h0M209.9 363.0h0M210.2 363.6h0M210.4 361.4h0M210.6 361.7h0M210.8 361.0h0M211.0 359.5h0M211.2 359.3h0M211.4 360.4h0M211.7 361.3h0M211.9 362.2h0M212.1 361.2h0M212.3 361.9h0M212.5 363.0h0M212.7 361.9h0M212.9 361.9h0M213.2 364.6h0M213.4 362.1h0M213.6 364.3h0M213.8 361.7h0M214.0 363.3h0M214.2 361.3h0M214.4 361.7h0M214.7 363.3h0M214.9 358.1h0M215.1 361.4h0M215.3 363.3h0M215.5 361.7h0M215.7 364.6h0M215.9 361.2h0M216.1 362.8h0M216.4 365.4h0M216.6 363.1h0M216.8 362.2h0M217.0 363.6h0M217.2 366.3h0M217.4 364.1h0M217.6 363.6h0M217.9 366.7h0M218.1 366.9h0M218.3 363.8h0M218.5 361.5h0M218.7 362.1h0M218.9 363.6h0M219.1 363.4h0M219.4 361.2h0M219.6 360.4h0M219.8 364.1h0M220.0 363.3h0M220.2 365.0h0M220.4 363.8h0M220.6 366.0h0M220.9 362.7h0M221.1 365.6h0M221.3 363.3h0M221.5 363.6h0M221.7 364.5h0M221.9 365.4h0M222.1 365.8h0M222.3 367.2h0M222.6 364.6h0M222.8 363.9h0M223.0 366.5h0M223.2 364.3h0M223.4 369.1h0M223.6 366.0h0M223.8 364.3h0M224.1 363.9h0M224.3 368.2h0M224.5 365.6h0M224.7 364.3h0M224.9 370.7h0M225.1 363.6h0M225.3 364.1h0M225.6 366.3h0M225.8 363.1h0M226.0 363.1h0M226.2 366.0h0M226.4 366.5h0M226.6 367.4h0M226.8 368.2h0M227.0 367.4h0M227.3 364.5h0M227.5 366.9h0M227.7 370.3h0M227.9 366.5h0M228.1 366.3h0M228.3 365.6h0M228.5 368.8h0M228.8 366.0h0M229.0 367.7h0M229.2 366.3h0M229.4 369.4h0M229.6 370.3h0M229.8 365.8h0M230.0 366.7h0M230.3 363.8h0M230.5 363.9h0M230.7 367.9h0M230.9 371.4h0M231.1 368.2h0M231.3 368.8h0M231.5 368.5h0M231.8 368.5h0M232.0 365.8h0M232.2 368.8h0M232.4 371.8h0M232.6 368.8h0M232.8 369.7h0M233.0 369.7h0M233.2 370.0h0M233.5 369.4h0M233.7 366.3h0M233.9 369.7h0M234.1 367.7h0M234.3 365.0h0M234.5 371.4h0M234.7 368.5h0M235.0 368.8h0M235.2 368.5h0M235.4 371.0h0M235.6 369.7h0M235.8 367.9h0M236.0 370.3h0M236.2 370.3h0M236.5 373.1h0M236.7 373.6h0M236.9 369.1h0M237.1 371.4h0M237.3 371.0h0M237.5 370.3h0M237.7 369.4h0M238.0 371.4h0M238.2 368.2h0M238.4 367.4h0M238.6 370.7h0M238.8 370.0h0M239.0 372.2h0M239.2 368.5h0M239.4 369.1h0M239.7 369.1h0M239.9 367.2h0M240.1 372.7h0M240.3 370.7h0M240.5 371.4h0M240.7 371.8h0M240.9 374.6h0M241.2 371.8h0M241.4 370.3h0M241.6 375.2h0M241.8 372.2h0M242.0 368.8h0M242.2 370.3h0M242.4 371.8h0M242.7 371.8h0M242.9 372.7h0M243.1 370.0h0M243.3 375.2h0M243.5 370.7h0M243.7 370.7h0M243.9 376.4h0M244.1 376.4h0M244.4 372.7h0M244.6 368.8h0M244.8 370.7h0M245.0 367.2h0M245.2 371.4h0M245.4 372.7h0M245.6 370.0h0M245.9 375.8h0M246.1 375.8h0M246.3 369.1h0M246.5 373.1h0M246.7 374.6h0M246.9 370.3h0M247.1 375.8h0M247.4 371.0h0M247.6 374.6h0M247.8 373.6h0M248.0 374.6h0M248.2 371.4h0M248.4 370.3h0M248.6 377.8h0M248.9 371.0h0M249.1 371.8h0M249.3 372.2h0M249.5 373.1h0M249.7 378.6h0M249.9 376.4h0M250.1 372.7h0M250.3 374.6h0M250.6 377.8h0M250.8 374.6h0M251.0 377.1h0M251.2 372.7h0M251.4 370.3h0M251.6 370.7h0M251.8 376.4h0M252.1 372.7h0M252.3 375.8h0M252.5 375.2h0M252.7 374.1h0M252.9 373.6h0M253.1 377.8h0M253.3 377.1h0M253.6 376.4h0M253.8 380.5h0M254.0 378.6h0M254.2 374.6h0M254.4 372.7h0M254.6 375.8h0M254.8 376.4h0M255.1 371.8h0M255.3 378.6h0M255.5 375.8h0M255.7 378.6h0M255.9 374.1h0M256.1 375.8h0M256.3 374.6h0M256.5 371.4h0M256.8 379.5h0M257.0 375.8h0M257.2 375.2h0M257.4 375.2h0M257.6 372.2h0M257.8 374.1h0M258.0 377.8h0M258.3 378.6h0M258.5 381.6h0M258.7 379.5h0M258.9 377.8h0M259.1 375.8h0M259.3 382.8h0M259.5 373.1h0M259.8 372.7h0M260.0 375.2h0M260.2 378.6h0M260.4 377.1h0M260.6 373.6h0M260.8 375.2h0M261.0 372.7h0M261.2 375.2h0M261.5 374.6h0M261.7 374.1h0M261.9 371.8h0M262.1 379.5h0M262.3 375.2h0M262.5 380.5h0M262.7 379.5h0M263.0 377.1h0M263.2 377.1h0M263.4 375.2h0M263.6 377.1h0M263.8 377.8h0M264.0 378.6h0M264.2 378.6h0M264.5 379.5h0M264.7 385.9h0M264.9 382.8h0M265.1 375.8h0M265.3 382.8h0M265.5 378.6h0M265.7 377.8h0M266.0 375.2h0M266.2 379.5h0M266.4 380.5h0M266.6 377.1h0M266.8 400.8h0M267.0 381.6h0M267.2 381.6h0M267.4 384.2h0M267.7 379.5h0M267.9 379.5h0M268.1 384.2h0M268.3 377.1h0M268.5 377.1h0M268.7 384.2h0M268.9 377.8h0M269.2 379.5h0M269.4 375.8h0M269.6 377.8h0M269.8 385.9h0M270.0 384.2h0M270.2 379.5h0M270.4 377.1h0M270.7 379.5h0M270.9 379.5h0M271.1 382.8h0M271.3 381.6h0M271.5 384.2h0M271.7 381.6h0M271.9 382.8h0M272.2 394.4h0M272.4 376.4h0M272.6 382.8h0M272.8 381.6h0M273.0 385.9h0M273.2 378.6h0M273.4 376.4h0M273.6 390.6h0M273.9 382.8h0M274.1 381.6h0M274.3 376.4h0M274.5 382.8h0M274.7 380.5h0M274.9 379.5h0M275.1 380.5h0M275.4 379.5h0M275.6 384.2h0M275.8 378.6h0M276.0 382.8h0M276.2 380.5h0M276.4 377.8h0M276.6 385.9h0M276.9 378.6h0M277.1 381.6h0M277.3 385.9h0M277.5 377.1h0M277.7 380.5h0M277.9 384.2h0M278.1 377.8h0M278.3 385.9h0M278.6 388.0h0M278.8 377.1h0M279.0 378.6h0M279.2 388.0h0M279.4 381.6h0M279.6 377.1h0M279.8 382.8h0M280.1 385.9h0M280.3 375.8h0M280.5 384.2h0M280.7 382.8h0M280.9 385.9h0M281.1 385.9h0M281.3 380.5h0M281.6 382.8h0M281.8 384.2h0M282.0 388.0h0M282.2 382.8h0M282.4 382.8h0M282.6 390.6h0M282.8 382.8h0M283.1 388.0h0M283.3 381.6h0M283.5 385.9h0M283.7 384.2h0M283.9 384.2h0M284.1 394.4h0M284.3 377.1h0M284.5 388.0h0M284.8 376.4h0M285.0 377.8h0M285.2 388.0h0M285.6 388.0h0M285.8 381.6h0M286.0 385.9h0M286.3 377.1h0M286.5 384.2h0M286.7 378.6h0M286.9 379.5h0M287.1 385.9h0M287.3 385.9h0M287.5 382.8h0M287.8 388.0h0M288.0 382.8h0M288.2 384.2h0M288.4 384.2h0M288.6 382.8h0M288.8 400.8h0M289.0 380.5h0M289.3 382.8h0M289.5 388.0h0M289.7 384.2h0M289.9 388.0h0M290.1 388.0h0M290.3 382.8h0M290.5 390.6h0M290.7 385.9h0M291.0 382.8h0M291.2 385.9h0M291.4 385.9h0M291.6 394.4h0M291.8 385.9h0M292.0 380.5h0M292.2 390.6h0M292.5 382.8h0M292.7 388.0h0M292.9 388.0h0M293.1 380.5h0M293.3 385.9h0M293.5 379.5h0M293.7 381.6h0M294.0 384.2h0M294.2 388.0h0M294.4 385.9h0M294.6 381.6h0M294.8 390.6h0M295.0 380.5h0M295.2 390.6h0M295.4 385.9h0M295.7 382.8h0M295.9 390.6h0M296.1 384.2h0M296.3 385.9h0M296.5 382.8h0M296.7 390.6h0M296.9 388.0h0M297.2 382.8h0M297.4 382.8h0M297.6 384.2h0M297.8 380.5h0M298.0 382.8h0M298.2 394.4h0M298.4 388.0h0M298.7 385.9h0M298.9 381.6h0M299.1 388.0h0M299.3 384.2h0M299.5 388.0h0M299.7 384.2h0M299.9 379.5h0M300.2 390.6h0M300.4 388.0h0M300.6 388.0h0M300.8 388.0h0M301.0 380.5h0M301.2 388.0h0M301.4 385.9h0M301.6 390.6h0M301.9 385.9h0M302.1 388.0h0M302.3 385.9h0M302.5 382.8h0M302.7 382.8h0M302.9 379.5h0M303.1 384.2h0M303.4 388.0h0M303.6 394.4h0M303.8 394.4h0M304.0 390.6h0M304.2 382.8h0M304.4 382.8h0M304.6 382.8h0M304.9 384.2h0M305.1 390.6h0M305.3 377.8h0M305.5 382.8h0M305.7 390.6h0M305.9 382.8h0M306.1 390.6h0M306.4 385.9h0M306.6 385.9h0M306.8 394.4h0M307.0 382.8h0M307.2 385.9h0M307.4 382.8h0M307.6 381.6h0M307.8 390.6h0M308.1 388.0h0M308.3 382.8h0M308.5 384.2h0M308.7 400.8h0M308.9 381.6h0M309.1 382.8h0M309.3 384.2h0M309.6 390.6h0M309.8 380.5h0M310.0 379.5h0M310.2 384.2h0M310.4 382.8h0M310.6 394.4h0M310.8 388.0h0M311.1 390.6h0M311.3 382.8h0M311.5 400.8h0M311.7 390.6h0M311.9 382.8h0M312.1 394.4h0M312.3 377.1h0M312.5 384.2h0M312.8 381.6h0M313.0 381.6h0M313.2 388.0h0M313.4 377.8h0M313.6 390.6h0M313.8 385.9h0M314.0 390.6h0M314.3 384.2h0M314.5 382.8h0" stroke="#0000ff" stroke-width="3.6" stroke-linecap="round" fill="none"/>
<path d="M96.62 276.69 L96.75 276.67 L96.88 276.65 L97.00 276.63 L97.13 276.61 L97.26 276.59 L97.39 276.57 L97.52 276.55 L97.64 276.53 L97.77 276.51 L97.90 276.49 L98.03 276.47 L98.16 276.46 L98.29 276.44 L98.41 276.42 L98.54 276.40 L98.67 276.38 L98.80 276.37 L98.93 276.35 L99.06 276.33 L99.18 276.31 L99.31 276.30 L99.44 276.28 L99.57 276.26 L99.70 276.25 L99.82 276.23 L99.95 276.22 L100.08 276.20 L100.21 276.19 L100.34 276.17 L100.47 276.16 L100.59 276.14 L100.72 276.13 L100.85 276.12 L100.98 276.10 L101.11 276.09 L101.24 276.08 L101.36 276.07 L101.49 276.06 L101.62 276.04 L101.75 276.03 L101.88 276.02 L102.01 276.01 L102.13 276.00 L102.26 275.99 L102.39 275.98 L102.52 275.97 L102.65 275.96 L102.77 275.95 L102.90 275.94 L103.03 275.93 L103.16 275.92 L103.29 275.91 L103.42 275.90 L103.54 275.89 L103.67 275.88 L103.80 275.87 L103.93 275.86 L104.06 275.85 L104.19 275.84 L104.31 275.84 L104.44 275.83 L104.57 275.82 L104.70 275.81 L104.83 275.80 L104.95 275.79 L105.08 275.78 L105.21 275.78 L105.34 275.77 L105.47 275.76 L105.60 275.75 L105.72 275.75 L105.85 275.74 L105.98 275.74 L106.11 275.73 L106.24 275.73 L106.37 275.72 L106.49 275.72 L106.62 275.71 L106.75 275.71 L106.88 275.70 L107.01 275.70 L107.14 275.70 L107.26 275.70 L107.39 275.70 L107.52 275.69 L107.65 275.69 L107.78 275.69 L107.90 275.69 L108.03 275.70 L108.16 275.70 L108.29 275.70 L108.42 275.70 L108.55 275.70 L108.67 275.71 L108.80 275.71 L108.93 275.72 L109.06 275.72 L109.19 275.73 L109.32 275.73 L109.44 275.74 L109.57 275.75 L109.70 275.75 L109.83 275.76 L109.96 275.77 L110.08 275.78 L110.21 275.79 L110.34 275.80 L110.47 275.81 L110.60 275.82 L110.73 275.83 L110.85 275.84 L110.98 275.85 L111.11 275.87 L111.24 275.88 L111.37 275.89 L111.50 275.91 L111.62 275.92 L111.75 275.94 L111.88 275.95 L112.01 275.97 L112.14 275.98 L112.27 276.00 L112.39 276.02 L112.52 276.03 L112.65 276.05 L112.78 276.07 L112.91 276.09 L113.03 276.11 L113.16 276.13 L113.29 276.15 L113.42 276.17 L113.55 276.19 L113.68 276.21 L113.80 276.23 L113.93 276.25 L114.06 276.27 L114.19 276.29 L114.32 276.32 L114.45 276.34 L114.57 276.36 L114.70 276.39 L114.83 276.41 L114.96 276.44 L115.09 276.48 L115.21 276.52 L115.34 276.57 L115.47 276.62 L115.60 276.67 L115.73 276.73 L115.86 276.80 L115.98 276.87 L116.11 276.94 L116.24 277.01 L116.37 277.09 L116.50 277.18 L116.63 277.26 L116.75 277.35 L116.88 277.44 L117.01 277.53 L117.14 277.64 L117.27 277.76 L117.40 277.89 L117.52 278.03 L117.65 278.19 L117.78 278.35 L117.91 278.52 L118.04 278.70 L118.16 278.88 L118.29 279.07 L118.42 279.26 L118.55 279.46 L118.68 279.66 L118.81 279.85 L118.93 280.05 L119.06 280.25 L119.19 280.46 L119.32 280.68 L119.45 280.90 L119.58 281.13 L119.70 281.37 L119.83 281.61 L119.96 281.86 L120.09 282.12 L120.22 282.37 L120.34 282.63 L120.47 282.90 L120.60 283.17 L120.73 283.43 L120.86 283.71 L120.99 283.98 L121.11 284.25 L121.24 284.52 L121.37 284.79 L121.50 285.06 L121.63 285.33 L121.76 285.59 L121.88 285.86 L122.01 286.11 L122.14 286.37 L122.27 286.62 L122.40 286.86 L122.53 287.10 L122.65 287.34 L122.78 287.56 L122.91 287.79 L123.04 288.01 L123.17 288.24 L123.29 288.46 L123.42 288.69 L123.55 288.91 L123.68 289.13 L123.81 289.35 L123.94 289.57 L124.06 289.78 L124.19 289.99 L124.32 290.20 L124.45 290.41 L124.58 290.61 L124.71 290.81 L124.83 291.00 L124.96 291.19 L125.09 291.38 L125.22 291.55 L125.35 291.73 L125.47 291.90 L125.60 292.12 L125.73 292.37 L125.86 292.62 L125.99 292.85 L126.12 293.07 L126.24 293.27 L126.37 293.43 L126.50 293.57 L126.63 293.67 L126.76 293.75 L126.89 293.81 L127.01 293.86 L127.14 293.90 L127.27 293.95 L127.40 294.01 L127.53 294.09 L127.66 294.21 L127.78 294.37 L127.91 294.57 L128.04 294.83 L128.17 295.13 L128.30 295.50 L128.42 295.91 L128.55 296.39 L128.68 296.92 L128.81 297.50 L128.94 298.13 L129.07 298.80 L129.19 299.51 L129.32 300.23 L129.45 300.97 L129.58 301.70 L129.71 302.40 L129.84 303.05 L129.96 303.62 L130.09 304.11 L130.22 304.49 L130.35 304.76 L130.48 304.91 L130.60 304.95 L130.73 304.90 L130.86 304.78 L130.99 304.59 L131.12 304.37 L131.25 304.13 L131.37 303.88 L131.50 303.65 L131.63 303.44 L131.76 303.26 L131.89 303.11 L132.02 303.02 L132.14 302.97 L132.27 302.96 L132.40 303.02 L132.53 303.12 L132.66 303.27 L132.79 303.48 L132.91 303.74 L133.04 304.06 L133.17 304.43 L133.30 304.86 L133.43 305.34 L133.55 305.87 L133.68 306.45 L133.81 307.07 L133.94 307.72 L134.07 308.41 L134.20 309.12 L134.32 309.84 L134.45 310.56 L134.58 311.27 L134.71 311.94 L134.84 312.56 L134.97 313.10 L135.09 313.56 L135.22 313.91 L135.35 314.15 L135.48 314.27 L135.61 314.26 L135.73 314.15 L135.86 313.93 L135.99 313.65 L136.12 313.31 L136.25 312.95 L136.38 312.58 L136.50 312.22 L136.63 311.89 L136.76 311.60 L136.89 311.35 L137.02 311.16 L137.15 311.03 L137.27 310.96 L137.40 310.95 L137.53 310.99 L137.66 311.10 L137.79 311.26 L137.92 311.48 L138.04 311.75 L138.17 312.07 L138.30 312.44 L138.43 312.86 L138.56 313.33 L138.68 313.84 L138.81 314.40 L138.94 315.00 L139.07 315.65 L139.20 316.34 L139.33 317.07 L139.45 317.84 L139.58 318.65 L139.71 319.50 L139.84 320.37 L139.97 321.26 L140.10 322.15 L140.22 323.03 L140.35 323.87 L140.48 324.65 L140.61 325.32 L140.74 325.85 L140.86 326.21 L140.99 326.36 L141.12 326.29 L141.25 326.02 L141.38 325.57 L141.51 324.98 L141.63 324.29 L141.76 323.54 L141.89 322.78 L142.02 322.03 L142.15 321.32 L142.28 320.66 L142.40 320.06 L142.53 319.54 L142.66 319.09 L142.79 318.71 L142.92 318.42 L143.05 318.20 L143.17 318.05 L143.30 317.98 L143.43 317.97 L143.56 318.03 L143.69 318.16 L143.81 318.34 L143.94 318.57 L144.07 318.86 L144.20 319.20 L144.33 319.58 L144.46 320.01 L144.58 320.49 L144.71 321.01 L144.84 321.58 L144.97 322.20 L145.10 322.86 L145.23 323.58 L145.35 324.36 L145.48 325.19 L145.61 326.08 L145.74 327.03 L145.87 328.04 L145.99 329.12 L146.12 330.25 L146.25 331.44 L146.38 332.66 L146.51 333.89 L146.64 335.08 L146.76 336.15 L146.89 337.03 L147.02 337.60 L147.15 337.77 L147.28 337.49 L147.41 336.76 L147.53 335.67 L147.66 334.36 L147.79 332.93 L147.92 331.50 L148.05 330.14 L148.18 328.88 L148.30 327.75 L148.43 326.76 L148.56 325.91 L148.69 325.21 L148.82 324.64 L148.94 324.21 L149.07 323.89 L149.20 323.70 L149.33 323.61 L149.46 323.61 L149.59 323.70 L149.71 323.86 L149.84 324.09 L149.97 324.38 L150.10 324.73 L150.23 325.14 L150.36 325.61 L150.48 326.13 L150.61 326.71 L150.74 327.34 L150.87 328.03 L151.00 328.77 L151.12 329.57 L151.25 330.44 L151.38 331.37 L151.51 332.37 L151.64 333.44 L151.77 334.60 L151.89 335.84 L152.02 337.18 L152.15 338.61 L152.28 340.14 L152.41 341.76 L152.54 343.46 L152.66 345.20 L152.79 346.89 L152.92 348.42 L153.05 349.59 L153.18 350.20 L153.31 350.11 L153.43 349.34 L153.56 348.06 L153.69 346.48 L153.82 344.78 L153.95 343.07 L154.07 341.44 L154.20 339.92 L154.33 338.52 L154.46 337.25 L154.59 336.11 L154.72 335.10 L154.84 334.20 L154.97 333.42 L155.10 332.74 L155.23 332.16 L155.36 331.67 L155.49 331.28 L155.61 330.97 L155.74 330.74 L155.87 330.59 L156.00 330.51 L156.13 330.50 L156.25 330.57 L156.38 330.70 L156.51 330.89 L156.64 331.15 L156.77 331.47 L156.90 331.85 L157.02 332.30 L157.15 332.81 L157.28 333.39 L157.41 334.04 L157.54 334.76 L157.67 335.56 L157.79 336.44 L157.92 337.41 L158.05 338.47 L158.18 339.65 L158.31 340.94 L158.44 342.36 L158.56 343.92 L158.69 345.66 L158.82 347.58 L158.95 349.71 L159.08 352.08 L159.20 354.68 L159.33 357.48 L159.46 360.30 L159.59 362.74 L159.72 364.10 L159.85 363.82 L159.97 362.05 L160.10 359.49 L160.23 356.74 L160.36 354.11 L160.49 351.71 L160.62 349.56 L160.74 347.65 L160.87 345.95 L161.00 344.45 L161.13 343.12 L161.26 341.94 L161.38 340.91 L161.51 340.00 L161.64 339.21 L161.77 338.52 L161.90 337.94 L162.03 337.44 L162.15 337.03 L162.28 336.70 L162.41 336.45 L162.54 336.27 L162.67 336.16 L162.80 336.12 L162.92 336.14 L163.05 336.23 L163.18 336.37 L163.31 336.57 L163.44 336.83 L163.57 337.15 L163.69 337.53 L163.82 337.97 L163.95 338.47 L164.08 339.03 L164.21 339.65 L164.33 340.34 L164.46 341.10 L164.59 341.93 L164.72 342.84 L164.85 343.82 L164.98 344.90 L165.10 346.07 L165.23 347.33 L165.36 348.69 L165.49 350.16 L165.62 351.74 L165.75 353.42 L165.87 355.18 L166.00 356.98 L166.13 358.74 L166.26 360.35 L166.39 361.62 L166.51 362.37 L166.64 362.45 L166.77 361.86 L166.90 360.76 L167.03 359.34 L167.16 357.77 L167.28 356.17 L167.41 354.62 L167.54 353.15 L167.67 351.77 L167.80 350.50 L167.93 349.33 L168.05 348.26 L168.18 347.28 L168.31 346.38 L168.44 345.57 L168.57 344.84 L168.70 344.17 L168.82 343.58 L168.95 343.05 L169.08 342.58 L169.21 342.17 L169.34 341.82 L169.46 341.53 L169.59 341.29 L169.72 341.11 L169.85 340.98 L169.98 340.91 L170.11 340.89 L170.23 340.93 L170.36 341.02 L170.49 341.18 L170.62 341.40 L170.75 341.69 L170.88 342.04 L171.00 342.47 L171.13 342.97 L171.26 343.55 L171.39 344.22 L171.52 344.96 L171.64 345.79 L171.77 346.71 L171.90 347.72 L172.03 348.82 L172.16 350.01 L172.29 351.27 L172.41 352.59 L172.54 353.96 L172.67 355.34 L172.80 356.67 L172.93 357.88 L173.06 358.90 L173.18 359.64 L173.31 360.04 L173.44 360.07 L173.57 359.75 L173.70 359.14 L173.83 358.31 L173.95 357.35 L174.08 356.32 L174.21 355.28 L174.34 354.25 L174.47 353.25 L174.59 352.32 L174.72 351.44 L174.85 350.63 L174.98 349.88 L175.11 349.20 L175.24 348.58 L175.36 348.03 L175.49 347.53 L175.62 347.09 L175.75 346.71 L175.88 346.39 L176.01 346.11 L176.13 345.89 L176.26 345.71 L176.39 345.59 L176.52 345.51 L176.65 345.47 L176.77 345.48 L176.90 345.54 L177.03 345.65 L177.16 345.79 L177.29 345.99 L177.42 346.22 L177.54 346.50 L177.67 346.82 L177.80 347.19 L177.93 347.59 L178.06 348.04 L178.19 348.53 L178.31 349.05 L178.44 349.62 L178.57 350.22 L178.70 350.86 L178.83 351.52 L178.96 352.21 L179.08 352.93 L179.21 353.65 L179.34 354.38 L179.47 355.10 L179.60 355.80 L179.72 356.45 L179.85 357.06 L179.98 357.58 L180.11 358.01 L180.24 358.33 L180.37 358.52 L180.49 358.59 L180.62 358.53 L180.75 358.34 L180.88 358.04 L181.01 357.66 L181.14 357.20 L181.26 356.69 L181.39 356.14 L181.52 355.57 L181.65 355.00 L181.78 354.43 L181.90 353.88 L182.03 353.35 L182.16 352.85 L182.29 352.37 L182.42 351.93 L182.55 351.53 L182.67 351.16 L182.80 350.83 L182.93 350.54 L183.06 350.29 L183.19 350.08 L183.32 349.90 L183.44 349.76 L183.57 349.66 L183.70 349.60 L183.83 349.58 L183.96 349.59 L184.09 349.64 L184.21 349.73 L184.34 349.85 L184.47 350.01 L184.60 350.20 L184.73 350.43 L184.85 350.69 L184.98 350.98 L185.11 351.31 L185.24 351.66 L185.37 352.05 L185.50 352.46 L185.62 352.90 L185.75 353.36 L185.88 353.85 L186.01 354.35 L186.14 354.87 L186.27 355.40 L186.39 355.94 L186.52 356.47 L186.65 356.98 L186.78 357.48 L186.91 357.95 L187.03 358.38 L187.16 358.76 L187.29 359.07 L187.42 359.32 L187.55 359.49 L187.68 359.58 L187.80 359.58 L187.93 359.51 L188.06 359.36 L188.19 359.14 L188.32 358.86 L188.45 358.53 L188.57 358.17 L188.70 357.78 L188.83 357.38 L188.96 356.96 L189.09 356.55 L189.22 356.15 L189.34 355.76 L189.47 355.39 L189.60 355.04 L189.73 354.71 L189.86 354.42 L189.98 354.15 L190.11 353.92 L190.24 353.72 L190.37 353.55 L190.50 353.41 L190.63 353.31 L190.75 353.23 L190.88 353.20 L191.01 353.19 L191.14 353.22 L191.27 353.28 L191.40 353.37 L191.52 353.49 L191.65 353.64 L191.78 353.82 L191.91 354.03 L192.04 354.26 L192.16 354.52 L192.29 354.81 L192.42 355.11 L192.55 355.44 L192.68 355.79 L192.81 356.15 L192.93 356.53 L193.06 356.91 L193.19 357.30 L193.32 357.69 L193.45 358.08 L193.58 358.47 L193.70 358.83 L193.83 359.18 L193.96 359.51 L194.09 359.81 L194.22 360.06 L194.35 360.28 L194.47 360.46 L194.60 360.59 L194.73 360.67 L194.86 360.70 L194.99 360.68 L195.11 360.62 L195.24 360.52 L195.37 360.38 L195.50 360.21 L195.63 360.01 L195.76 359.79 L195.88 359.56 L196.01 359.31 L196.14 359.06 L196.27 358.81 L196.40 358.57 L196.53 358.33 L196.65 358.10 L196.78 357.89 L196.91 357.68 L197.04 357.50 L197.17 357.34 L197.29 357.19 L197.42 357.07 L197.55 356.96 L197.68 356.88 L197.81 356.82 L197.94 356.79 L198.06 356.77 L198.19 356.78 L198.32 356.81 L198.45 356.87 L198.58 356.94 L198.71 357.04 L198.83 357.16 L198.96 357.30 L199.09 357.46 L199.22 357.64 L199.35 357.84 L199.48 358.05 L199.60 358.28 L199.73 358.52 L199.86 358.77 L199.99 359.03 L200.12 359.30 L200.24 359.58 L200.37 359.85 L200.50 360.13 L200.63 360.40 L200.76 360.66 L200.89 360.91 L201.01 361.15 L201.14 361.37 L201.27 361.57 L201.40 361.74 L201.53 361.89 L201.66 362.02 L201.78 362.11 L201.91 362.18 L202.04 362.21 L202.17 362.22 L202.30 362.19 L202.42 362.15 L202.55 362.07 L202.68 361.98 L202.81 361.86 L202.94 361.73 L203.07 361.59 L203.19 361.44 L203.32 361.28 L203.45 361.12 L203.58 360.96 L203.71 360.80 L203.84 360.65 L203.96 360.50 L204.09 360.37 L204.22 360.24 L204.35 360.13 L204.48 360.03 L204.61 359.94 L204.73 359.87 L204.86 359.82 L204.99 359.78 L205.12 359.76 L205.25 359.76 L205.37 359.77 L205.50 359.80 L205.63 359.84 L205.76 359.90 L205.89 359.98 L206.02 360.07 L206.14 360.17 L206.27 360.29 L206.40 360.41 L206.53 360.55 L206.66 360.70 L206.79 360.86 L206.91 361.02 L207.04 361.19 L207.17 361.37 L207.30 361.56 L207.43 361.75 L207.55 361.94 L207.68 362.13 L207.81 362.32 L207.94 362.51 L208.07 362.70 L208.20 362.88 L208.32 363.06 L208.45 363.23 L208.58 363.39 L208.71 363.54 L208.84 363.68 L208.97 363.81 L209.09 363.92 L209.22 364.01 L209.35 364.09 L209.48 364.16 L209.61 364.20 L209.74 364.23 L209.86 364.24 L209.99 364.23 L210.12 364.20 L210.25 364.16 L210.38 364.11 L210.50 364.05 L210.63 363.97 L210.76 363.89 L210.89 363.80 L211.02 363.70 L211.15 363.60 L211.27 363.51 L211.40 363.41 L211.53 363.32 L211.66 363.23 L211.79 363.14 L211.92 363.07 L212.04 363.00 L212.17 362.95 L212.30 362.90 L212.43 362.87 L212.56 362.84 L212.68 362.84 L212.81 362.84 L212.94 362.86 L213.07 362.89 L213.20 362.93 L213.33 362.98 L213.45 363.05 L213.58 363.13 L213.71 363.23 L213.84 363.33 L213.97 363.45 L214.10 363.57 L214.22 363.70 L214.35 363.85 L214.48 363.99 L214.61 364.15 L214.74 364.31 L214.87 364.47 L214.99 364.63 L215.12 364.79 L215.25 364.96 L215.38 365.12 L215.51 365.27 L215.63 365.42 L215.76 365.56 L215.89 365.69 L216.02 365.81 L216.15 365.92 L216.28 366.02 L216.40 366.11 L216.53 366.18 L216.66 366.24 L216.79 366.29 L216.92 366.33 L217.05 366.35 L217.17 366.36 L217.30 366.36 L217.43 366.35 L217.56 366.33 L217.69 366.31 L217.81 366.27 L217.94 366.24 L218.07 366.20 L218.20 366.16 L218.33 366.11 L218.46 366.07 L218.58 366.03 L218.71 365.99 L218.84 365.96 L218.97 365.92 L219.10 365.90 L219.23 365.88 L219.35 365.87 L219.48 365.86 L219.61 365.86 L219.74 365.87 L219.87 365.89 L220.00 365.91 L220.12 365.94 L220.25 365.98 L220.38 366.03 L220.51 366.09 L220.64 366.15 L220.76 366.22 L220.89 366.30 L221.02 366.38 L221.15 366.47 L221.28 366.56 L221.41 366.66 L221.53 366.76 L221.66 366.86 L221.79 366.97 L221.92 367.07 L222.05 367.18 L222.18 367.29 L222.30 367.39 L222.43 367.49 L222.56 367.59 L222.69 367.68 L222.82 367.77 L222.94 367.85 L223.07 367.93 L223.20 368.00 L223.33 368.07 L223.46 368.13 L223.59 368.18 L223.71 368.23 L223.84 368.28 L223.97 368.31 L224.10 368.35 L224.23 368.37 L224.36 368.40 L224.48 368.42 L224.61 368.44 L224.74 368.45 L224.87 368.46 L225.00 368.48 L225.13 368.49 L225.25 368.50 L225.38 368.51 L225.51 368.53 L225.64 368.54 L225.77 368.56 L225.89 368.58 L226.02 368.60 L226.15 368.63 L226.28 368.65 L226.41 368.69 L226.54 368.72 L226.66 368.76 L226.79 368.80 L226.92 368.84 L227.05 368.88 L227.18 368.93 L227.31 368.98 L227.43 369.03 L227.56 369.09 L227.69 369.14 L227.82 369.20 L227.95 369.25 L228.07 369.31 L228.20 369.37 L228.33 369.42 L228.46 369.48 L228.59 369.54 L228.72 369.59 L228.84 369.64 L228.97 369.70 L229.10 369.75 L229.23 369.80 L229.36 369.84 L229.49 369.89 L229.61 369.94 L229.74 369.98 L229.87 370.02 L230.00 370.07 L230.13 370.11 L230.26 370.15 L230.38 370.20 L230.51 370.25 L230.64 370.29 L230.77 370.34 L230.90 370.39 L231.02 370.44 L231.15 370.48 L231.28 370.53 L231.41 370.58 L231.54 370.63 L231.67 370.67 L231.79 370.72 L231.92 370.77 L232.05 370.81 L232.18 370.86 L232.31 370.90 L232.44 370.95 L232.56 370.99 L232.69 371.04 L232.82 371.09 L232.95 371.13 L233.08 371.18 L233.20 371.22 L233.33 371.27 L233.46 371.31 L233.59 371.36 L233.72 371.40 L233.85 371.44 L233.97 371.49 L234.10 371.53 L234.23 371.58 L234.36 371.62 L234.49 371.66 L234.62 371.71 L234.74 371.75 L234.87 371.80 L235.00 371.84 L235.13 371.88 L235.26 371.93 L235.39 371.97 L235.51 372.01 L235.64 372.06 L235.77 372.10 L235.90 372.14 L236.03 372.19 L236.15 372.23 L236.28 372.27 L236.41 372.32 L236.54 372.36 L236.67 372.40 L236.80 372.45 L236.92 372.49 L237.05 372.53 L237.18 372.57 L237.31 372.62 L237.44 372.66 L237.57 372.70 L237.69 372.75 L237.82 372.79 L237.95 372.83 L238.08 372.87 L238.21 372.92 L238.33 372.96 L238.46 373.00 L238.59 373.05 L238.72 373.09 L238.85 373.13 L238.98 373.18 L239.10 373.22 L239.23 373.26 L239.36 373.30 L239.49 373.35 L239.62 373.39 L239.75 373.43 L239.87 373.48 L240.00 373.52 L240.13 373.56 L240.26 373.61 L240.39 373.65 L240.52 373.70 L240.64 373.74 L240.77 373.78 L240.90 373.83 L241.03 373.87 L241.16 373.91 L241.28 373.96 L241.41 374.00 L241.54 374.04 L241.67 374.09 L241.80 374.13 L241.93 374.18 L242.05 374.22 L242.18 374.26 L242.31 374.31 L242.44 374.35 L242.57 374.39 L242.70 374.44 L242.82 374.48 L242.95 374.53 L243.08 374.57 L243.21 374.61 L243.34 374.66 L243.46 374.70 L243.59 374.74 L243.72 374.79 L243.85 374.83 L243.98 374.87 L244.11 374.92 L244.23 374.96 L244.36 375.00 L244.49 375.05 L244.62 375.09 L244.75 375.13 L244.88 375.18 L245.00 375.22 L245.13 375.26 L245.26 375.31 L245.39 375.35 L245.52 375.39 L245.65 375.44 L245.77 375.48 L245.90 375.52 L246.03 375.57 L246.16 375.61 L246.29 375.65 L246.41 375.69 L246.54 375.74 L246.67 375.78 L246.80 375.82 L246.93 375.86 L247.06 375.91 L247.18 375.95 L247.31 375.99 L247.44 376.03 L247.57 376.07 L247.70 376.12 L247.83 376.16 L247.95 376.20 L248.08 376.24 L248.21 376.28 L248.34 376.32 L248.47 376.37 L248.59 376.41 L248.72 376.45 L248.85 376.49 L248.98 376.53 L249.11 376.57 L249.24 376.61 L249.36 376.65 L249.49 376.69 L249.62 376.73 L249.75 376.77 L249.88 376.81 L250.01 376.85 L250.13 376.89 L250.26 376.93 L250.39 376.97 L250.52 377.01 L250.65 377.05 L250.78 377.09 L250.90 377.13 L251.03 377.17 L251.16 377.21 L251.29 377.25 L251.42 377.29 L251.54 377.33 L251.67 377.37 L251.80 377.41 L251.93 377.44 L252.06 377.48 L252.19 377.52 L252.31 377.56 L252.44 377.60 L252.57 377.64 L252.70 377.67 L252.83 377.71 L252.96 377.75 L253.08 377.79 L253.21 377.83 L253.34 377.86 L253.47 377.90 L253.60 377.94 L253.72 377.98 L253.85 378.02 L253.98 378.05 L254.11 378.09 L254.24 378.13 L254.37 378.17 L254.49 378.20 L254.62 378.24 L254.75 378.28 L254.88 378.31 L255.01 378.35 L255.14 378.39 L255.26 378.43 L255.39 378.46 L255.52 378.50 L255.65 378.54 L255.78 378.57 L255.91 378.61 L256.03 378.65 L256.16 378.68 L256.29 378.72 L256.42 378.76 L256.55 378.79 L256.67 378.83 L256.80 378.87 L256.93 378.90 L257.06 378.94 L257.19 378.98 L257.32 379.01 L257.44 379.05 L257.57 379.09 L257.70 379.12 L257.83 379.16 L257.96 379.20 L258.09 379.23 L258.21 379.27 L258.34 379.31 L258.47 379.34 L258.60 379.38 L258.73 379.42 L258.85 379.45 L258.98 379.49 L259.11 379.52 L259.24 379.56 L259.37 379.60 L259.50 379.63 L259.62 379.67 L259.75 379.71 L259.88 379.74 L260.01 379.78 L260.14 379.82 L260.27 379.85 L260.39 379.89 L260.52 379.93 L260.65 379.96 L260.78 380.00 L260.91 380.04 L261.04 380.07 L261.16 380.11 L261.29 380.14 L261.42 380.18 L261.55 380.22 L261.68 380.26 L261.80 380.29 L261.93 380.33 L262.06 380.37 L262.19 380.40 L262.32 380.44 L262.45 380.48 L262.57 380.51 L262.70 380.55 L262.83 380.59 L262.96 380.62 L263.09 380.66 L263.22 380.70 L263.34 380.74 L263.47 380.77 L263.60 380.81 L263.73 380.85 L263.86 380.89 L263.98 380.93 L264.11 380.97 L264.24 381.00 L264.37 381.04 L264.50 381.08 L264.63 381.12 L264.75 381.16 L264.88 381.20 L265.01 381.24 L265.14 381.28 L265.27 381.32 L265.40 381.36 L265.52 381.40 L265.65 381.43 L265.78 381.47 L265.91 381.51 L266.04 381.55 L266.17 381.59 L266.29 381.63 L266.42 381.67 L266.55 381.71 L266.68 381.75 L266.81 381.79 L266.93 381.83 L267.06 381.87 L267.19 381.91 L267.32 381.95 L267.45 381.99 L267.58 382.03 L267.70 382.07 L267.83 382.11 L267.96 382.15 L268.09 382.19 L268.22 382.23 L268.35 382.27 L268.47 382.30 L268.60 382.34 L268.73 382.38 L268.86 382.42 L268.99 382.46 L269.11 382.50 L269.24 382.54 L269.37 382.58 L269.50 382.62 L269.63 382.65 L269.76 382.69 L269.88 382.73 L270.01 382.77 L270.14 382.81 L270.27 382.85 L270.40 382.88 L270.53 382.92 L270.65 382.96 L270.78 383.00 L270.91 383.03 L271.04 383.07 L271.17 383.11 L271.30 383.14 L271.42 383.18 L271.55 383.22 L271.68 383.25 L271.81 383.29 L271.94 383.32 L272.06 383.36 L272.19 383.39 L272.32 383.43 L272.45 383.46 L272.58 383.50 L272.71 383.53 L272.83 383.57 L272.96 383.60 L273.09 383.64 L273.22 383.67 L273.35 383.70 L273.48 383.74 L273.60 383.77 L273.73 383.80 L273.86 383.83 L273.99 383.87 L274.12 383.90 L274.24 383.93 L274.37 383.96 L274.50 383.99 L274.63 384.02 L274.76 384.05 L274.89 384.08 L275.01 384.11 L275.14 384.14 L275.27 384.17 L275.40 384.20 L275.53 384.22 L275.66 384.25 L275.78 384.28 L275.91 384.31 L276.04 384.34 L276.17 384.36 L276.30 384.39 L276.43 384.42 L276.55 384.45 L276.68 384.48 L276.81 384.50 L276.94 384.53 L277.07 384.56 L277.19 384.59 L277.32 384.61 L277.45 384.64 L277.58 384.67 L277.71 384.69 L277.84 384.72 L277.96 384.75 L278.09 384.77 L278.22 384.80 L278.35 384.83 L278.48 384.85 L278.61 384.88 L278.73 384.91 L278.86 384.93 L278.99 384.96 L279.12 384.99 L279.25 385.01 L279.37 385.04 L279.50 385.06 L279.63 385.09 L279.76 385.12 L279.89 385.14 L280.02 385.17 L280.14 385.19 L280.27 385.22 L280.40 385.24 L280.53 385.27 L280.66 385.29 L280.79 385.32 L280.91 385.34 L281.04 385.37 L281.17 385.39 L281.30 385.42 L281.43 385.44 L281.56 385.47 L281.68 385.49 L281.81 385.52 L281.94 385.54 L282.07 385.57 L282.20 385.59 L282.32 385.61 L282.45 385.64 L282.58 385.66 L282.71 385.69 L282.84 385.71 L282.97 385.73 L283.09 385.76 L283.22 385.78 L283.35 385.80 L283.48 385.83 L283.61 385.85 L283.74 385.87 L283.86 385.90 L283.99 385.92 L284.12 385.94 L284.25 385.97 L284.38 385.99 L284.50 386.01 L284.63 386.03 L284.76 386.06 L284.89 386.08 L285.02 386.10 L285.15 386.12 L285.27 386.15 L285.40 386.17 L285.53 386.19 L285.66 386.21 L285.79 386.23 L285.92 386.25 L286.04 386.28 L286.17 386.30 L286.30 386.32 L286.43 386.34 L286.56 386.36 L286.69 386.38 L286.81 386.40 L286.94 386.43 L287.07 386.45 L287.20 386.47 L287.33 386.49 L287.45 386.51 L287.58 386.53 L287.71 386.55 L287.84 386.57 L287.97 386.59 L288.10 386.61 L288.22 386.63 L288.35 386.65 L288.48 386.67 L288.61 386.69 L288.74 386.71 L288.87 386.73 L288.99 386.75 L289.12 386.77 L289.25 386.79 L289.38 386.81 L289.51 386.83 L289.63 386.85 L289.76 386.87 L289.89 386.88 L290.02 386.90 L290.15 386.92 L290.28 386.94 L290.40 386.96 L290.53 386.98 L290.66 387.00 L290.79 387.02 L290.92 387.03 L291.05 387.05 L291.17 387.07 L291.30 387.09 L291.43 387.11 L291.56 387.12 L291.69 387.14 L291.82 387.16 L291.94 387.18 L292.07 387.19 L292.20 387.21 L292.33 387.23 L292.46 387.24 L292.58 387.26 L292.71 387.28 L292.84 387.30 L292.97 387.31 L293.10 387.33 L293.23 387.35 L293.35 387.36 L293.48 387.38 L293.61 387.39 L293.74 387.41 L293.87 387.43 L294.00 387.44 L294.12 387.46 L294.25 387.47 L294.38 387.49 L294.51 387.50 L294.64 387.52 L294.76 387.53 L294.89 387.55 L295.02 387.56 L295.15 387.58 L295.28 387.59 L295.41 387.61 L295.53 387.62 L295.66 387.63 L295.79 387.65 L295.92 387.66 L296.05 387.67 L296.18 387.69 L296.30 387.70 L296.43 387.71 L296.56 387.73 L296.69 387.74 L296.82 387.75 L296.95 387.77 L297.07 387.78 L297.20 387.79 L297.33 387.80 L297.46 387.82 L297.59 387.83 L297.71 387.84 L297.84 387.85 L297.97 387.86 L298.10 387.88 L298.23 387.89 L298.36 387.90 L298.48 387.91 L298.61 387.92 L298.74 387.93 L298.87 387.95 L299.00 387.96 L299.13 387.97 L299.25 387.98 L299.38 387.99 L299.51 388.00 L299.64 388.01 L299.77 388.02 L299.89 388.03 L300.02 388.05 L300.15 388.06 L300.28 388.07 L300.41 388.08 L300.54 388.09 L300.66 388.10 L300.79 388.11 L300.92 388.12 L301.05 388.13 L301.18 388.14 L301.31 388.15 L301.43 388.17 L301.56 388.18 L301.69 388.19 L301.82 388.20 L301.95 388.21 L302.08 388.22 L302.20 388.23 L302.33 388.24 L302.46 388.25 L302.59 388.26 L302.72 388.27 L302.84 388.29 L302.97 388.30 L303.10 388.31 L303.23 388.32 L303.36 388.33 L303.49 388.34 L303.61 388.35 L303.74 388.36 L303.87 388.37 L304.00 388.39 L304.13 388.40 L304.26 388.41 L304.38 388.42 L304.51 388.43 L304.64 388.44 L304.77 388.45 L304.90 388.47 L305.02 388.48 L305.15 388.49 L305.28 388.50 L305.41 388.51 L305.54 388.53 L305.67 388.54 L305.79 388.55 L305.92 388.56 L306.05 388.58 L306.18 388.59 L306.31 388.60 L306.44 388.61 L306.56 388.63 L306.69 388.64 L306.82 388.65 L306.95 388.67 L307.08 388.68 L307.21 388.69 L307.33 388.71 L307.46 388.72 L307.59 388.73 L307.72 388.75 L307.85 388.76 L307.97 388.78 L308.10 388.79 L308.23 388.81 L308.36 388.82 L308.49 388.84 L308.62 388.85 L308.74 388.87 L308.87 388.88 L309.00 388.90 L309.13 388.91 L309.26 388.93 L309.39 388.94 L309.51 388.96 L309.64 388.98 L309.77 388.99 L309.90 389.01 L310.03 389.03 L310.15 389.04 L310.28 389.06 L310.41 389.08 L310.54 389.10 L310.67 389.12 L310.80 389.14 L310.92 389.16 L311.05 389.18 L311.18 389.20 L311.31 389.22 L311.44 389.24 L311.57 389.26 L311.69 389.28 L311.82 389.30 L311.95 389.32 L312.08 389.35 L312.21 389.37 L312.34 389.39 L312.46 389.41 L312.59 389.43 L312.72 389.46 L312.85 389.48 L312.98 389.50 L313.10 389.53 L313.23 389.55 L313.36 389.57 L313.49 389.60 L313.62 389.62 L313.75 389.64 L313.87 389.67 L314.00 389.69 L314.13 389.71 L314.26 389.74 L314.39 389.76 L314.52 389.78 L314.64 389.81" stroke="#ff0000" stroke-width="2.4" stroke-linejoin="round" fill="none"/>
<rect x="75.5" y="487.5" width="342" height="170" fill="none" stroke="#000" stroke-width="1.2"/>
<line x1="75.5" y1="657.5" x2="75.5" y2="648" stroke="#000" stroke-width="1.1"/>
<line x1="75.5" y1="487.5" x2="75.5" y2="497" stroke="#000" stroke-width="1.1"/>
<line x1="118.25" y1="657.5" x2="118.25" y2="652.5" stroke="#000" stroke-width="1.1"/>
<line x1="118.25" y1="487.5" x2="118.25" y2="492.5" stroke="#000" stroke-width="1.1"/>
<line x1="161" y1="657.5" x2="161" y2="648" stroke="#000" stroke-width="1.1"/>
<line x1="161" y1="487.5" x2="161" y2="497" stroke="#000" stroke-width="1.1"/>
<line x1="203.75" y1="657.5" x2="203.75" y2="652.5" stroke="#000" stroke-width="1.1"/>
<line x1="203.75" y1="487.5" x2="203.75" y2="492.5" stroke="#000" stroke-width="1.1"/>
<line x1="246.5" y1="657.5" x2="246.5" y2="648" stroke="#000" stroke-width="1.1"/>
<line x1="246.5" y1="487.5" x2="246.5" y2="497" stroke="#000" stroke-width="1.1"/>
<line x1="289.25" y1="657.5" x2="289.25" y2="652.5" stroke="#000" stroke-width="1.1"/>
<line x1="289.25" y1="487.5" x2="289.25" y2="492.5" stroke="#000" stroke-width="1.1"/>
<line x1="332" y1="657.5" x2="332" y2="648" stroke="#000" stroke-width="1.1"/>
<line x1="332" y1="487.5" x2="332" y2="497" stroke="#000" stroke-width="1.1"/>
<line x1="374.75" y1="657.5" x2="374.75" y2="652.5" stroke="#000" stroke-width="1.1"/>
<line x1="374.75" y1="487.5" x2="374.75" y2="492.5" stroke="#000" stroke-width="1.1"/>
<line x1="417.5" y1="657.5" x2="417.5" y2="648" stroke="#000" stroke-width="1.1"/>
<line x1="417.5" y1="487.5" x2="417.5" y2="497" stroke="#000" stroke-width="1.1"/>
<line x1="75.5" y1="651.1" x2="80.5" y2="651.1" stroke="#000" stroke-width="1.15"/>
<line x1="417.5" y1="651.1" x2="412.5" y2="651.1" stroke="#000" stroke-width="1.15"/>
<line x1="75.5" y1="647.36" x2="80.5" y2="647.36" stroke="#000" stroke-width="1.15"/>
<line x1="417.5" y1="647.36" x2="412.5" y2="647.36" stroke="#000" stroke-width="1.15"/>
<line x1="75.5" y1="644.71" x2="80.5" y2="644.71" stroke="#000" stroke-width="1.15"/>
<line x1="417.5" y1="644.71" x2="412.5" y2="644.71" stroke="#000" stroke-width="1.15"/>
<line x1="75.5" y1="642.65" x2="80.5" y2="642.65" stroke="#000" stroke-width="1.15"/>
<line x1="417.5" y1="642.65" x2="412.5" y2="642.65" stroke="#000" stroke-width="1.15"/>
<line x1="75.5" y1="640.96" x2="80.5" y2="640.96" stroke="#000" stroke-width="1.15"/>
<line x1="417.5" y1="640.96" x2="412.5" y2="640.96" stroke="#000" stroke-width="1.15"/>
<line x1="75.5" y1="639.54" x2="80.5" y2="639.54" stroke="#000" stroke-width="1.15"/>
<line x1="417.5" y1="639.54" x2="412.5" y2="639.54" stroke="#000" stroke-width="1.15"/>
<line x1="75.5" y1="638.31" x2="80.5" y2="638.31" stroke="#000" stroke-width="1.15"/>
<line x1="417.5" y1="638.31" x2="412.5" y2="638.31" stroke="#000" stroke-width="1.15"/>
<line x1="75.5" y1="637.22" x2="80.5" y2="637.22" stroke="#000" stroke-width="1.15"/>
<line x1="417.5" y1="637.22" x2="412.5" y2="637.22" stroke="#000" stroke-width="1.15"/>
<line x1="75.5" y1="636.25" x2="85.5" y2="636.25" stroke="#000" stroke-width="1.15"/>
<line x1="417.5" y1="636.25" x2="407.5" y2="636.25" stroke="#000" stroke-width="1.15"/>
<line x1="75.5" y1="629.85" x2="80.5" y2="629.85" stroke="#000" stroke-width="1.15"/>
<line x1="417.5" y1="629.85" x2="412.5" y2="629.85" stroke="#000" stroke-width="1.15"/>
<line x1="75.5" y1="626.11" x2="80.5" y2="626.11" stroke="#000" stroke-width="1.15"/>
<line x1="417.5" y1="626.11" x2="412.5" y2="626.11" stroke="#000" stroke-width="1.15"/>
<line x1="75.5" y1="623.46" x2="80.5" y2="623.46" stroke="#000" stroke-width="1.15"/>
<line x1="417.5" y1="623.46" x2="412.5" y2="623.46" stroke="#000" stroke-width="1.15"/>
<line x1="75.5" y1="621.4" x2="80.5" y2="621.4" stroke="#000" stroke-width="1.15"/>
<line x1="417.5" y1="621.4" x2="412.5" y2="621.4" stroke="#000" stroke-width="1.15"/>
<line x1="75.5" y1="619.71" x2="80.5" y2="619.71" stroke="#000" stroke-width="1.15"/>
<line x1="417.5" y1="619.71" x2="412.5" y2="619.71" stroke="#000" stroke-width="1.15"/>
<line x1="75.5" y1="618.29" x2="80.5" y2="618.29" stroke="#000" stroke-width="1.15"/>
<line x1="417.5" y1="618.29" x2="412.5" y2="618.29" stroke="#000" stroke-width="1.15"/>
<line x1="75.5" y1="617.06" x2="80.5" y2="617.06" stroke="#000" stroke-width="1.15"/>
<line x1="417.5" y1="617.06" x2="412.5" y2="617.06" stroke="#000" stroke-width="1.15"/>
<line x1="75.5" y1="615.97" x2="80.5" y2="615.97" stroke="#000" stroke-width="1.15"/>
<line x1="417.5" y1="615.97" x2="412.5" y2="615.97" stroke="#000" stroke-width="1.15"/>
<line x1="75.5" y1="615" x2="85.5" y2="615" stroke="#000" stroke-width="1.15"/>
<line x1="417.5" y1="615" x2="407.5" y2="615" stroke="#000" stroke-width="1.15"/>
<line x1="75.5" y1="608.6" x2="80.5" y2="608.6" stroke="#000" stroke-width="1.15"/>
<line x1="417.5" y1="608.6" x2="412.5" y2="608.6" stroke="#000" stroke-width="1.15"/>
<line x1="75.5" y1="604.86" x2="80.5" y2="604.86" stroke="#000" stroke-width="1.15"/>
<line x1="417.5" y1="604.86" x2="412.5" y2="604.86" stroke="#000" stroke-width="1.15"/>
<line x1="75.5" y1="602.21" x2="80.5" y2="602.21" stroke="#000" stroke-width="1.15"/>
<line x1="417.5" y1="602.21" x2="412.5" y2="602.21" stroke="#000" stroke-width="1.15"/>
<line x1="75.5" y1="600.15" x2="80.5" y2="600.15" stroke="#000" stroke-width="1.15"/>
<line x1="417.5" y1="600.15" x2="412.5" y2="600.15" stroke="#000" stroke-width="1.15"/>
<line x1="75.5" y1="598.46" x2="80.5" y2="598.46" stroke="#000" stroke-width="1.15"/>
<line x1="417.5" y1="598.46" x2="412.5" y2="598.46" stroke="#000" stroke-width="1.15"/>
<line x1="75.5" y1="597.04" x2="80.5" y2="597.04" stroke="#000" stroke-width="1.15"/>
<line x1="417.5" y1="597.04" x2="412.5" y2="597.04" stroke="#000" stroke-width="1.15"/>
<line x1="75.5" y1="595.81" x2="80.5" y2="595.81" stroke="#000" stroke-width="1.15"/>
<line x1="417.5" y1="595.81" x2="412.5" y2="595.81" stroke="#000" stroke-width="1.15"/>
<line x1="75.5" y1="594.72" x2="80.5" y2="594.72" stroke="#000" stroke-width="1.15"/>
<line x1="417.5" y1="594.72" x2="412.5" y2="594.72" stroke="#000" stroke-width="1.15"/>
<line x1="75.5" y1="593.75" x2="85.5" y2="593.75" stroke="#000" stroke-width="1.15"/>
<line x1="417.5" y1="593.75" x2="407.5" y2="593.75" stroke="#000" stroke-width="1.15"/>
<line x1="75.5" y1="587.35" x2="80.5" y2="587.35" stroke="#000" stroke-width="1.15"/>
<line x1="417.5" y1="587.35" x2="412.5" y2="587.35" stroke="#000" stroke-width="1.15"/>
<line x1="75.5" y1="583.61" x2="80.5" y2="583.61" stroke="#000" stroke-width="1.15"/>
<line x1="417.5" y1="583.61" x2="412.5" y2="583.61" stroke="#000" stroke-width="1.15"/>
<line x1="75.5" y1="580.96" x2="80.5" y2="580.96" stroke="#000" stroke-width="1.15"/>
<line x1="417.5" y1="580.96" x2="412.5" y2="580.96" stroke="#000" stroke-width="1.15"/>
<line x1="75.5" y1="578.9" x2="80.5" y2="578.9" stroke="#000" stroke-width="1.15"/>
<line x1="417.5" y1="578.9" x2="412.5" y2="578.9" stroke="#000" stroke-width="1.15"/>
<line x1="75.5" y1="577.21" x2="80.5" y2="577.21" stroke="#000" stroke-width="1.15"/>
<line x1="417.5" y1="577.21" x2="412.5" y2="577.21" stroke="#000" stroke-width="1.15"/>
<line x1="75.5" y1="575.79" x2="80.5" y2="575.79" stroke="#000" stroke-width="1.15"/>
<line x1="417.5" y1="575.79" x2="412.5" y2="575.79" stroke="#000" stroke-width="1.15"/>
<line x1="75.5" y1="574.56" x2="80.5" y2="574.56" stroke="#000" stroke-width="1.15"/>
<line x1="417.5" y1="574.56" x2="412.5" y2="574.56" stroke="#000" stroke-width="1.15"/>
<line x1="75.5" y1="573.47" x2="80.5" y2="573.47" stroke="#000" stroke-width="1.15"/>
<line x1="417.5" y1="573.47" x2="412.5" y2="573.47" stroke="#000" stroke-width="1.15"/>
<line x1="75.5" y1="572.5" x2="85.5" y2="572.5" stroke="#000" stroke-width="1.15"/>
<line x1="417.5" y1="572.5" x2="407.5" y2="572.5" stroke="#000" stroke-width="1.15"/>
<line x1="75.5" y1="566.1" x2="80.5" y2="566.1" stroke="#000" stroke-width="1.15"/>
<line x1="417.5" y1="566.1" x2="412.5" y2="566.1" stroke="#000" stroke-width="1.15"/>
<line x1="75.5" y1="562.36" x2="80.5" y2="562.36" stroke="#000" stroke-width="1.15"/>
<line x1="417.5" y1="562.36" x2="412.5" y2="562.36" stroke="#000" stroke-width="1.15"/>
<line x1="75.5" y1="559.71" x2="80.5" y2="559.71" stroke="#000" stroke-width="1.15"/>
<line x1="417.5" y1="559.71" x2="412.5" y2="559.71" stroke="#000" stroke-width="1.15"/>
<line x1="75.5" y1="557.65" x2="80.5" y2="557.65" stroke="#000" stroke-width="1.15"/>
<line x1="417.5" y1="557.65" x2="412.5" y2="557.65" stroke="#000" stroke-width="1.15"/>
<line x1="75.5" y1="555.96" x2="80.5" y2="555.96" stroke="#000" stroke-width="1.15"/>
<line x1="417.5" y1="555.96" x2="412.5" y2="555.96" stroke="#000" stroke-width="1.15"/>
<line x1="75.5" y1="554.54" x2="80.5" y2="554.54" stroke="#000" stroke-width="1.15"/>
<line x1="417.5" y1="554.54" x2="412.5" y2="554.54" stroke="#000" stroke-width="1.15"/>
<line x1="75.5" y1="553.31" x2="80.5" y2="553.31" stroke="#000" stroke-width="1.15"/>
<line x1="417.5" y1="553.31" x2="412.5" y2="553.31" stroke="#000" stroke-width="1.15"/>
<line x1="75.5" y1="552.22" x2="80.5" y2="552.22" stroke="#000" stroke-width="1.15"/>
<line x1="417.5" y1="552.22" x2="412.5" y2="552.22" stroke="#000" stroke-width="1.15"/>
<line x1="75.5" y1="551.25" x2="85.5" y2="551.25" stroke="#000" stroke-width="1.15"/>
<line x1="417.5" y1="551.25" x2="407.5" y2="551.25" stroke="#000" stroke-width="1.15"/>
<line x1="75.5" y1="544.85" x2="80.5" y2="544.85" stroke="#000" stroke-width="1.15"/>
<line x1="417.5" y1="544.85" x2="412.5" y2="544.85" stroke="#000" stroke-width="1.15"/>
<line x1="75.5" y1="541.11" x2="80.5" y2="541.11" stroke="#000" stroke-width="1.15"/>
<line x1="417.5" y1="541.11" x2="412.5" y2="541.11" stroke="#000" stroke-width="1.15"/>
<line x1="75.5" y1="538.46" x2="80.5" y2="538.46" stroke="#000" stroke-width="1.15"/>
<line x1="417.5" y1="538.46" x2="412.5" y2="538.46" stroke="#000" stroke-width="1.15"/>
<line x1="75.5" y1="536.4" x2="80.5" y2="536.4" stroke="#000" stroke-width="1.15"/>
<line x1="417.5" y1="536.4" x2="412.5" y2="536.4" stroke="#000" stroke-width="1.15"/>
<line x1="75.5" y1="534.71" x2="80.5" y2="534.71" stroke="#000" stroke-width="1.15"/>
<line x1="417.5" y1="534.71" x2="412.5" y2="534.71" stroke="#000" stroke-width="1.15"/>
<line x1="75.5" y1="533.29" x2="80.5" y2="533.29" stroke="#000" stroke-width="1.15"/>
<line x1="417.5" y1="533.29" x2="412.5" y2="533.29" stroke="#000" stroke-width="1.15"/>
<line x1="75.5" y1="532.06" x2="80.5" y2="532.06" stroke="#000" stroke-width="1.15"/>
<line x1="417.5" y1="532.06" x2="412.5" y2="532.06" stroke="#000" stroke-width="1.15"/>
<line x1="75.5" y1="530.97" x2="80.5" y2="530.97" stroke="#000" stroke-width="1.15"/>
<line x1="417.5" y1="530.97" x2="412.5" y2="530.97" stroke="#000" stroke-width="1.15"/>
<line x1="75.5" y1="530" x2="85.5" y2="530" stroke="#000" stroke-width="1.15"/>
<line x1="417.5" y1="530" x2="407.5" y2="530" stroke="#000" stroke-width="1.15"/>
<line x1="75.5" y1="523.6" x2="80.5" y2="523.6" stroke="#000" stroke-width="1.15"/>
<line x1="417.5" y1="523.6" x2="412.5" y2="523.6" stroke="#000" stroke-width="1.15"/>
<line x1="75.5" y1="519.86" x2="80.5" y2="519.86" stroke="#000" stroke-width="1.15"/>
<line x1="417.5" y1="519.86" x2="412.5" y2="519.86" stroke="#000" stroke-width="1.15"/>
<line x1="75.5" y1="517.21" x2="80.5" y2="517.21" stroke="#000" stroke-width="1.15"/>
<line x1="417.5" y1="517.21" x2="412.5" y2="517.21" stroke="#000" stroke-width="1.15"/>
<line x1="75.5" y1="515.15" x2="80.5" y2="515.15" stroke="#000" stroke-width="1.15"/>
<line x1="417.5" y1="515.15" x2="412.5" y2="515.15" stroke="#000" stroke-width="1.15"/>
<line x1="75.5" y1="513.46" x2="80.5" y2="513.46" stroke="#000" stroke-width="1.15"/>
<line x1="417.5" y1="513.46" x2="412.5" y2="513.46" stroke="#000" stroke-width="1.15"/>
<line x1="75.5" y1="512.04" x2="80.5" y2="512.04" stroke="#000" stroke-width="1.15"/>
<line x1="417.5" y1="512.04" x2="412.5" y2="512.04" stroke="#000" stroke-width="1.15"/>
<line x1="75.5" y1="510.81" x2="80.5" y2="510.81" stroke="#000" stroke-width="1.15"/>
<line x1="417.5" y1="510.81" x2="412.5" y2="510.81" stroke="#000" stroke-width="1.15"/>
<line x1="75.5" y1="509.72" x2="80.5" y2="509.72" stroke="#000" stroke-width="1.15"/>
<line x1="417.5" y1="509.72" x2="412.5" y2="509.72" stroke="#000" stroke-width="1.15"/>
<line x1="75.5" y1="508.75" x2="85.5" y2="508.75" stroke="#000" stroke-width="1.15"/>
<line x1="417.5" y1="508.75" x2="407.5" y2="508.75" stroke="#000" stroke-width="1.15"/>
<line x1="75.5" y1="502.35" x2="80.5" y2="502.35" stroke="#000" stroke-width="1.15"/>
<line x1="417.5" y1="502.35" x2="412.5" y2="502.35" stroke="#000" stroke-width="1.15"/>
<line x1="75.5" y1="498.61" x2="80.5" y2="498.61" stroke="#000" stroke-width="1.15"/>
<line x1="417.5" y1="498.61" x2="412.5" y2="498.61" stroke="#000" stroke-width="1.15"/>
<line x1="75.5" y1="495.96" x2="80.5" y2="495.96" stroke="#000" stroke-width="1.15"/>
<line x1="417.5" y1="495.96" x2="412.5" y2="495.96" stroke="#000" stroke-width="1.15"/>
<line x1="75.5" y1="493.9" x2="80.5" y2="493.9" stroke="#000" stroke-width="1.15"/>
<line x1="417.5" y1="493.9" x2="412.5" y2="493.9" stroke="#000" stroke-width="1.15"/>
<line x1="75.5" y1="492.21" x2="80.5" y2="492.21" stroke="#000" stroke-width="1.15"/>
<line x1="417.5" y1="492.21" x2="412.5" y2="492.21" stroke="#000" stroke-width="1.15"/>
<line x1="75.5" y1="490.79" x2="80.5" y2="490.79" stroke="#000" stroke-width="1.15"/>
<line x1="417.5" y1="490.79" x2="412.5" y2="490.79" stroke="#000" stroke-width="1.15"/>
<line x1="75.5" y1="489.56" x2="80.5" y2="489.56" stroke="#000" stroke-width="1.15"/>
<line x1="417.5" y1="489.56" x2="412.5" y2="489.56" stroke="#000" stroke-width="1.15"/>
<line x1="75.5" y1="488.47" x2="80.5" y2="488.47" stroke="#000" stroke-width="1.15"/>
<line x1="417.5" y1="488.47" x2="412.5" y2="488.47" stroke="#000" stroke-width="1.15"/>
<text transform="translate(75.5,684.5) scale(1,1.05)" text-anchor="middle" font-size="20">0</text>
<text transform="translate(161,684.5) scale(1,1.05)" text-anchor="middle" font-size="20">2</text>
<text transform="translate(246.5,684.5) scale(1,1.05)" text-anchor="middle" font-size="20">4</text>
<text transform="translate(332,684.5) scale(1,1.05)" text-anchor="middle" font-size="20">6</text>
<text transform="translate(417.5,684.5) scale(1,1.05)" text-anchor="middle" font-size="20">8</text>
<text transform="translate(64.4,665.5) scale(1,1.05)" text-anchor="end" font-size="20">10<tspan dy="-7.4" font-size="13.5">-1</tspan></text>
<text transform="translate(64.4,623) scale(1,1.05)" text-anchor="end" font-size="20">10<tspan dy="-7.4" font-size="13.5">1</tspan></text>
<text transform="translate(64.4,580.5) scale(1,1.05)" text-anchor="end" font-size="20">10<tspan dy="-7.4" font-size="13.5">3</tspan></text>
<text transform="translate(64.4,538) scale(1,1.05)" text-anchor="end" font-size="20">10<tspan dy="-7.4" font-size="13.5">5</tspan></text>
<text transform="translate(64.4,495.5) scale(1,1.05)" text-anchor="end" font-size="20">10<tspan dy="-7.4" font-size="13.5">7</tspan></text>
<text transform="translate(246,709.7) scale(1,1.05)" text-anchor="middle" font-size="20">2<tspan font-family="Liberation Serif">θ</tspan> (deg)</text>
<text transform="translate(19.9,573) rotate(-90)" text-anchor="middle" font-size="20">counts/second</text>
<text transform="translate(-1.5,486) scale(1,1.05)" text-anchor="start" font-size="20">(e)</text>
<text transform="translate(92,634.4) scale(1,1.05)" text-anchor="start" font-size="20">800<tspan dy="-6.8" font-size="14.5">o</tspan><tspan dy="6.8">C</tspan></text>
<path d="M96.9 514.5h0M97.1 514.6h0M97.3 514.2h0M97.5 514.0h0M97.7 514.1h0M97.9 514.7h0M98.2 513.9h0M98.4 514.6h0M98.6 513.5h0M98.8 514.1h0M99.0 513.7h0M99.2 513.7h0M99.4 514.0h0M99.7 513.4h0M99.9 513.6h0M100.1 513.0h0M100.3 513.4h0M100.5 513.4h0M100.7 512.7h0M100.9 513.0h0M101.2 513.4h0M101.4 513.6h0M101.6 512.7h0M101.8 512.9h0M102.0 512.8h0M102.2 513.3h0M102.4 513.3h0M102.6 513.4h0M102.9 512.7h0M103.1 513.1h0M103.3 512.8h0M103.5 513.6h0M103.7 512.6h0M103.9 513.1h0M104.1 513.7h0M104.4 513.2h0M104.6 512.7h0M104.8 512.3h0M105.0 513.6h0M105.2 513.1h0M105.4 512.6h0M105.6 513.1h0M105.9 512.8h0M106.1 512.9h0M106.3 512.5h0M106.5 513.0h0M106.7 512.6h0M106.9 512.8h0M107.1 512.4h0M107.3 512.5h0M107.6 512.1h0M107.8 512.3h0M108.0 511.8h0M108.2 512.9h0M108.4 512.4h0M108.6 512.1h0M108.8 512.3h0M109.1 513.1h0M109.3 512.2h0M109.5 512.4h0M109.7 511.5h0M109.9 512.3h0M110.1 512.0h0M110.3 512.6h0M110.6 512.0h0M110.8 513.2h0M111.0 512.6h0M111.2 512.4h0M111.4 512.8h0M111.6 512.0h0M111.8 512.4h0M112.1 511.9h0M112.3 512.9h0M112.5 512.7h0M112.7 512.3h0M112.9 512.7h0M113.1 512.3h0M113.3 512.4h0M113.5 512.9h0M113.8 512.7h0M114.0 512.6h0M114.2 512.7h0M114.4 512.9h0M114.6 513.1h0M114.8 513.0h0M115.0 512.7h0M115.3 512.4h0M115.5 513.6h0M115.7 513.5h0M115.9 513.3h0M116.1 512.9h0M116.3 513.8h0M116.5 512.9h0M116.8 513.0h0M117.0 514.6h0M117.2 513.8h0M117.4 514.0h0M117.6 514.5h0M117.8 515.1h0M118.0 514.6h0M118.3 515.0h0M118.5 514.7h0M118.7 515.1h0M118.9 515.8h0M119.1 515.1h0M119.3 515.4h0M119.5 515.7h0M119.7 516.5h0M120.0 516.5h0M120.2 517.2h0M120.4 517.8h0M120.6 518.7h0M120.8 518.5h0M121.0 519.7h0M121.2 519.3h0M121.5 520.5h0M121.7 520.4h0M121.9 521.1h0M122.1 521.9h0M122.3 522.5h0M122.5 523.0h0M122.7 522.9h0M123.0 523.9h0M123.2 524.7h0M123.4 525.0h0M123.6 526.2h0M123.8 526.9h0M124.0 527.3h0M124.2 527.1h0M124.4 528.0h0M124.7 528.3h0M124.9 528.6h0M125.1 529.1h0M125.3 528.8h0M125.5 529.4h0M125.7 530.3h0M125.9 530.7h0M126.2 530.7h0M126.4 531.1h0M126.6 530.8h0M126.8 530.5h0M127.0 530.5h0M127.2 530.3h0M127.4 530.4h0M127.7 530.4h0M127.9 530.7h0M128.1 530.3h0M128.3 531.5h0M128.5 532.0h0M128.7 532.8h0M128.9 533.7h0M129.2 534.9h0M129.4 536.2h0M129.6 535.8h0M129.8 537.4h0M130.0 537.2h0M130.2 537.9h0M130.4 537.3h0M130.6 537.7h0M130.9 536.5h0M131.1 536.5h0M131.3 536.7h0M131.5 535.3h0M131.7 536.2h0M131.9 535.5h0M132.1 535.0h0M132.4 535.6h0M132.6 535.3h0M132.8 536.1h0M133.0 536.8h0M133.2 536.9h0M133.4 538.0h0M133.6 538.9h0M133.9 539.3h0M134.1 540.5h0M134.3 541.6h0M134.5 542.2h0M134.7 541.8h0M134.9 542.5h0M135.1 544.2h0M135.4 543.7h0M135.6 543.7h0M135.8 544.0h0M136.0 543.4h0M136.2 543.4h0M136.4 542.5h0M136.6 541.5h0M136.8 541.3h0M137.1 541.1h0M137.3 541.1h0M137.5 541.6h0M137.7 541.8h0M137.9 542.2h0M138.1 542.7h0M138.3 543.6h0M138.6 543.6h0M138.8 545.6h0M139.0 546.3h0M139.2 547.1h0M139.4 547.6h0M139.6 549.1h0M139.8 549.3h0M140.1 550.4h0M140.3 550.9h0M140.5 551.0h0M140.7 551.1h0M140.9 551.1h0M141.1 551.7h0M141.3 550.6h0M141.5 550.1h0M141.8 549.7h0M142.0 549.0h0M142.2 548.4h0M142.4 547.8h0M142.6 546.9h0M142.8 546.2h0M143.0 546.6h0M143.3 546.4h0M143.5 546.4h0M143.7 547.6h0M143.9 547.2h0M144.1 548.4h0M144.3 548.9h0M144.5 550.5h0M144.8 551.8h0M145.0 552.7h0M145.2 553.7h0M145.4 555.2h0M145.6 555.7h0M145.8 556.8h0M146.0 558.1h0M146.3 558.2h0M146.5 558.8h0M146.7 558.9h0M146.9 558.9h0M147.1 558.6h0M147.3 558.2h0M147.5 556.9h0M147.7 556.0h0M148.0 554.8h0M148.2 554.2h0M148.4 552.9h0M148.6 552.0h0M148.8 552.2h0M149.0 551.4h0M149.2 550.8h0M149.5 551.9h0M149.7 552.3h0M149.9 552.9h0M150.1 553.9h0M150.3 554.5h0M150.5 555.9h0M150.7 557.1h0M151.0 558.5h0M151.2 559.4h0M151.4 560.9h0M151.6 562.3h0M151.8 563.5h0M152.0 564.0h0M152.2 565.5h0M152.5 566.2h0M152.7 566.4h0M152.9 567.2h0M153.1 566.8h0M153.3 566.9h0M153.5 565.3h0M153.7 564.8h0M153.9 562.4h0M154.2 560.9h0M154.4 559.4h0M154.6 557.5h0M154.8 556.7h0M155.0 556.3h0M155.2 556.0h0M155.4 556.6h0M155.7 557.0h0M155.9 557.9h0M156.1 558.1h0M156.3 559.3h0M156.5 560.8h0M156.7 561.8h0M156.9 562.8h0M157.2 563.9h0M157.4 564.3h0M157.6 565.6h0M157.8 566.4h0M158.0 568.1h0M158.2 569.1h0M158.4 569.4h0M158.6 571.4h0M158.9 572.0h0M159.1 573.1h0M159.3 573.3h0M159.5 572.8h0M159.7 574.2h0M159.9 573.8h0M160.1 573.4h0M160.4 573.7h0M160.6 572.9h0M160.8 571.4h0M161.0 570.0h0M161.2 569.1h0M161.4 567.3h0M161.6 565.0h0M161.9 564.5h0M162.1 563.1h0M162.3 562.3h0M162.5 562.4h0M162.7 562.4h0M162.9 562.9h0M163.1 563.6h0M163.4 564.4h0M163.6 565.8h0M163.8 566.6h0M164.0 567.9h0M164.2 569.0h0M164.4 570.9h0M164.6 572.5h0M164.8 573.2h0M165.1 575.2h0M165.3 576.7h0M165.5 578.1h0M165.7 579.0h0M165.9 580.2h0M166.1 580.8h0M166.3 581.4h0M166.6 581.6h0M166.8 581.1h0M167.0 580.9h0M167.2 579.0h0M167.4 578.7h0M167.6 576.3h0M167.8 575.2h0M168.1 573.3h0M168.3 571.5h0M168.5 570.9h0M168.7 568.5h0M168.9 567.8h0M169.1 567.3h0M169.3 567.0h0M169.6 566.6h0M169.8 567.6h0M170.0 567.1h0M170.2 568.7h0M170.4 569.6h0M170.6 571.2h0M170.8 572.9h0M171.0 574.6h0M171.3 576.6h0M171.5 577.7h0M171.7 579.9h0M171.9 581.4h0M172.1 583.0h0M172.3 583.8h0M172.5 585.3h0M172.8 586.9h0M173.0 587.9h0M173.2 588.4h0M173.4 588.4h0M173.6 586.5h0M173.8 586.2h0M174.0 585.0h0M174.3 585.0h0M174.5 582.9h0M174.7 581.7h0M174.9 579.6h0M175.1 578.0h0M175.3 576.2h0M175.5 575.0h0M175.7 573.8h0M176.0 572.7h0M176.2 572.4h0M176.4 572.1h0M176.6 571.8h0M176.8 572.2h0M177.0 572.6h0M177.2 573.9h0M177.5 575.6h0M177.7 576.2h0M177.9 577.8h0M178.1 580.4h0M178.3 582.2h0M178.5 583.9h0M178.7 585.8h0M179.0 589.0h0M179.2 589.5h0M179.4 591.1h0M179.6 592.0h0M179.8 593.1h0M180.0 594.7h0M180.2 594.9h0M180.5 595.1h0M180.7 592.5h0M180.9 592.2h0M181.1 590.9h0M181.3 592.9h0M181.5 589.3h0M181.7 587.7h0M181.9 586.1h0M182.2 584.8h0M182.4 583.1h0M182.6 581.5h0M182.8 579.7h0M183.0 578.5h0M183.2 577.7h0M183.4 577.2h0M183.7 575.9h0M183.9 576.2h0M184.1 576.1h0M184.3 577.5h0M184.5 578.2h0M184.7 579.7h0M184.9 581.3h0M185.2 583.7h0M185.4 585.5h0M185.6 587.5h0M185.8 589.9h0M186.0 593.1h0M186.2 594.0h0M186.4 594.5h0M186.7 598.0h0M186.9 600.0h0M187.1 602.0h0M187.3 602.2h0M187.5 602.0h0M187.7 604.0h0M187.9 599.1h0M188.1 599.1h0M188.4 598.8h0M188.6 597.0h0M188.8 594.7h0M189.0 594.3h0M189.2 592.1h0M189.4 589.7h0M189.6 588.5h0M189.9 586.7h0M190.1 584.1h0M190.3 583.1h0M190.5 582.6h0M190.7 581.5h0M190.9 581.7h0M191.1 580.5h0M191.4 581.3h0M191.6 581.6h0M191.8 582.1h0M192.0 584.2h0M192.2 586.6h0M192.4 587.4h0M192.6 588.5h0M192.8 592.1h0M193.1 594.3h0M193.3 595.1h0M193.5 598.3h0M193.7 600.1h0M193.9 599.8h0M194.1 602.7h0M194.3 600.3h0M194.6 602.2h0M194.8 604.9h0M195.0 605.5h0M195.2 604.0h0M195.4 604.9h0M195.6 603.2h0M195.8 604.6h0M196.1 597.9h0M196.3 599.8h0M196.5 595.5h0M196.7 594.0h0M196.9 592.6h0M197.1 590.1h0M197.3 589.1h0M197.6 587.3h0M197.8 587.3h0M198.0 584.8h0M198.2 585.9h0M198.4 585.1h0M198.6 584.6h0M198.8 586.5h0M199.0 586.2h0M199.3 588.7h0M199.5 588.2h0M199.7 589.5h0M199.9 592.2h0M200.1 593.4h0M200.3 595.0h0M200.5 596.7h0M200.8 598.3h0M201.0 599.3h0M201.2 602.2h0M201.4 604.9h0M201.6 610.1h0M201.8 604.9h0M202.0 600.3h0M202.3 602.4h0M202.5 610.7h0M202.7 604.3h0M202.9 603.7h0M203.1 605.5h0M203.3 601.3h0M203.5 599.8h0M203.8 598.2h0M204.0 595.8h0M204.2 595.8h0M204.4 593.8h0M204.6 592.7h0M204.8 590.6h0M205.0 589.3h0M205.2 590.7h0M205.5 588.7h0M205.7 589.3h0M205.9 587.9h0M206.1 588.7h0M206.3 589.9h0M206.5 589.5h0M206.7 592.1h0M207.0 593.7h0M207.2 594.0h0M207.4 594.9h0M207.6 597.6h0M207.8 600.7h0M208.0 602.2h0M208.2 601.1h0M208.5 602.7h0M208.7 604.0h0M208.9 605.5h0M209.1 608.2h0M209.3 605.8h0M209.5 608.2h0M209.7 604.0h0M209.9 605.8h0M210.2 605.5h0M210.4 605.2h0M210.6 605.8h0M210.8 601.1h0M211.0 602.9h0M211.2 600.0h0M211.4 602.0h0M211.7 599.6h0M211.9 598.2h0M212.1 594.9h0M212.3 593.4h0M212.5 593.8h0M212.7 594.3h0M212.9 592.8h0M213.2 591.9h0M213.4 592.4h0M213.6 592.6h0M213.8 594.2h0M214.0 594.7h0M214.2 595.0h0M214.4 595.6h0M214.7 594.6h0M214.9 596.7h0M215.1 597.6h0M215.3 599.6h0M215.5 602.0h0M215.7 604.0h0M215.9 606.9h0M216.1 610.1h0M216.4 608.6h0M216.6 603.2h0M216.8 612.6h0M217.0 609.6h0M217.2 616.0h0M217.4 611.9h0M217.6 606.5h0M217.9 609.6h0M218.1 606.5h0M218.3 608.2h0M218.5 608.2h0M218.7 607.7h0M218.9 606.9h0M219.1 600.9h0M219.4 601.3h0M219.6 602.9h0M219.8 600.7h0M220.0 600.3h0M220.2 597.0h0M220.4 597.9h0M220.6 597.6h0M220.9 598.3h0M221.1 599.3h0M221.3 595.9h0M221.5 600.5h0M221.7 599.3h0M221.9 601.1h0M222.1 603.7h0M222.3 602.2h0M222.6 605.2h0M222.8 606.5h0M223.0 607.7h0M223.2 606.2h0M223.4 609.1h0M223.6 606.9h0M223.8 602.2h0M224.1 616.0h0M224.3 613.3h0M224.5 610.7h0M224.7 609.6h0M224.9 609.6h0M225.1 609.6h0M225.3 612.6h0M225.6 611.9h0M225.8 608.2h0M226.0 606.9h0M226.2 609.1h0M226.4 602.9h0M226.6 604.6h0M226.8 601.8h0M227.0 603.2h0M227.3 604.0h0M227.5 601.8h0M227.7 602.4h0M227.9 602.9h0M228.1 598.8h0M228.3 601.1h0M228.5 600.9h0M228.8 599.6h0M229.0 601.5h0M229.2 602.0h0M229.4 604.3h0M229.6 602.9h0M229.8 605.2h0M230.0 610.1h0M230.3 604.6h0M230.5 609.1h0M230.7 607.3h0M230.9 605.5h0M231.1 607.3h0M231.3 611.3h0M231.5 608.2h0M231.8 612.6h0M232.0 609.6h0M232.2 608.6h0M232.4 614.1h0M232.6 606.2h0M232.8 608.6h0M233.0 608.2h0M233.2 607.7h0M233.5 604.6h0M233.7 613.3h0M233.9 604.9h0M234.1 606.5h0M234.3 606.5h0M234.5 606.9h0M234.7 604.0h0M235.0 604.3h0M235.2 603.2h0M235.4 606.5h0M235.6 604.6h0M235.8 606.9h0M236.0 606.9h0M236.2 607.3h0M236.5 609.1h0M236.7 607.3h0M236.9 607.7h0M237.1 610.7h0M237.3 605.8h0M237.5 606.2h0M237.7 609.1h0M238.0 614.1h0M238.2 610.1h0M238.4 611.9h0M238.6 610.7h0M238.8 617.1h0M239.0 623.5h0M239.2 612.6h0M239.4 615.0h0M239.7 617.1h0M239.9 610.1h0M240.1 610.7h0M240.3 610.1h0M240.5 608.6h0M240.7 613.3h0M240.9 604.0h0M241.2 605.8h0M241.4 608.6h0M241.6 608.2h0M241.8 611.9h0M242.0 608.2h0M242.2 604.9h0M242.4 608.6h0M242.7 607.3h0M242.9 612.6h0M243.1 608.2h0M243.3 605.8h0M243.5 605.5h0M243.7 611.3h0M243.9 611.9h0M244.1 609.1h0M244.4 607.3h0M244.6 609.1h0M244.8 609.1h0M245.0 614.1h0M245.2 614.1h0M245.4 614.1h0M245.6 616.0h0M245.9 608.6h0M246.1 612.6h0M246.3 617.1h0M246.5 612.6h0M246.7 609.6h0M246.9 616.0h0M247.1 616.0h0M247.4 612.6h0M247.6 616.0h0M247.8 612.6h0M248.0 615.0h0M248.2 615.0h0M248.4 613.3h0M248.6 611.3h0M248.9 615.0h0M249.1 609.6h0M249.3 613.3h0M249.5 608.6h0M249.7 606.9h0M249.9 617.1h0M250.1 615.0h0M250.3 605.2h0M250.6 611.3h0M250.8 612.6h0M251.0 610.7h0M251.2 609.6h0M251.4 610.1h0M251.6 614.1h0M251.8 610.7h0M252.1 615.0h0M252.3 612.6h0M252.5 616.0h0M252.7 615.0h0M252.9 621.4h0M253.1 615.0h0M253.3 613.3h0M253.6 616.0h0M253.8 616.0h0M254.0 619.7h0M254.2 618.3h0M254.4 617.1h0M254.6 613.3h0M254.8 611.3h0M255.1 611.9h0M255.3 611.3h0M255.5 616.0h0M255.7 615.0h0M255.9 615.0h0M256.1 616.0h0M256.3 613.3h0M256.5 616.0h0M256.8 611.9h0M257.0 615.0h0M257.2 610.7h0M257.4 617.1h0M257.6 614.1h0M257.8 613.3h0M258.0 614.1h0M258.3 617.1h0M258.5 608.2h0M258.7 609.6h0M258.9 609.1h0M259.1 611.3h0M259.3 617.1h0M259.5 612.6h0M259.8 614.1h0M260.0 610.7h0M260.2 611.3h0M260.4 612.6h0M260.6 616.0h0M260.8 617.1h0M261.0 612.6h0M261.2 616.0h0M261.5 617.1h0M261.7 617.1h0M261.9 619.7h0M262.1 612.6h0M262.3 618.3h0M262.5 621.4h0M262.7 614.1h0M263.0 613.3h0M263.2 611.3h0M263.4 611.9h0M263.6 614.1h0M263.8 615.0h0M264.0 623.5h0M264.2 619.7h0M264.5 616.0h0M264.7 612.6h0M264.9 619.7h0M265.1 613.3h0M265.3 614.1h0M265.5 616.0h0M265.7 615.0h0M266.0 613.3h0M266.2 614.1h0M266.4 616.0h0M266.6 614.1h0M266.8 614.1h0M267.0 618.3h0M267.2 616.0h0M267.4 619.7h0M267.7 621.4h0M267.9 612.6h0M268.1 629.9h0M268.3 619.7h0M268.5 615.0h0M268.7 617.1h0M268.9 618.3h0M269.2 619.7h0M269.4 614.1h0M269.6 616.0h0M269.8 616.0h0M270.0 619.7h0M270.2 616.0h0M270.4 617.1h0M270.7 618.3h0M270.9 613.3h0M271.1 616.0h0M271.3 619.7h0M271.5 618.3h0M271.7 618.3h0M271.9 617.1h0M272.2 614.1h0M272.4 616.0h0M272.6 621.4h0M272.8 612.6h0M273.0 626.1h0M273.2 621.4h0M273.4 613.3h0M273.6 611.3h0M273.9 617.1h0M274.1 619.7h0M274.3 615.0h0M274.5 623.5h0M274.7 614.1h0M274.9 626.1h0M275.1 614.1h0M275.4 612.6h0M275.6 626.1h0M275.8 617.1h0M276.0 619.7h0M276.2 623.5h0M276.4 623.5h0M276.6 626.1h0M276.9 623.5h0M277.1 621.4h0M277.3 629.9h0M277.5 614.1h0M277.7 619.7h0M277.9 621.4h0M278.1 618.3h0M278.3 629.9h0M278.6 623.5h0M278.8 618.3h0M279.0 616.0h0M279.2 617.1h0M279.4 623.5h0M279.6 623.5h0M279.8 623.5h0M280.1 619.7h0M280.3 615.0h0M280.5 618.3h0M280.7 616.0h0M280.9 616.0h0M281.1 617.1h0M281.3 623.5h0M281.6 623.5h0M281.8 616.0h0M282.0 621.4h0M282.2 629.9h0M282.4 619.7h0M282.6 621.4h0M282.8 619.7h0M283.1 613.3h0M283.3 618.3h0M283.5 623.5h0M283.7 616.0h0M283.9 615.0h0M284.1 619.7h0M284.3 619.7h0M284.5 610.7h0M284.8 621.4h0M285.0 618.3h0M285.2 623.5h0M285.4 619.7h0M285.6 623.5h0M285.8 621.4h0M286.0 626.1h0M286.3 623.5h0M286.5 619.7h0M286.7 618.3h0M286.9 614.1h0M287.1 621.4h0M287.3 619.7h0M287.5 619.7h0M287.8 612.6h0M288.0 623.5h0M288.2 616.0h0M288.4 626.1h0M288.6 623.5h0M288.8 626.1h0M289.0 615.0h0M289.3 623.5h0M289.5 618.3h0M289.7 626.1h0M289.9 619.7h0M290.1 623.5h0M290.3 623.5h0M290.5 619.7h0M290.7 621.4h0M291.0 621.4h0M291.2 623.5h0M291.4 623.5h0M291.6 623.5h0M291.8 621.4h0M292.0 615.0h0M292.2 615.0h0M292.5 636.2h0M292.7 618.3h0M292.9 621.4h0M293.1 623.5h0M293.3 621.4h0M293.5 616.0h0M293.7 618.3h0M294.2 636.2h0M294.4 636.2h0M294.6 618.3h0M294.8 636.2h0M295.0 618.3h0M295.2 615.0h0M295.4 621.4h0M295.7 623.5h0M295.9 621.4h0M296.1 617.1h0M296.3 621.4h0M296.5 623.5h0M296.7 619.7h0M296.9 623.5h0M297.2 618.3h0M297.4 636.2h0M297.6 623.5h0M297.8 618.3h0M298.0 619.7h0M298.2 614.1h0M298.4 621.4h0M298.7 623.5h0M298.9 615.0h0M299.1 618.3h0M299.3 621.4h0M299.5 619.7h0M299.7 623.5h0M299.9 621.4h0M300.2 623.5h0M300.4 623.5h0M300.6 626.1h0M300.8 623.5h0M301.0 618.3h0M301.2 618.3h0M301.4 626.1h0M301.6 616.0h0M301.9 619.7h0M302.1 623.5h0M302.3 621.4h0M302.7 623.5h0M302.9 636.2h0M303.1 617.1h0M303.4 619.7h0M303.6 626.1h0M303.8 615.0h0M304.0 617.1h0M304.2 618.3h0M304.4 626.1h0M304.6 617.1h0M304.9 623.5h0M305.1 617.1h0M305.3 619.7h0M305.5 621.4h0M305.7 619.7h0M305.9 619.7h0M306.1 621.4h0M306.4 621.4h0M306.6 626.1h0M306.8 618.3h0M307.0 619.7h0M307.2 614.1h0M307.4 619.7h0M307.6 616.0h0M307.8 629.9h0M308.1 626.1h0M308.3 619.7h0M308.5 626.1h0M308.7 618.3h0M308.9 623.5h0M309.1 626.1h0M309.3 636.2h0M309.6 629.9h0M309.8 623.5h0M310.0 626.1h0M310.2 626.1h0M310.4 629.9h0M310.6 623.5h0M310.8 619.7h0M311.1 626.1h0M311.3 629.9h0M311.5 629.9h0M311.7 623.5h0M311.9 626.1h0M312.1 621.4h0M312.3 623.5h0M312.5 626.1h0M312.8 636.2h0M313.0 619.7h0M313.2 621.4h0M313.4 618.3h0M313.6 621.4h0M313.8 623.5h0M314.0 623.5h0M314.3 626.1h0M314.5 626.1h0M314.7 621.4h0M314.9 616.0h0M315.1 623.5h0M315.3 623.5h0M315.5 617.1h0M315.8 629.9h0M316.0 626.1h0M316.2 623.5h0M316.4 626.1h0M316.6 617.1h0M316.8 623.5h0M317.0 626.1h0M317.3 621.4h0M317.5 621.4h0M317.7 626.1h0M317.9 626.1h0" stroke="#0000ff" stroke-width="3.6" stroke-linecap="round" fill="none"/>
<path d="M96.62 513.70 L96.75 513.66 L96.88 513.63 L97.00 513.59 L97.13 513.55 L97.26 513.52 L97.39 513.48 L97.52 513.44 L97.64 513.41 L97.77 513.37 L97.90 513.33 L98.03 513.30 L98.16 513.26 L98.29 513.23 L98.41 513.20 L98.54 513.16 L98.67 513.13 L98.80 513.09 L98.93 513.06 L99.06 513.03 L99.18 512.99 L99.31 512.96 L99.44 512.93 L99.57 512.90 L99.70 512.87 L99.82 512.84 L99.95 512.80 L100.08 512.77 L100.21 512.74 L100.34 512.71 L100.47 512.69 L100.59 512.66 L100.72 512.63 L100.85 512.60 L100.98 512.57 L101.11 512.54 L101.24 512.52 L101.36 512.49 L101.49 512.47 L101.62 512.44 L101.75 512.41 L101.88 512.39 L102.01 512.37 L102.13 512.34 L102.26 512.32 L102.39 512.30 L102.52 512.27 L102.65 512.25 L102.77 512.23 L102.90 512.21 L103.03 512.19 L103.16 512.17 L103.29 512.15 L103.42 512.13 L103.54 512.11 L103.67 512.09 L103.80 512.07 L103.93 512.05 L104.06 512.03 L104.19 512.01 L104.31 511.99 L104.44 511.98 L104.57 511.96 L104.70 511.94 L104.83 511.92 L104.95 511.90 L105.08 511.88 L105.21 511.86 L105.34 511.84 L105.47 511.82 L105.60 511.80 L105.72 511.78 L105.85 511.77 L105.98 511.75 L106.11 511.73 L106.24 511.71 L106.37 511.70 L106.49 511.68 L106.62 511.66 L106.75 511.65 L106.88 511.63 L107.01 511.61 L107.14 511.60 L107.26 511.58 L107.39 511.57 L107.52 511.56 L107.65 511.54 L107.78 511.53 L107.90 511.52 L108.03 511.51 L108.16 511.50 L108.29 511.48 L108.42 511.47 L108.55 511.47 L108.67 511.46 L108.80 511.45 L108.93 511.44 L109.06 511.43 L109.19 511.43 L109.32 511.42 L109.44 511.42 L109.57 511.41 L109.70 511.41 L109.83 511.41 L109.96 511.41 L110.08 511.41 L110.21 511.41 L110.34 511.41 L110.47 511.41 L110.60 511.42 L110.73 511.42 L110.85 511.43 L110.98 511.44 L111.11 511.44 L111.24 511.45 L111.37 511.47 L111.50 511.48 L111.62 511.49 L111.75 511.51 L111.88 511.52 L112.01 511.54 L112.14 511.56 L112.27 511.58 L112.39 511.60 L112.52 511.62 L112.65 511.64 L112.78 511.66 L112.91 511.68 L113.03 511.71 L113.16 511.73 L113.29 511.76 L113.42 511.78 L113.55 511.81 L113.68 511.84 L113.80 511.87 L113.93 511.90 L114.06 511.93 L114.19 511.96 L114.32 511.99 L114.45 512.02 L114.57 512.05 L114.70 512.09 L114.83 512.12 L114.96 512.15 L115.09 512.19 L115.21 512.22 L115.34 512.26 L115.47 512.29 L115.60 512.34 L115.73 512.38 L115.86 512.43 L115.98 512.49 L116.11 512.54 L116.24 512.61 L116.37 512.67 L116.50 512.74 L116.63 512.82 L116.75 512.90 L116.88 512.98 L117.01 513.07 L117.14 513.16 L117.27 513.25 L117.40 513.35 L117.52 513.45 L117.65 513.55 L117.78 513.66 L117.91 513.77 L118.04 513.88 L118.16 514.00 L118.29 514.12 L118.42 514.24 L118.55 514.37 L118.68 514.50 L118.81 514.63 L118.93 514.77 L119.06 514.91 L119.19 515.05 L119.32 515.19 L119.45 515.34 L119.58 515.50 L119.70 515.68 L119.83 515.89 L119.96 516.11 L120.09 516.35 L120.22 516.61 L120.34 516.88 L120.47 517.15 L120.60 517.44 L120.73 517.73 L120.86 518.03 L120.99 518.33 L121.11 518.62 L121.24 518.92 L121.37 519.21 L121.50 519.49 L121.63 519.79 L121.76 520.10 L121.88 520.43 L122.01 520.76 L122.14 521.12 L122.27 521.48 L122.40 521.85 L122.53 522.22 L122.65 522.60 L122.78 522.98 L122.91 523.37 L123.04 523.75 L123.17 524.13 L123.29 524.51 L123.42 524.89 L123.55 525.25 L123.68 525.61 L123.81 525.96 L123.94 526.30 L124.06 526.62 L124.19 526.93 L124.32 527.22 L124.45 527.50 L124.58 527.75 L124.71 527.98 L124.83 528.19 L124.96 528.38 L125.09 528.54 L125.22 528.67 L125.35 528.88 L125.47 529.13 L125.60 529.39 L125.73 529.63 L125.86 529.84 L125.99 530.03 L126.12 530.18 L126.24 530.28 L126.37 530.35 L126.50 530.36 L126.63 530.34 L126.76 530.29 L126.89 530.22 L127.01 530.13 L127.14 530.05 L127.27 529.98 L127.40 529.93 L127.53 529.92 L127.66 529.95 L127.78 530.03 L127.91 530.17 L128.04 530.36 L128.17 530.61 L128.30 530.92 L128.42 531.29 L128.55 531.71 L128.68 532.18 L128.81 532.69 L128.94 533.23 L129.07 533.79 L129.19 534.35 L129.32 534.89 L129.45 535.40 L129.58 535.86 L129.71 536.25 L129.84 536.57 L129.96 536.80 L130.09 536.95 L130.22 537.01 L130.35 537.00 L130.48 536.92 L130.60 536.79 L130.73 536.62 L130.86 536.43 L130.99 536.23 L131.12 536.03 L131.25 535.84 L131.37 535.67 L131.50 535.53 L131.63 535.43 L131.76 535.35 L131.89 535.32 L132.02 535.32 L132.14 535.36 L132.27 535.44 L132.40 535.56 L132.53 535.72 L132.66 535.92 L132.79 536.16 L132.91 536.43 L133.04 536.73 L133.17 537.06 L133.30 537.43 L133.43 537.81 L133.55 538.22 L133.68 538.65 L133.81 539.10 L133.94 539.56 L134.07 540.03 L134.20 540.51 L134.32 540.98 L134.45 541.45 L134.58 541.91 L134.71 542.35 L134.84 542.75 L134.97 543.11 L135.09 543.41 L135.22 543.64 L135.35 543.80 L135.48 543.88 L135.61 543.85 L135.73 543.74 L135.86 543.54 L135.99 543.28 L136.12 542.97 L136.25 542.65 L136.38 542.33 L136.50 542.03 L136.63 541.77 L136.76 541.56 L136.89 541.42 L137.02 541.33 L137.15 541.31 L137.27 541.36 L137.40 541.45 L137.53 541.60 L137.66 541.79 L137.79 542.02 L137.92 542.30 L138.04 542.60 L138.17 542.94 L138.30 543.31 L138.43 543.71 L138.56 544.13 L138.68 544.58 L138.81 545.05 L138.94 545.53 L139.07 546.04 L139.20 546.55 L139.33 547.07 L139.45 547.60 L139.58 548.12 L139.71 548.64 L139.84 549.15 L139.97 549.62 L140.10 550.07 L140.22 550.47 L140.35 550.81 L140.48 551.07 L140.61 551.26 L140.74 551.36 L140.86 551.36 L140.99 551.27 L141.12 551.10 L141.25 550.86 L141.38 550.56 L141.51 550.22 L141.63 549.86 L141.76 549.48 L141.89 549.11 L142.02 548.76 L142.15 548.42 L142.28 548.12 L142.40 547.86 L142.53 547.65 L142.66 547.48 L142.79 547.35 L142.92 547.28 L143.05 547.26 L143.17 547.29 L143.30 547.37 L143.43 547.49 L143.56 547.66 L143.69 547.88 L143.81 548.14 L143.94 548.44 L144.07 548.78 L144.20 549.16 L144.33 549.59 L144.46 550.05 L144.58 550.55 L144.71 551.08 L144.84 551.64 L144.97 552.24 L145.10 552.86 L145.23 553.51 L145.35 554.17 L145.48 554.84 L145.61 555.50 L145.74 556.15 L145.87 556.77 L145.99 557.34 L146.12 557.85 L146.25 558.26 L146.38 558.57 L146.51 558.76 L146.64 558.81 L146.76 558.72 L146.89 558.50 L147.02 558.17 L147.15 557.74 L147.28 557.24 L147.41 556.69 L147.53 556.13 L147.66 555.56 L147.79 555.02 L147.92 554.50 L148.05 554.03 L148.18 553.60 L148.30 553.24 L148.43 552.93 L148.56 552.68 L148.69 552.49 L148.82 552.37 L148.94 552.30 L149.07 552.29 L149.20 552.34 L149.33 552.44 L149.46 552.58 L149.59 552.78 L149.71 553.01 L149.84 553.29 L149.97 553.61 L150.10 553.96 L150.23 554.35 L150.36 554.78 L150.48 555.24 L150.61 555.73 L150.74 556.27 L150.87 556.83 L151.00 557.43 L151.12 558.07 L151.25 558.74 L151.38 559.44 L151.51 560.18 L151.64 560.94 L151.77 561.73 L151.89 562.53 L152.02 563.33 L152.15 564.12 L152.28 564.87 L152.41 565.55 L152.54 566.12 L152.66 566.55 L152.79 566.81 L152.92 566.84 L153.05 566.63 L153.18 566.17 L153.31 565.49 L153.43 564.64 L153.56 563.70 L153.69 562.72 L153.82 561.76 L153.95 560.85 L154.07 560.03 L154.20 559.32 L154.33 558.71 L154.46 558.22 L154.59 557.84 L154.72 557.57 L154.84 557.39 L154.97 557.31 L155.10 557.30 L155.23 557.36 L155.36 557.47 L155.49 557.63 L155.61 557.82 L155.74 558.05 L155.87 558.32 L156.00 558.61 L156.13 558.93 L156.25 559.27 L156.38 559.64 L156.51 560.03 L156.64 560.43 L156.77 560.86 L156.90 561.30 L157.02 561.77 L157.15 562.24 L157.28 562.74 L157.41 563.26 L157.54 563.79 L157.67 564.34 L157.79 564.92 L157.92 565.51 L158.05 566.12 L158.18 566.76 L158.31 567.41 L158.44 568.09 L158.56 568.78 L158.69 569.48 L158.82 570.19 L158.95 570.91 L159.08 571.60 L159.20 572.27 L159.33 572.88 L159.46 573.42 L159.59 573.85 L159.72 574.14 L159.85 574.26 L159.97 574.18 L160.10 573.90 L160.23 573.41 L160.36 572.74 L160.49 571.94 L160.62 571.05 L160.74 570.12 L160.87 569.18 L161.00 568.27 L161.13 567.41 L161.26 566.61 L161.38 565.89 L161.51 565.25 L161.64 564.69 L161.77 564.23 L161.90 563.85 L162.03 563.55 L162.15 563.33 L162.28 563.20 L162.41 563.13 L162.54 563.13 L162.67 563.19 L162.80 563.31 L162.92 563.48 L163.05 563.69 L163.18 563.96 L163.31 564.27 L163.44 564.62 L163.57 565.02 L163.69 565.47 L163.82 565.95 L163.95 566.48 L164.08 567.06 L164.21 567.68 L164.33 568.35 L164.46 569.07 L164.59 569.83 L164.72 570.65 L164.85 571.53 L164.98 572.45 L165.10 573.44 L165.23 574.47 L165.36 575.56 L165.49 576.68 L165.62 577.83 L165.75 578.98 L165.87 580.10 L166.00 581.13 L166.13 582.01 L166.26 582.65 L166.39 583.00 L166.51 582.99 L166.64 582.62 L166.77 581.93 L166.90 580.99 L167.03 579.89 L167.16 578.69 L167.28 577.47 L167.41 576.27 L167.54 575.12 L167.67 574.04 L167.80 573.04 L167.93 572.12 L168.05 571.29 L168.18 570.55 L168.31 569.90 L168.44 569.33 L168.57 568.85 L168.70 568.45 L168.82 568.12 L168.95 567.87 L169.08 567.69 L169.21 567.57 L169.34 567.53 L169.46 567.55 L169.59 567.62 L169.72 567.76 L169.85 567.95 L169.98 568.20 L170.11 568.50 L170.23 568.85 L170.36 569.26 L170.49 569.73 L170.62 570.25 L170.75 570.82 L170.88 571.46 L171.00 572.16 L171.13 572.92 L171.26 573.74 L171.39 574.64 L171.52 575.62 L171.64 576.67 L171.77 577.80 L171.90 579.03 L172.03 580.34 L172.16 581.75 L172.29 583.24 L172.41 584.81 L172.54 586.44 L172.67 588.06 L172.80 589.61 L172.93 590.95 L173.06 591.93 L173.18 592.39 L173.31 592.25 L173.44 591.55 L173.57 590.41 L173.70 588.99 L173.83 587.45 L173.95 585.89 L174.08 584.38 L174.21 582.95 L174.34 581.61 L174.47 580.38 L174.59 579.26 L174.72 578.24 L174.85 577.33 L174.98 576.51 L175.11 575.78 L175.24 575.13 L175.36 574.57 L175.49 574.09 L175.62 573.68 L175.75 573.34 L175.88 573.07 L176.01 572.87 L176.13 572.73 L176.26 572.65 L176.39 572.63 L176.52 572.67 L176.65 572.76 L176.77 572.91 L176.90 573.11 L177.03 573.37 L177.16 573.69 L177.29 574.06 L177.42 574.49 L177.54 574.98 L177.67 575.53 L177.80 576.15 L177.93 576.83 L178.06 577.58 L178.19 578.40 L178.31 579.31 L178.44 580.29 L178.57 581.37 L178.70 582.55 L178.83 583.83 L178.96 585.22 L179.08 586.74 L179.21 588.39 L179.34 590.17 L179.47 592.07 L179.60 594.08 L179.72 596.13 L179.85 598.10 L179.98 599.78 L180.11 600.90 L180.24 601.21 L180.37 600.64 L180.49 599.36 L180.62 597.65 L180.75 595.77 L180.88 593.88 L181.01 592.06 L181.14 590.37 L181.26 588.80 L181.39 587.37 L181.52 586.06 L181.65 584.88 L181.78 583.80 L181.90 582.83 L182.03 581.95 L182.16 581.16 L182.29 580.45 L182.42 579.82 L182.55 579.26 L182.67 578.78 L182.80 578.35 L182.93 577.99 L183.06 577.69 L183.19 577.45 L183.32 577.26 L183.44 577.13 L183.57 577.06 L183.70 577.03 L183.83 577.07 L183.96 577.15 L184.09 577.29 L184.21 577.49 L184.34 577.74 L184.47 578.05 L184.60 578.41 L184.73 578.84 L184.85 579.32 L184.98 579.87 L185.11 580.49 L185.24 581.19 L185.37 581.95 L185.50 582.80 L185.62 583.74 L185.75 584.77 L185.88 585.91 L186.01 587.16 L186.14 588.53 L186.27 590.05 L186.39 591.72 L186.52 593.56 L186.65 595.60 L186.78 597.84 L186.91 600.29 L187.03 602.91 L187.16 605.58 L187.29 607.99 L187.42 609.62 L187.55 609.95 L187.68 608.86 L187.80 606.81 L187.93 604.37 L188.06 601.89 L188.19 599.55 L188.32 597.41 L188.45 595.48 L188.57 593.74 L188.70 592.18 L188.83 590.78 L188.96 589.52 L189.09 588.39 L189.22 587.38 L189.34 586.47 L189.47 585.66 L189.60 584.93 L189.73 584.28 L189.86 583.71 L189.98 583.22 L190.11 582.79 L190.24 582.42 L190.37 582.12 L190.50 581.87 L190.63 581.68 L190.75 581.55 L190.88 581.48 L191.01 581.45 L191.14 581.49 L191.27 581.57 L191.40 581.71 L191.52 581.91 L191.65 582.16 L191.78 582.47 L191.91 582.84 L192.04 583.26 L192.16 583.75 L192.29 584.31 L192.42 584.93 L192.55 585.62 L192.68 586.39 L192.81 587.24 L192.93 588.17 L193.06 589.20 L193.19 590.33 L193.32 591.57 L193.45 592.93 L193.58 594.42 L193.70 596.07 L193.83 597.87 L193.96 599.85 L194.09 602.01 L194.22 604.33 L194.35 606.76 L194.47 609.17 L194.60 611.27 L194.73 612.62 L194.86 612.83 L194.99 611.85 L195.11 610.04 L195.24 607.85 L195.37 605.59 L195.50 603.41 L195.63 601.40 L195.76 599.56 L195.88 597.89 L196.01 596.39 L196.14 595.03 L196.27 593.81 L196.40 592.71 L196.53 591.72 L196.65 590.83 L196.78 590.03 L196.91 589.31 L197.04 588.68 L197.17 588.12 L197.29 587.63 L197.42 587.20 L197.55 586.84 L197.68 586.54 L197.81 586.29 L197.94 586.10 L198.06 585.97 L198.19 585.89 L198.32 585.86 L198.45 585.89 L198.58 585.97 L198.71 586.10 L198.83 586.28 L198.96 586.52 L199.09 586.81 L199.22 587.16 L199.35 587.56 L199.48 588.03 L199.60 588.55 L199.73 589.14 L199.86 589.80 L199.99 590.52 L200.12 591.32 L200.24 592.20 L200.37 593.17 L200.50 594.22 L200.63 595.37 L200.76 596.62 L200.89 597.98 L201.01 599.45 L201.14 601.03 L201.27 602.73 L201.40 604.52 L201.53 606.36 L201.66 608.19 L201.78 609.88 L201.91 611.23 L202.04 612.04 L202.17 612.15 L202.30 611.55 L202.42 610.39 L202.55 608.87 L202.68 607.19 L202.81 605.48 L202.94 603.82 L203.07 602.25 L203.19 600.79 L203.32 599.44 L203.45 598.21 L203.58 597.08 L203.71 596.05 L203.84 595.11 L203.96 594.27 L204.09 593.50 L204.22 592.82 L204.35 592.20 L204.48 591.66 L204.61 591.18 L204.73 590.77 L204.86 590.41 L204.99 590.12 L205.12 589.88 L205.25 589.69 L205.37 589.56 L205.50 589.48 L205.63 589.46 L205.76 589.48 L205.89 589.56 L206.02 589.69 L206.14 589.87 L206.27 590.10 L206.40 590.39 L206.53 590.73 L206.66 591.13 L206.79 591.59 L206.91 592.11 L207.04 592.69 L207.17 593.33 L207.30 594.04 L207.43 594.81 L207.55 595.66 L207.68 596.58 L207.81 597.57 L207.94 598.64 L208.07 599.78 L208.20 601.00 L208.32 602.28 L208.45 603.62 L208.58 605.00 L208.71 606.39 L208.84 607.74 L208.97 609.00 L209.09 610.07 L209.22 610.87 L209.35 611.32 L209.48 611.39 L209.61 611.07 L209.74 610.43 L209.86 609.55 L209.99 608.51 L210.12 607.38 L210.25 606.23 L210.38 605.08 L210.50 603.98 L210.63 602.92 L210.76 601.93 L210.89 601.00 L211.02 600.14 L211.15 599.35 L211.27 598.61 L211.40 597.94 L211.53 597.33 L211.66 596.77 L211.79 596.27 L211.92 595.82 L212.04 595.42 L212.17 595.07 L212.30 594.77 L212.43 594.51 L212.56 594.29 L212.68 594.12 L212.81 593.99 L212.94 593.89 L213.07 593.84 L213.20 593.83 L213.33 593.86 L213.45 593.93 L213.58 594.03 L213.71 594.17 L213.84 594.35 L213.97 594.57 L214.10 594.82 L214.22 595.11 L214.35 595.43 L214.48 595.79 L214.61 596.19 L214.74 596.62 L214.87 597.09 L214.99 597.60 L215.12 598.15 L215.25 598.74 L215.38 599.37 L215.51 600.04 L215.63 600.75 L215.76 601.51 L215.89 602.32 L216.02 603.16 L216.15 604.05 L216.28 604.98 L216.40 605.93 L216.53 606.91 L216.66 607.90 L216.79 608.86 L216.92 609.78 L217.05 610.61 L217.17 611.32 L217.30 611.84 L217.43 612.14 L217.56 612.18 L217.69 611.96 L217.81 611.48 L217.94 610.77 L218.07 609.89 L218.20 608.89 L218.33 607.83 L218.46 606.75 L218.58 605.69 L218.71 604.67 L218.84 603.70 L218.97 602.81 L219.10 601.99 L219.23 601.25 L219.35 600.59 L219.48 600.01 L219.61 599.50 L219.74 599.08 L219.87 598.72 L220.00 598.44 L220.12 598.22 L220.25 598.07 L220.38 597.98 L220.51 597.95 L220.64 597.96 L220.76 598.03 L220.89 598.13 L221.02 598.28 L221.15 598.47 L221.28 598.70 L221.41 598.96 L221.53 599.25 L221.66 599.58 L221.79 599.94 L221.92 600.33 L222.05 600.76 L222.18 601.21 L222.30 601.69 L222.43 602.19 L222.56 602.73 L222.69 603.29 L222.82 603.88 L222.94 604.48 L223.07 605.11 L223.20 605.76 L223.33 606.43 L223.46 607.10 L223.59 607.78 L223.71 608.45 L223.84 609.12 L223.97 609.75 L224.10 610.35 L224.23 610.89 L224.36 611.36 L224.48 611.74 L224.61 612.01 L224.74 612.17 L224.87 612.19 L225.00 612.08 L225.13 611.84 L225.25 611.50 L225.38 611.05 L225.51 610.53 L225.64 609.96 L225.77 609.34 L225.89 608.71 L226.02 608.07 L226.15 607.45 L226.28 606.83 L226.41 606.25 L226.54 605.69 L226.66 605.17 L226.79 604.69 L226.92 604.25 L227.05 603.85 L227.18 603.50 L227.31 603.19 L227.43 602.92 L227.56 602.69 L227.69 602.51 L227.82 602.37 L227.95 602.27 L228.07 602.21 L228.20 602.20 L228.33 602.22 L228.46 602.27 L228.59 602.37 L228.72 602.50 L228.84 602.66 L228.97 602.86 L229.10 603.10 L229.23 603.36 L229.36 603.66 L229.49 603.99 L229.61 604.35 L229.74 604.74 L229.87 605.16 L230.00 605.61 L230.13 606.08 L230.26 606.58 L230.38 607.09 L230.51 607.63 L230.64 608.18 L230.77 608.74 L230.90 609.30 L231.02 609.85 L231.15 610.39 L231.28 610.91 L231.41 611.40 L231.54 611.83 L231.67 612.21 L231.79 612.51 L231.92 612.73 L232.05 612.86 L232.18 612.90 L232.31 612.83 L232.44 612.67 L232.56 612.43 L232.69 612.10 L232.82 611.71 L232.95 611.27 L233.08 610.80 L233.20 610.30 L233.33 609.80 L233.46 609.30 L233.59 608.81 L233.72 608.33 L233.85 607.89 L233.97 607.47 L234.10 607.09 L234.23 606.75 L234.36 606.45 L234.49 606.18 L234.62 605.96 L234.74 605.78 L234.87 605.64 L235.00 605.53 L235.13 605.47 L235.26 605.45 L235.39 605.47 L235.51 605.52 L235.64 605.61 L235.77 605.73 L235.90 605.89 L236.03 606.08 L236.15 606.31 L236.28 606.56 L236.41 606.85 L236.54 607.17 L236.67 607.51 L236.80 607.88 L236.92 608.27 L237.05 608.68 L237.18 609.12 L237.31 609.56 L237.44 610.02 L237.57 610.48 L237.69 610.94 L237.82 611.40 L237.95 611.85 L238.08 612.28 L238.21 612.68 L238.33 613.05 L238.46 613.38 L238.59 613.67 L238.72 613.90 L238.85 614.09 L238.98 614.22 L239.10 614.29 L239.23 614.30 L239.36 614.27 L239.49 614.18 L239.62 614.06 L239.75 613.90 L239.87 613.71 L240.00 613.49 L240.13 613.25 L240.26 613.00 L240.39 612.74 L240.52 612.48 L240.64 612.21 L240.77 611.95 L240.90 611.68 L241.03 611.43 L241.16 611.18 L241.28 610.94 L241.41 610.71 L241.54 610.50 L241.67 610.30 L241.80 610.11 L241.93 609.93 L242.05 609.77 L242.18 609.63 L242.31 609.50 L242.44 609.39 L242.57 609.30 L242.70 609.23 L242.82 609.17 L242.95 609.14 L243.08 609.12 L243.21 609.13 L243.34 609.15 L243.46 609.20 L243.59 609.27 L243.72 609.36 L243.85 609.47 L243.98 609.61 L244.11 609.77 L244.23 609.96 L244.36 610.17 L244.49 610.40 L244.62 610.65 L244.75 610.92 L244.88 611.20 L245.00 611.51 L245.13 611.83 L245.26 612.16 L245.39 612.50 L245.52 612.84 L245.65 613.19 L245.77 613.53 L245.90 613.87 L246.03 614.19 L246.16 614.49 L246.29 614.78 L246.41 615.03 L246.54 615.26 L246.67 615.45 L246.80 615.60 L246.93 615.71 L247.06 615.78 L247.18 615.81 L247.31 615.81 L247.44 615.76 L247.57 615.68 L247.70 615.57 L247.83 615.43 L247.95 615.27 L248.08 615.08 L248.21 614.89 L248.34 614.68 L248.47 614.46 L248.59 614.25 L248.72 614.03 L248.85 613.82 L248.98 613.62 L249.11 613.42 L249.24 613.24 L249.36 613.07 L249.49 612.92 L249.62 612.78 L249.75 612.66 L249.88 612.56 L250.01 612.48 L250.13 612.42 L250.26 612.38 L250.39 612.35 L250.52 612.35 L250.65 612.37 L250.78 612.41 L250.90 612.46 L251.03 612.54 L251.16 612.64 L251.29 612.75 L251.42 612.89 L251.54 613.04 L251.67 613.21 L251.80 613.39 L251.93 613.59 L252.06 613.80 L252.19 614.03 L252.31 614.26 L252.44 614.50 L252.57 614.74 L252.70 614.99 L252.83 615.24 L252.96 615.48 L253.08 615.72 L253.21 615.94 L253.34 616.16 L253.47 616.36 L253.60 616.54 L253.72 616.70 L253.85 616.85 L253.98 616.97 L254.11 617.06 L254.24 617.14 L254.37 617.19 L254.49 617.22 L254.62 617.22 L254.75 617.21 L254.88 617.18 L255.01 617.13 L255.14 617.07 L255.26 616.99 L255.39 616.90 L255.52 616.81 L255.65 616.71 L255.78 616.60 L255.91 616.48 L256.03 616.37 L256.16 616.25 L256.29 616.13 L256.42 616.02 L256.55 615.90 L256.67 615.79 L256.80 615.68 L256.93 615.58 L257.06 615.48 L257.19 615.39 L257.32 615.30 L257.44 615.22 L257.57 615.15 L257.70 615.09 L257.83 615.04 L257.96 614.99 L258.09 614.96 L258.21 614.94 L258.34 614.93 L258.47 614.93 L258.60 614.94 L258.73 614.96 L258.85 615.00 L258.98 615.05 L259.11 615.12 L259.24 615.19 L259.37 615.29 L259.50 615.39 L259.62 615.51 L259.75 615.65 L259.88 615.79 L260.01 615.95 L260.14 616.11 L260.27 616.29 L260.39 616.47 L260.52 616.65 L260.65 616.84 L260.78 617.03 L260.91 617.22 L261.04 617.41 L261.16 617.59 L261.29 617.76 L261.42 617.92 L261.55 618.07 L261.68 618.21 L261.80 618.33 L261.93 618.44 L262.06 618.52 L262.19 618.60 L262.32 618.65 L262.45 618.69 L262.57 618.71 L262.70 618.72 L262.83 618.71 L262.96 618.69 L263.09 618.65 L263.22 618.61 L263.34 618.56 L263.47 618.50 L263.60 618.43 L263.73 618.36 L263.86 618.29 L263.98 618.22 L264.11 618.14 L264.24 618.07 L264.37 618.00 L264.50 617.93 L264.63 617.87 L264.75 617.82 L264.88 617.77 L265.01 617.72 L265.14 617.69 L265.27 617.66 L265.40 617.64 L265.52 617.63 L265.65 617.62 L265.78 617.63 L265.91 617.64 L266.04 617.67 L266.17 617.70 L266.29 617.74 L266.42 617.79 L266.55 617.85 L266.68 617.91 L266.81 617.99 L266.93 618.07 L267.06 618.16 L267.19 618.25 L267.32 618.36 L267.45 618.46 L267.58 618.57 L267.70 618.68 L267.83 618.80 L267.96 618.91 L268.09 619.03 L268.22 619.14 L268.35 619.26 L268.47 619.37 L268.60 619.47 L268.73 619.57 L268.86 619.67 L268.99 619.76 L269.11 619.84 L269.24 619.91 L269.37 619.97 L269.50 620.02 L269.63 620.06 L269.76 620.09 L269.88 620.11 L270.01 620.12 L270.14 620.13 L270.27 620.12 L270.40 620.10 L270.53 620.08 L270.65 620.05 L270.78 620.01 L270.91 619.97 L271.04 619.92 L271.17 619.87 L271.30 619.82 L271.42 619.77 L271.55 619.71 L271.68 619.66 L271.81 619.61 L271.94 619.56 L272.06 619.51 L272.19 619.47 L272.32 619.43 L272.45 619.40 L272.58 619.37 L272.71 619.35 L272.83 619.34 L272.96 619.34 L273.09 619.34 L273.22 619.35 L273.35 619.37 L273.48 619.40 L273.60 619.44 L273.73 619.48 L273.86 619.53 L273.99 619.59 L274.12 619.66 L274.24 619.73 L274.37 619.81 L274.50 619.90 L274.63 619.99 L274.76 620.08 L274.89 620.17 L275.01 620.27 L275.14 620.37 L275.27 620.46 L275.40 620.56 L275.53 620.65 L275.66 620.73 L275.78 620.82 L275.91 620.90 L276.04 620.97 L276.17 621.03 L276.30 621.09 L276.43 621.14 L276.55 621.19 L276.68 621.22 L276.81 621.25 L276.94 621.27 L277.07 621.29 L277.19 621.30 L277.32 621.30 L277.45 621.30 L277.58 621.30 L277.71 621.29 L277.84 621.28 L277.96 621.27 L278.09 621.26 L278.22 621.25 L278.35 621.23 L278.48 621.22 L278.61 621.21 L278.73 621.21 L278.86 621.20 L278.99 621.20 L279.12 621.21 L279.25 621.21 L279.37 621.22 L279.50 621.23 L279.63 621.25 L279.76 621.27 L279.89 621.29 L280.02 621.31 L280.14 621.33 L280.27 621.36 L280.40 621.39 L280.53 621.42 L280.66 621.44 L280.79 621.47 L280.91 621.50 L281.04 621.53 L281.17 621.55 L281.30 621.58 L281.43 621.60 L281.56 621.62 L281.68 621.65 L281.81 621.67 L281.94 621.69 L282.07 621.72 L282.20 621.74 L282.32 621.76 L282.45 621.78 L282.58 621.81 L282.71 621.83 L282.84 621.85 L282.97 621.87 L283.09 621.89 L283.22 621.91 L283.35 621.94 L283.48 621.96 L283.61 621.98 L283.74 622.00 L283.86 622.02 L283.99 622.04 L284.12 622.06 L284.25 622.08 L284.38 622.10 L284.50 622.12 L284.63 622.14 L284.76 622.16 L284.89 622.18 L285.02 622.20 L285.15 622.22 L285.27 622.24 L285.40 622.26 L285.53 622.28 L285.66 622.30 L285.79 622.32 L285.92 622.33 L286.04 622.35 L286.17 622.37 L286.30 622.39 L286.43 622.41 L286.56 622.43 L286.69 622.44 L286.81 622.46 L286.94 622.48 L287.07 622.50 L287.20 622.52 L287.33 622.53 L287.45 622.55 L287.58 622.57 L287.71 622.58 L287.84 622.60 L287.97 622.62 L288.10 622.63 L288.22 622.65 L288.35 622.67 L288.48 622.68 L288.61 622.70 L288.74 622.72 L288.87 622.73 L288.99 622.75 L289.12 622.76 L289.25 622.78 L289.38 622.80 L289.51 622.81 L289.63 622.83 L289.76 622.84 L289.89 622.86 L290.02 622.87 L290.15 622.89 L290.28 622.90 L290.40 622.92 L290.53 622.93 L290.66 622.95 L290.79 622.96 L290.92 622.98 L291.05 622.99 L291.17 623.01 L291.30 623.02 L291.43 623.03 L291.56 623.05 L291.69 623.06 L291.82 623.08 L291.94 623.09 L292.07 623.10 L292.20 623.12 L292.33 623.13 L292.46 623.14 L292.58 623.16 L292.71 623.17 L292.84 623.18 L292.97 623.20 L293.10 623.21 L293.23 623.22 L293.35 623.24 L293.48 623.25 L293.61 623.26 L293.74 623.27 L293.87 623.29 L294.00 623.30 L294.12 623.31 L294.25 623.33 L294.38 623.34 L294.51 623.35 L294.64 623.36 L294.76 623.37 L294.89 623.39 L295.02 623.40 L295.15 623.41 L295.28 623.42 L295.41 623.43 L295.53 623.45 L295.66 623.46 L295.79 623.47 L295.92 623.48 L296.05 623.49 L296.18 623.50 L296.30 623.52 L296.43 623.53 L296.56 623.54 L296.69 623.55 L296.82 623.56 L296.95 623.57 L297.07 623.58 L297.20 623.59 L297.33 623.60 L297.46 623.61 L297.59 623.62 L297.71 623.63 L297.84 623.64 L297.97 623.65 L298.10 623.66 L298.23 623.67 L298.36 623.68 L298.48 623.69 L298.61 623.70 L298.74 623.71 L298.87 623.72 L299.00 623.73 L299.13 623.74 L299.25 623.74 L299.38 623.75 L299.51 623.76 L299.64 623.77 L299.77 623.78 L299.89 623.79 L300.02 623.80 L300.15 623.80 L300.28 623.81 L300.41 623.82 L300.54 623.83 L300.66 623.84 L300.79 623.85 L300.92 623.85 L301.05 623.86 L301.18 623.87 L301.31 623.88 L301.43 623.89 L301.56 623.89 L301.69 623.90 L301.82 623.91 L301.95 623.92 L302.08 623.92 L302.20 623.93 L302.33 623.94 L302.46 623.95 L302.59 623.96 L302.72 623.96 L302.84 623.97 L302.97 623.98 L303.10 623.99 L303.23 623.99 L303.36 624.00 L303.49 624.01 L303.61 624.02 L303.74 624.02 L303.87 624.03 L304.00 624.04 L304.13 624.05 L304.26 624.05 L304.38 624.06 L304.51 624.07 L304.64 624.08 L304.77 624.08 L304.90 624.09 L305.02 624.10 L305.15 624.11 L305.28 624.11 L305.41 624.12 L305.54 624.13 L305.67 624.14 L305.79 624.15 L305.92 624.15 L306.05 624.16 L306.18 624.17 L306.31 624.18 L306.44 624.19 L306.56 624.19 L306.69 624.20 L306.82 624.21 L306.95 624.22 L307.08 624.23 L307.21 624.23 L307.33 624.24 L307.46 624.25 L307.59 624.26 L307.72 624.27 L307.85 624.28 L307.97 624.29 L308.10 624.30 L308.23 624.30 L308.36 624.31 L308.49 624.32 L308.62 624.33 L308.74 624.34 L308.87 624.35 L309.00 624.36 L309.13 624.37 L309.26 624.38 L309.39 624.39 L309.51 624.40 L309.64 624.41 L309.77 624.42 L309.90 624.43 L310.03 624.44 L310.15 624.45 L310.28 624.46 L310.41 624.47 L310.54 624.48 L310.67 624.50 L310.80 624.51 L310.92 624.52 L311.05 624.53 L311.18 624.54 L311.31 624.55 L311.44 624.56 L311.57 624.58 L311.69 624.59 L311.82 624.60 L311.95 624.61 L312.08 624.63 L312.21 624.64 L312.34 624.65 L312.46 624.66 L312.59 624.68 L312.72 624.69 L312.85 624.70 L312.98 624.72 L313.10 624.73 L313.23 624.74 L313.36 624.76 L313.49 624.77 L313.62 624.79 L313.75 624.80 L313.87 624.81 L314.00 624.83 L314.13 624.84 L314.26 624.86 L314.39 624.87 L314.52 624.89 L314.64 624.90 L314.77 624.91 L314.90 624.93 L315.03 624.94 L315.16 624.96 L315.28 624.97 L315.41 624.99 L315.54 625.00 L315.67 625.02 L315.80 625.03 L315.93 625.05 L316.05 625.07 L316.18 625.08 L316.31 625.10 L316.44 625.11 L316.57 625.13 L316.70 625.14 L316.82 625.16 L316.95 625.17 L317.08 625.19 L317.21 625.21 L317.34 625.22 L317.47 625.24 L317.59 625.25 L317.72 625.27 L317.85 625.28 L317.98 625.30" stroke="#ff0000" stroke-width="2.4" stroke-linejoin="round" fill="none"/>
<rect x="497.5" y="18.2" width="168.8" height="168.2" fill="none" stroke="#000" stroke-width="1.2"/>
<line x1="521.61" y1="186.4" x2="521.61" y2="176.9" stroke="#000" stroke-width="1.1"/>
<line x1="521.61" y1="18.2" x2="521.61" y2="27.7" stroke="#000" stroke-width="1.1"/>
<line x1="545.73" y1="186.4" x2="545.73" y2="181.4" stroke="#000" stroke-width="1.1"/>
<line x1="545.73" y1="18.2" x2="545.73" y2="23.2" stroke="#000" stroke-width="1.1"/>
<line x1="569.84" y1="186.4" x2="569.84" y2="176.9" stroke="#000" stroke-width="1.1"/>
<line x1="569.84" y1="18.2" x2="569.84" y2="27.7" stroke="#000" stroke-width="1.1"/>
<line x1="593.96" y1="186.4" x2="593.96" y2="181.4" stroke="#000" stroke-width="1.1"/>
<line x1="593.96" y1="18.2" x2="593.96" y2="23.2" stroke="#000" stroke-width="1.1"/>
<line x1="618.07" y1="186.4" x2="618.07" y2="176.9" stroke="#000" stroke-width="1.1"/>
<line x1="618.07" y1="18.2" x2="618.07" y2="27.7" stroke="#000" stroke-width="1.1"/>
<line x1="642.19" y1="186.4" x2="642.19" y2="181.4" stroke="#000" stroke-width="1.1"/>
<line x1="642.19" y1="18.2" x2="642.19" y2="23.2" stroke="#000" stroke-width="1.1"/>
<line x1="666.3" y1="186.4" x2="666.3" y2="176.9" stroke="#000" stroke-width="1.1"/>
<line x1="666.3" y1="18.2" x2="666.3" y2="27.7" stroke="#000" stroke-width="1.1"/>
<line x1="497.5" y1="158.37" x2="502.5" y2="158.37" stroke="#000" stroke-width="1.1"/>
<line x1="666.3" y1="158.37" x2="661.3" y2="158.37" stroke="#000" stroke-width="1.1"/>
<line x1="497.5" y1="130.33" x2="507" y2="130.33" stroke="#000" stroke-width="1.1"/>
<line x1="666.3" y1="130.33" x2="656.8" y2="130.33" stroke="#000" stroke-width="1.1"/>
<line x1="497.5" y1="102.3" x2="502.5" y2="102.3" stroke="#000" stroke-width="1.1"/>
<line x1="666.3" y1="102.3" x2="661.3" y2="102.3" stroke="#000" stroke-width="1.1"/>
<line x1="497.5" y1="74.27" x2="507" y2="74.27" stroke="#000" stroke-width="1.1"/>
<line x1="666.3" y1="74.27" x2="656.8" y2="74.27" stroke="#000" stroke-width="1.1"/>
<line x1="497.5" y1="46.23" x2="502.5" y2="46.23" stroke="#000" stroke-width="1.1"/>
<line x1="666.3" y1="46.23" x2="661.3" y2="46.23" stroke="#000" stroke-width="1.1"/>
<text transform="translate(521.61,213.9) scale(1,1.05)" text-anchor="middle" font-size="20">0</text>
<text transform="translate(569.84,213.9) scale(1,1.05)" text-anchor="middle" font-size="20">20</text>
<text transform="translate(618.07,213.9) scale(1,1.05)" text-anchor="middle" font-size="20">40</text>
<text transform="translate(666.3,213.9) scale(1,1.05)" text-anchor="middle" font-size="20">60</text>
<text transform="translate(485.8,192.5) scale(1,1.05)" text-anchor="end" font-size="20">0</text>
<text transform="translate(485.8,136.43) scale(1,1.05)" text-anchor="end" font-size="20">2</text>
<text transform="translate(485.8,80.37) scale(1,1.05)" text-anchor="end" font-size="20">4</text>
<text transform="translate(485.8,24.3) scale(1,1.05)" text-anchor="end" font-size="20">6</text>
<text transform="translate(582,240.4) scale(1,1.05)" text-anchor="middle" font-size="20">Depth (nm)</text>
<text transform="translate(452.2,98.8) rotate(-90)" text-anchor="middle" font-size="20">SLD (r<tspan dy="6" font-size="13.5">e</tspan><tspan dy="-6">/Å</tspan><tspan dy="-8" font-size="13.5">3</tspan><tspan dy="8">)</tspan></text>
<text transform="translate(433,16.2) scale(1,1.05)" text-anchor="start" font-size="20">(b)</text>
<text transform="translate(511.5,46.6) scale(1,1.05)" text-anchor="start" font-size="20">350<tspan dy="-6.8" font-size="14.5">o</tspan><tspan dy="6.8">C</tspan></text>
<path d="M517.51 163.69 L517.64 163.69 L517.76 163.69 L517.88 163.69 L518.00 163.69 L518.12 163.69 L518.24 163.69 L518.36 163.69 L518.48 163.68 L518.60 163.67 L518.72 163.66 L518.84 163.64 L518.96 163.61 L519.08 163.55 L519.20 163.47 L519.32 163.35 L519.44 163.17 L519.56 162.91 L519.69 162.54 L519.81 162.04 L519.93 161.35 L520.05 160.43 L520.17 159.23 L520.29 157.71 L520.41 155.79 L520.53 153.45 L520.65 150.64 L520.77 147.33 L520.89 143.51 L521.01 139.19 L521.13 134.41 L521.25 129.22 L521.37 123.71 L521.49 117.97 L521.61 112.11 L521.73 106.25 L521.86 100.51 L521.98 95.00 L522.10 89.81 L522.22 85.03 L522.34 80.72 L522.46 76.90 L522.58 73.59 L522.70 70.77 L522.82 68.43 L522.94 66.52 L523.06 64.99 L523.18 63.79 L523.30 62.88 L523.42 62.19 L523.54 61.68 L523.66 61.31 L523.78 61.05 L523.91 60.87 L524.03 60.75 L524.15 60.67 L524.27 60.62 L524.39 60.58 L524.51 60.56 L524.63 60.55 L524.75 60.54 L524.87 60.54 L524.99 60.53 L525.11 60.53 L525.23 60.53 L525.35 60.53 L525.47 60.53 L525.59 60.53 L525.71 60.53 L525.83 60.53 L525.95 60.53 L526.08 60.53 L526.20 60.53 L526.32 60.53 L526.44 60.53 L526.56 60.53 L526.68 60.53 L526.80 60.53 L526.92 60.53 L527.04 60.53 L527.16 60.54 L527.28 60.54 L527.40 60.54 L527.52 60.55 L527.64 60.55 L527.76 60.56 L527.88 60.57 L528.00 60.58 L528.13 60.60 L528.25 60.62 L528.37 60.65 L528.49 60.69 L528.61 60.73 L528.73 60.79 L528.85 60.86 L528.97 60.94 L529.09 61.04 L529.21 61.16 L529.33 61.30 L529.45 61.47 L529.57 61.67 L529.69 61.90 L529.81 62.17 L529.93 62.47 L530.05 62.81 L530.17 63.19 L530.30 63.62 L530.42 64.09 L530.54 64.60 L530.66 65.16 L530.78 65.77 L530.90 66.41 L531.02 67.10 L531.14 67.81 L531.26 68.56 L531.38 69.33 L531.50 70.13 L531.62 70.93 L531.74 71.74 L531.86 72.56 L531.98 73.36 L532.10 74.15 L532.22 74.93 L532.35 75.67 L532.47 76.39 L532.59 77.08 L532.71 77.72 L532.83 78.32 L532.95 78.88 L533.07 79.40 L533.19 79.87 L533.31 80.30 L533.43 80.68 L533.55 81.02 L533.67 81.32 L533.79 81.59 L533.91 81.82 L534.03 82.01 L534.15 82.18 L534.27 82.33 L534.39 82.45 L534.52 82.55 L534.64 82.63 L534.76 82.70 L534.88 82.75 L535.00 82.80 L535.12 82.83 L535.24 82.86 L535.36 82.89 L535.48 82.90 L535.60 82.92 L535.72 82.93 L535.84 82.93 L535.96 82.94 L536.08 82.95 L536.20 82.95 L536.32 82.95 L536.44 82.95 L536.57 82.95 L536.69 82.95 L536.81 82.96 L536.93 82.96 L537.05 82.96 L537.17 82.96 L537.29 82.96 L537.41 82.96 L537.53 82.96 L537.65 82.96 L537.77 82.96 L537.89 82.96 L538.01 82.96 L538.13 82.96 L538.25 82.96 L538.37 82.96 L538.49 82.96 L538.61 82.96 L538.74 82.96 L538.86 82.96 L538.98 82.96 L539.10 82.96 L539.22 82.96 L539.34 82.96 L539.46 82.96 L539.58 82.96 L539.70 82.96 L539.82 82.96 L539.94 82.96 L540.06 82.96 L540.18 82.96 L540.30 82.96 L540.42 82.96 L540.54 82.96 L540.66 82.96 L540.79 82.96 L540.91 82.96 L541.03 82.96 L541.15 82.96 L541.27 82.96 L541.39 82.96 L541.51 82.96 L541.63 82.96 L541.75 82.96 L541.87 82.96 L541.99 82.96 L542.11 82.96 L542.23 82.96 L542.35 82.96 L542.47 82.96 L542.59 82.96 L542.71 82.96 L542.83 82.96 L542.96 82.96 L543.08 82.96 L543.20 82.96 L543.32 82.96 L543.44 82.96 L543.56 82.96 L543.68 82.96 L543.80 82.96 L543.92 82.96 L544.04 82.96 L544.16 82.96 L544.28 82.96 L544.40 82.96 L544.52 82.96 L544.64 82.96 L544.76 82.96 L544.88 82.96 L545.01 82.96 L545.13 82.96 L545.25 82.96 L545.37 82.96 L545.49 82.96 L545.61 82.96 L545.73 82.96 L545.85 82.96 L545.97 82.96 L546.09 82.96 L546.21 82.96 L546.33 82.96 L546.45 82.96 L546.57 82.96 L546.69 82.96 L546.81 82.96 L546.93 82.96 L547.05 82.96 L547.18 82.96 L547.30 82.96 L547.42 82.96 L547.54 82.96 L547.66 82.96 L547.78 82.96 L547.90 82.96 L548.02 82.96 L548.14 82.96 L548.26 82.96 L548.38 82.96 L548.50 82.96 L548.62 82.96 L548.74 82.96 L548.86 82.96 L548.98 82.96 L549.10 82.96 L549.23 82.96 L549.35 82.96 L549.47 82.96 L549.59 82.96 L549.71 82.96 L549.83 82.96 L549.95 82.96 L550.07 82.96 L550.19 82.96 L550.31 82.96 L550.43 82.96 L550.55 82.96 L550.67 82.96 L550.79 82.96 L550.91 82.96 L551.03 82.96 L551.15 82.96 L551.27 82.96 L551.40 82.96 L551.52 82.96 L551.64 82.96 L551.76 82.96 L551.88 82.96 L552.00 82.96 L552.12 82.96 L552.24 82.96 L552.36 82.96 L552.48 82.96 L552.60 82.96 L552.72 82.96 L552.84 82.96 L552.96 82.96 L553.08 82.96 L553.20 82.96 L553.32 82.96 L553.45 82.96 L553.57 82.96 L553.69 82.96 L553.81 82.96 L553.93 82.96 L554.05 82.96 L554.17 82.96 L554.29 82.96 L554.41 82.96 L554.53 82.96 L554.65 82.96 L554.77 82.96 L554.89 82.96 L555.01 82.96 L555.13 82.96 L555.25 82.96 L555.37 82.96 L555.49 82.96 L555.62 82.96 L555.74 82.96 L555.86 82.96 L555.98 82.96 L556.10 82.96 L556.22 82.96 L556.34 82.96 L556.46 82.96 L556.58 82.96 L556.70 82.96 L556.82 82.96 L556.94 82.96 L557.06 82.96 L557.18 82.96 L557.30 82.96 L557.42 82.96 L557.54 82.96 L557.67 82.96 L557.79 82.96 L557.91 82.96 L558.03 82.96 L558.15 82.96 L558.27 82.96 L558.39 82.96 L558.51 82.96 L558.63 82.96 L558.75 82.96 L558.87 82.96 L558.99 82.96 L559.11 82.96 L559.23 82.96 L559.35 82.96 L559.47 82.96 L559.59 82.96 L559.71 82.96 L559.84 82.96 L559.96 82.96 L560.08 82.96 L560.20 82.96 L560.32 82.96 L560.44 82.96 L560.56 82.96 L560.68 82.96 L560.80 82.96 L560.92 82.96 L561.04 82.96 L561.16 82.96 L561.28 82.96 L561.40 82.96 L561.52 82.96 L561.64 82.96 L561.76 82.96 L561.89 82.96 L562.01 82.96 L562.13 82.96 L562.25 82.96 L562.37 82.96 L562.49 82.96 L562.61 82.96 L562.73 82.96 L562.85 82.96 L562.97 82.96 L563.09 82.96 L563.21 82.96 L563.33 82.96 L563.45 82.96 L563.57 82.96 L563.69 82.96 L563.81 82.96 L563.93 82.96 L564.06 82.96 L564.18 82.96 L564.30 82.96 L564.42 82.96 L564.54 82.96 L564.66 82.96 L564.78 82.96 L564.90 82.96 L565.02 82.96 L565.14 82.96 L565.26 82.96 L565.38 82.96 L565.50 82.96 L565.62 82.96 L565.74 82.96 L565.86 82.96 L565.98 82.96 L566.11 82.96 L566.23 82.96 L566.35 82.96 L566.47 82.96 L566.59 82.96 L566.71 82.96 L566.83 82.96 L566.95 82.96 L567.07 82.96 L567.19 82.96 L567.31 82.96 L567.43 82.96 L567.55 82.96 L567.67 82.96 L567.79 82.96 L567.91 82.96 L568.03 82.96 L568.15 82.96 L568.28 82.96 L568.40 82.96 L568.52 82.96 L568.64 82.96 L568.76 82.96 L568.88 82.96 L569.00 82.96 L569.12 82.96 L569.24 82.96 L569.36 82.96 L569.48 82.96 L569.60 82.96 L569.72 82.96 L569.84 82.96 L569.96 82.96 L570.08 82.96 L570.20 82.96 L570.33 82.96 L570.45 82.96 L570.57 82.96 L570.69 82.96 L570.81 82.96 L570.93 82.96 L571.05 82.96 L571.17 82.96 L571.29 82.96 L571.41 82.96 L571.53 82.96 L571.65 82.96 L571.77 82.96 L571.89 82.96 L572.01 82.96 L572.13 82.96 L572.25 82.96 L572.37 82.96 L572.50 82.96 L572.62 82.96 L572.74 82.96 L572.86 82.96 L572.98 82.96 L573.10 82.96 L573.22 82.96 L573.34 82.96 L573.46 82.96 L573.58 82.96 L573.70 82.96 L573.82 82.96 L573.94 82.96 L574.06 82.96 L574.18 82.96 L574.30 82.96 L574.42 82.96 L574.55 82.96 L574.67 82.96 L574.79 82.96 L574.91 82.96 L575.03 82.96 L575.15 82.96 L575.27 82.96 L575.39 82.96 L575.51 82.96 L575.63 82.96 L575.75 82.96 L575.87 82.96 L575.99 82.96 L576.11 82.96 L576.23 82.96 L576.35 82.96 L576.47 82.96 L576.59 82.96 L576.72 82.96 L576.84 82.96 L576.96 82.96 L577.08 82.96 L577.20 82.96 L577.32 82.96 L577.44 82.96 L577.56 82.96 L577.68 82.96 L577.80 82.96 L577.92 82.96 L578.04 82.96 L578.16 82.96 L578.28 82.96 L578.40 82.96 L578.52 82.96 L578.64 82.96 L578.77 82.96 L578.89 82.96 L579.01 82.96 L579.13 82.96 L579.25 82.96 L579.37 82.96 L579.49 82.96 L579.61 82.96 L579.73 82.96 L579.85 82.96 L579.97 82.96 L580.09 82.96 L580.21 82.96 L580.33 82.96 L580.45 82.96 L580.57 82.96 L580.69 82.96 L580.81 82.96 L580.94 82.96 L581.06 82.96 L581.18 82.96 L581.30 82.96 L581.42 82.96 L581.54 82.96 L581.66 82.96 L581.78 82.96 L581.90 82.96 L582.02 82.96 L582.14 82.96 L582.26 82.96 L582.38 82.96 L582.50 82.96 L582.62 82.96 L582.74 82.96 L582.86 82.96 L582.99 82.96 L583.11 82.96 L583.23 82.96 L583.35 82.96 L583.47 82.96 L583.59 82.96 L583.71 82.96 L583.83 82.96 L583.95 82.96 L584.07 82.96 L584.19 82.96 L584.31 82.96 L584.43 82.96 L584.55 82.96 L584.67 82.96 L584.79 82.96 L584.91 82.96 L585.03 82.96 L585.16 82.96 L585.28 82.96 L585.40 82.96 L585.52 82.96 L585.64 82.96 L585.76 82.96 L585.88 82.96 L586.00 82.96 L586.12 82.96 L586.24 82.96 L586.36 82.96 L586.48 82.96 L586.60 82.96 L586.72 82.96 L586.84 82.96 L586.96 82.96 L587.08 82.96 L587.21 82.96 L587.33 82.96 L587.45 82.96 L587.57 82.96 L587.69 82.96 L587.81 82.96 L587.93 82.96 L588.05 82.96 L588.17 82.96 L588.29 82.96 L588.41 82.96 L588.53 82.96 L588.65 82.96 L588.77 82.96 L588.89 82.96 L589.01 82.96 L589.13 82.96 L589.25 82.96 L589.38 82.96 L589.50 82.96 L589.62 82.96 L589.74 82.96 L589.86 82.96 L589.98 82.96 L590.10 82.96 L590.22 82.96 L590.34 82.96 L590.46 82.96 L590.58 82.96 L590.70 82.96 L590.82 82.96 L590.94 82.96 L591.06 82.96 L591.18 82.96 L591.30 82.96 L591.43 82.96 L591.55 82.96 L591.67 82.96 L591.79 82.96 L591.91 82.96 L592.03 82.96 L592.15 82.96 L592.27 82.96 L592.39 82.96 L592.51 82.96 L592.63 82.96 L592.75 82.96 L592.87 82.96 L592.99 82.96 L593.11 82.96 L593.23 82.96 L593.35 82.96 L593.47 82.96 L593.60 82.96 L593.72 82.96 L593.84 82.96 L593.96 82.96 L594.08 82.96 L594.20 82.96 L594.32 82.96 L594.44 82.96 L594.56 82.96 L594.68 82.96 L594.80 82.96 L594.92 82.96 L595.04 82.96 L595.16 82.96 L595.28 82.96 L595.40 82.96 L595.52 82.96 L595.65 82.96 L595.77 82.96 L595.89 82.96 L596.01 82.96 L596.13 82.96 L596.25 82.96 L596.37 82.96 L596.49 82.96 L596.61 82.96 L596.73 82.96 L596.85 82.96 L596.97 82.96 L597.09 82.96 L597.21 82.96 L597.33 82.96 L597.45 82.96 L597.57 82.96 L597.69 82.96 L597.82 82.96 L597.94 82.96 L598.06 82.96 L598.18 82.96 L598.30 82.96 L598.42 82.96 L598.54 82.96 L598.66 82.96 L598.78 82.96 L598.90 82.96 L599.02 82.96 L599.14 82.96 L599.26 82.96 L599.38 82.96 L599.50 82.96 L599.62 82.96 L599.74 82.96 L599.87 82.96 L599.99 82.96 L600.11 82.96 L600.23 82.96 L600.35 82.96 L600.47 82.96 L600.59 82.96 L600.71 82.96 L600.83 82.96 L600.95 82.96 L601.07 82.96 L601.19 82.96 L601.31 82.96 L601.43 82.96 L601.55 82.96 L601.67 82.96 L601.79 82.96 L601.91 82.96 L602.04 82.96 L602.16 82.96 L602.28 82.96 L602.40 82.96 L602.52 82.96 L602.64 82.96 L602.76 82.96 L602.88 82.96 L603.00 82.96 L603.12 82.96 L603.24 82.96 L603.36 82.96 L603.48 82.96 L603.60 82.96 L603.72 82.96 L603.84 82.96 L603.96 82.96 L604.09 82.96 L604.21 82.96 L604.33 82.96 L604.45 82.96 L604.57 82.96 L604.69 82.96 L604.81 82.96 L604.93 82.96 L605.05 82.96 L605.17 82.96 L605.29 82.96 L605.41 82.95 L605.53 82.95 L605.65 82.95 L605.77 82.95 L605.89 82.95 L606.01 82.95 L606.13 82.95 L606.26 82.95 L606.38 82.95 L606.50 82.95 L606.62 82.95 L606.74 82.95 L606.86 82.95 L606.98 82.95 L607.10 82.95 L607.22 82.95 L607.34 82.95 L607.46 82.95 L607.58 82.95 L607.70 82.95 L607.82 82.95 L607.94 82.95 L608.06 82.94 L608.18 82.94 L608.31 82.94 L608.43 82.94 L608.55 82.94 L608.67 82.94 L608.79 82.94 L608.91 82.93 L609.03 82.93 L609.15 82.93 L609.27 82.93 L609.39 82.93 L609.51 82.92 L609.63 82.92 L609.75 82.92 L609.87 82.92 L609.99 82.91 L610.11 82.91 L610.23 82.91 L610.35 82.90 L610.48 82.90 L610.60 82.89 L610.72 82.89 L610.84 82.89 L610.96 82.88 L611.08 82.87 L611.20 82.87 L611.32 82.86 L611.44 82.86 L611.56 82.85 L611.68 82.84 L611.80 82.83 L611.92 82.82 L612.04 82.82 L612.16 82.81 L612.28 82.80 L612.40 82.78 L612.53 82.77 L612.65 82.76 L612.77 82.75 L612.89 82.73 L613.01 82.72 L613.13 82.70 L613.25 82.69 L613.37 82.67 L613.49 82.65 L613.61 82.63 L613.73 82.61 L613.85 82.59 L613.97 82.57 L614.09 82.55 L614.21 82.52 L614.33 82.50 L614.45 82.47 L614.57 82.44 L614.70 82.41 L614.82 82.38 L614.94 82.34 L615.06 82.31 L615.18 82.27 L615.30 82.23 L615.42 82.19 L615.54 82.15 L615.66 82.10 L615.78 82.05 L615.90 82.00 L616.02 81.95 L616.14 81.90 L616.26 81.84 L616.38 81.78 L616.50 81.72 L616.62 81.65 L616.75 81.58 L616.87 81.51 L616.99 81.44 L617.11 81.36 L617.23 81.28 L617.35 81.20 L617.47 81.11 L617.59 81.02 L617.71 80.93 L617.83 80.83 L617.95 80.72 L618.07 80.62 L618.19 80.51 L618.31 80.39 L618.43 80.27 L618.55 80.15 L618.67 80.02 L618.79 79.89 L618.92 79.75 L619.04 79.61 L619.16 79.46 L619.28 79.31 L619.40 79.15 L619.52 78.99 L619.64 78.82 L619.76 78.64 L619.88 78.46 L620.00 78.27 L620.12 78.08 L620.24 77.88 L620.36 77.68 L620.48 77.47 L620.60 77.25 L620.72 77.03 L620.84 76.80 L620.97 76.56 L621.09 76.32 L621.21 76.07 L621.33 75.82 L621.45 75.55 L621.57 75.28 L621.69 75.01 L621.81 74.72 L621.93 74.43 L622.05 74.13 L622.17 73.83 L622.29 73.51 L622.41 73.19 L622.53 72.86 L622.65 72.53 L622.77 72.19 L622.89 71.84 L623.01 71.48 L623.14 71.12 L623.26 70.74 L623.38 70.37 L623.50 69.98 L623.62 69.59 L623.74 69.19 L623.86 68.78 L623.98 68.36 L624.10 67.94 L624.22 67.51 L624.34 67.07 L624.46 66.63 L624.58 66.18 L624.70 65.72 L624.82 65.26 L624.94 64.79 L625.06 64.32 L625.19 63.83 L625.31 63.35 L625.43 62.85 L625.55 62.35 L625.67 61.85 L625.79 61.33 L625.91 60.82 L626.03 60.30 L626.15 59.77 L626.27 59.24 L626.39 58.70 L626.51 58.16 L626.63 57.62 L626.75 57.07 L626.87 56.51 L626.99 55.96 L627.11 55.40 L627.23 54.84 L627.36 54.27 L627.48 53.71 L627.60 53.14 L627.72 52.57 L627.84 52.00 L627.96 51.44 L628.08 50.87 L628.20 50.30 L628.32 49.74 L628.44 49.19 L628.56 48.64 L628.68 48.10 L628.80 47.57 L628.92 47.05 L629.04 46.55 L629.16 46.08 L629.28 45.62 L629.41 45.20 L629.53 44.82 L629.65 44.48 L629.77 44.19 L629.89 43.96 L630.01 43.79 L630.13 43.71 L630.25 43.72 L630.37 43.82 L630.49 44.04 L630.61 44.39 L630.73 44.88 L630.85 45.53 L630.97 46.35 L631.09 47.35 L631.21 48.54 L631.33 49.95 L631.45 51.58 L631.58 53.45 L631.70 55.55 L631.82 57.90 L631.94 60.51 L632.06 63.37 L632.18 66.48 L632.30 69.84 L632.42 73.44 L632.54 77.27 L632.66 81.32 L632.78 85.56 L632.90 89.98 L633.02 94.55 L633.14 99.25 L633.26 104.05 L633.38 108.91 L633.50 113.82 L633.63 118.73 L633.75 123.62 L633.87 128.45 L633.99 133.20 L634.11 137.83 L634.23 142.33 L634.35 146.66 L634.47 150.81 L634.59 154.76 L634.71 158.50 L634.83 162.01 L634.95 165.28 L635.07 168.31 L635.19 171.11 L635.31 173.66 L635.43 175.98 L635.55 178.07 L635.67 179.93 L635.80 181.59 L635.92 183.05 L636.04 184.32 L636.16 185.43 L636.28 186.37 L636.40 187.16 L636.52 187.83 L636.64 188.38 L636.76 188.82 L636.88 189.18 L637.00 189.45 L637.12 189.65 L637.24 189.79 L637.36 189.88 L637.48 189.93 L637.60 189.94 L637.72 189.93 L637.85 189.88 L637.97 189.82 L638.09 189.75 L638.21 189.66 L638.33 189.57 L638.45 189.47 L638.57 189.36 L638.69 189.25 L638.81 189.15 L638.93 189.04 L639.05 188.93 L639.17 188.82 L639.29 188.72 L639.41 188.62 L639.53 188.52 L639.65 188.42 L639.77 188.33" stroke="#000" stroke-width="2.0" stroke-linejoin="round" fill="none"/>
<rect x="497.5" y="253.6" width="168.8" height="168.6" fill="none" stroke="#000" stroke-width="1.2"/>
<line x1="521.61" y1="422.2" x2="521.61" y2="412.7" stroke="#000" stroke-width="1.1"/>
<line x1="521.61" y1="253.6" x2="521.61" y2="263.1" stroke="#000" stroke-width="1.1"/>
<line x1="545.73" y1="422.2" x2="545.73" y2="417.2" stroke="#000" stroke-width="1.1"/>
<line x1="545.73" y1="253.6" x2="545.73" y2="258.6" stroke="#000" stroke-width="1.1"/>
<line x1="569.84" y1="422.2" x2="569.84" y2="412.7" stroke="#000" stroke-width="1.1"/>
<line x1="569.84" y1="253.6" x2="569.84" y2="263.1" stroke="#000" stroke-width="1.1"/>
<line x1="593.96" y1="422.2" x2="593.96" y2="417.2" stroke="#000" stroke-width="1.1"/>
<line x1="593.96" y1="253.6" x2="593.96" y2="258.6" stroke="#000" stroke-width="1.1"/>
<line x1="618.07" y1="422.2" x2="618.07" y2="412.7" stroke="#000" stroke-width="1.1"/>
<line x1="618.07" y1="253.6" x2="618.07" y2="263.1" stroke="#000" stroke-width="1.1"/>
<line x1="642.19" y1="422.2" x2="642.19" y2="417.2" stroke="#000" stroke-width="1.1"/>
<line x1="642.19" y1="253.6" x2="642.19" y2="258.6" stroke="#000" stroke-width="1.1"/>
<line x1="666.3" y1="422.2" x2="666.3" y2="412.7" stroke="#000" stroke-width="1.1"/>
<line x1="666.3" y1="253.6" x2="666.3" y2="263.1" stroke="#000" stroke-width="1.1"/>
<line x1="497.5" y1="394.1" x2="502.5" y2="394.1" stroke="#000" stroke-width="1.1"/>
<line x1="666.3" y1="394.1" x2="661.3" y2="394.1" stroke="#000" stroke-width="1.1"/>
<line x1="497.5" y1="366" x2="507" y2="366" stroke="#000" stroke-width="1.1"/>
<line x1="666.3" y1="366" x2="656.8" y2="366" stroke="#000" stroke-width="1.1"/>
<line x1="497.5" y1="337.9" x2="502.5" y2="337.9" stroke="#000" stroke-width="1.1"/>
<line x1="666.3" y1="337.9" x2="661.3" y2="337.9" stroke="#000" stroke-width="1.1"/>
<line x1="497.5" y1="309.8" x2="507" y2="309.8" stroke="#000" stroke-width="1.1"/>
<line x1="666.3" y1="309.8" x2="656.8" y2="309.8" stroke="#000" stroke-width="1.1"/>
<line x1="497.5" y1="281.7" x2="502.5" y2="281.7" stroke="#000" stroke-width="1.1"/>
<line x1="666.3" y1="281.7" x2="661.3" y2="281.7" stroke="#000" stroke-width="1.1"/>
<text transform="translate(521.61,449.7) scale(1,1.05)" text-anchor="middle" font-size="20">0</text>
<text transform="translate(569.84,449.7) scale(1,1.05)" text-anchor="middle" font-size="20">20</text>
<text transform="translate(618.07,449.7) scale(1,1.05)" text-anchor="middle" font-size="20">40</text>
<text transform="translate(666.3,449.7) scale(1,1.05)" text-anchor="middle" font-size="20">60</text>
<text transform="translate(485.8,428.3) scale(1,1.05)" text-anchor="end" font-size="20">0</text>
<text transform="translate(485.8,372.1) scale(1,1.05)" text-anchor="end" font-size="20">2</text>
<text transform="translate(485.8,315.9) scale(1,1.05)" text-anchor="end" font-size="20">4</text>
<text transform="translate(485.8,259.7) scale(1,1.05)" text-anchor="end" font-size="20">6</text>
<text transform="translate(582,476.2) scale(1,1.05)" text-anchor="middle" font-size="20">Depth (nm)</text>
<text transform="translate(452.2,334.4) rotate(-90)" text-anchor="middle" font-size="20">SLD (r<tspan dy="6" font-size="13.5">e</tspan><tspan dy="-6">/Å</tspan><tspan dy="-8" font-size="13.5">3</tspan><tspan dy="8">)</tspan></text>
<text transform="translate(433,248.1) scale(1,1.05)" text-anchor="start" font-size="20">(d)</text>
<text transform="translate(511.5,281.4) scale(1,1.05)" text-anchor="start" font-size="20">650<tspan dy="-6.8" font-size="14.5">o</tspan><tspan dy="6.8">C</tspan></text>
<path d="M514.14 398.60 L514.26 398.59 L514.38 398.59 L514.50 398.59 L514.62 398.59 L514.74 398.59 L514.86 398.59 L514.98 398.59 L515.10 398.59 L515.22 398.58 L515.34 398.58 L515.47 398.58 L515.59 398.57 L515.71 398.56 L515.83 398.55 L515.95 398.54 L516.07 398.52 L516.19 398.50 L516.31 398.48 L516.43 398.45 L516.55 398.41 L516.67 398.36 L516.79 398.31 L516.91 398.24 L517.03 398.15 L517.15 398.05 L517.27 397.93 L517.39 397.79 L517.51 397.62 L517.64 397.42 L517.76 397.19 L517.88 396.92 L518.00 396.61 L518.12 396.25 L518.24 395.83 L518.36 395.36 L518.48 394.82 L518.60 394.21 L518.72 393.52 L518.84 392.76 L518.96 391.91 L519.08 390.96 L519.20 389.92 L519.32 388.78 L519.44 387.54 L519.56 386.19 L519.69 384.73 L519.81 383.17 L519.93 381.50 L520.05 379.72 L520.17 377.84 L520.29 375.86 L520.41 373.79 L520.53 371.63 L520.65 369.40 L520.77 367.09 L520.89 364.73 L521.01 362.31 L521.13 359.86 L521.25 357.39 L521.37 354.90 L521.49 352.41 L521.61 349.94 L521.73 347.49 L521.86 345.07 L521.98 342.71 L522.10 340.40 L522.22 338.17 L522.34 336.01 L522.46 333.94 L522.58 331.96 L522.70 330.08 L522.82 328.31 L522.94 326.63 L523.06 325.07 L523.18 323.61 L523.30 322.26 L523.42 321.02 L523.54 319.88 L523.66 318.84 L523.78 317.90 L523.91 317.04 L524.03 316.28 L524.15 315.59 L524.27 314.98 L524.39 314.44 L524.51 313.97 L524.63 313.56 L524.75 313.19 L524.87 312.88 L524.99 312.61 L525.11 312.38 L525.23 312.18 L525.35 312.01 L525.47 311.87 L525.59 311.75 L525.71 311.65 L525.83 311.56 L525.95 311.50 L526.08 311.44 L526.20 311.39 L526.32 311.35 L526.44 311.32 L526.56 311.30 L526.68 311.28 L526.80 311.26 L526.92 311.25 L527.04 311.24 L527.16 311.23 L527.28 311.23 L527.40 311.22 L527.52 311.22 L527.64 311.21 L527.76 311.21 L527.88 311.21 L528.00 311.21 L528.13 311.21 L528.25 311.21 L528.37 311.21 L528.49 311.21 L528.61 311.21 L528.73 311.21 L528.85 311.21 L528.97 311.21 L529.09 311.21 L529.21 311.21 L529.33 311.21 L529.45 311.21 L529.57 311.21 L529.69 311.21 L529.81 311.21 L529.93 311.21 L530.05 311.21 L530.17 311.21 L530.30 311.21 L530.42 311.21 L530.54 311.21 L530.66 311.21 L530.78 311.21 L530.90 311.21 L531.02 311.21 L531.14 311.21 L531.26 311.21 L531.38 311.21 L531.50 311.21 L531.62 311.21 L531.74 311.21 L531.86 311.21 L531.98 311.21 L532.10 311.21 L532.22 311.21 L532.35 311.21 L532.47 311.21 L532.59 311.21 L532.71 311.21 L532.83 311.21 L532.95 311.21 L533.07 311.21 L533.19 311.21 L533.31 311.21 L533.43 311.21 L533.55 311.21 L533.67 311.21 L533.79 311.21 L533.91 311.21 L534.03 311.21 L534.15 311.21 L534.27 311.21 L534.39 311.21 L534.52 311.21 L534.64 311.21 L534.76 311.21 L534.88 311.21 L535.00 311.20 L535.12 311.20 L535.24 311.20 L535.36 311.20 L535.48 311.20 L535.60 311.20 L535.72 311.20 L535.84 311.20 L535.96 311.20 L536.08 311.20 L536.20 311.20 L536.32 311.20 L536.44 311.20 L536.57 311.20 L536.69 311.20 L536.81 311.20 L536.93 311.20 L537.05 311.20 L537.17 311.20 L537.29 311.20 L537.41 311.20 L537.53 311.20 L537.65 311.20 L537.77 311.20 L537.89 311.20 L538.01 311.20 L538.13 311.20 L538.25 311.20 L538.37 311.20 L538.49 311.20 L538.61 311.20 L538.74 311.20 L538.86 311.20 L538.98 311.20 L539.10 311.20 L539.22 311.20 L539.34 311.20 L539.46 311.20 L539.58 311.20 L539.70 311.20 L539.82 311.20 L539.94 311.20 L540.06 311.20 L540.18 311.20 L540.30 311.20 L540.42 311.20 L540.54 311.20 L540.66 311.20 L540.79 311.20 L540.91 311.20 L541.03 311.20 L541.15 311.20 L541.27 311.20 L541.39 311.20 L541.51 311.20 L541.63 311.20 L541.75 311.20 L541.87 311.20 L541.99 311.20 L542.11 311.20 L542.23 311.20 L542.35 311.20 L542.47 311.20 L542.59 311.20 L542.71 311.20 L542.83 311.20 L542.96 311.20 L543.08 311.20 L543.20 311.20 L543.32 311.20 L543.44 311.20 L543.56 311.20 L543.68 311.20 L543.80 311.20 L543.92 311.20 L544.04 311.20 L544.16 311.20 L544.28 311.20 L544.40 311.20 L544.52 311.20 L544.64 311.20 L544.76 311.20 L544.88 311.20 L545.01 311.20 L545.13 311.20 L545.25 311.20 L545.37 311.20 L545.49 311.20 L545.61 311.20 L545.73 311.20 L545.85 311.20 L545.97 311.20 L546.09 311.20 L546.21 311.20 L546.33 311.20 L546.45 311.20 L546.57 311.20 L546.69 311.20 L546.81 311.20 L546.93 311.20 L547.05 311.20 L547.18 311.20 L547.30 311.20 L547.42 311.20 L547.54 311.20 L547.66 311.20 L547.78 311.20 L547.90 311.20 L548.02 311.20 L548.14 311.20 L548.26 311.20 L548.38 311.20 L548.50 311.20 L548.62 311.20 L548.74 311.20 L548.86 311.20 L548.98 311.20 L549.10 311.20 L549.23 311.20 L549.35 311.20 L549.47 311.20 L549.59 311.20 L549.71 311.20 L549.83 311.20 L549.95 311.20 L550.07 311.20 L550.19 311.20 L550.31 311.20 L550.43 311.20 L550.55 311.20 L550.67 311.20 L550.79 311.20 L550.91 311.20 L551.03 311.20 L551.15 311.20 L551.27 311.20 L551.40 311.20 L551.52 311.20 L551.64 311.20 L551.76 311.20 L551.88 311.20 L552.00 311.20 L552.12 311.20 L552.24 311.20 L552.36 311.20 L552.48 311.20 L552.60 311.20 L552.72 311.20 L552.84 311.20 L552.96 311.20 L553.08 311.20 L553.20 311.20 L553.32 311.20 L553.45 311.20 L553.57 311.20 L553.69 311.20 L553.81 311.20 L553.93 311.20 L554.05 311.20 L554.17 311.20 L554.29 311.20 L554.41 311.20 L554.53 311.20 L554.65 311.20 L554.77 311.20 L554.89 311.20 L555.01 311.20 L555.13 311.20 L555.25 311.20 L555.37 311.20 L555.49 311.20 L555.62 311.20 L555.74 311.20 L555.86 311.20 L555.98 311.20 L556.10 311.20 L556.22 311.20 L556.34 311.20 L556.46 311.20 L556.58 311.20 L556.70 311.20 L556.82 311.20 L556.94 311.20 L557.06 311.20 L557.18 311.20 L557.30 311.20 L557.42 311.20 L557.54 311.20 L557.67 311.20 L557.79 311.20 L557.91 311.20 L558.03 311.20 L558.15 311.20 L558.27 311.20 L558.39 311.20 L558.51 311.20 L558.63 311.20 L558.75 311.20 L558.87 311.20 L558.99 311.20 L559.11 311.20 L559.23 311.20 L559.35 311.20 L559.47 311.20 L559.59 311.20 L559.71 311.20 L559.84 311.20 L559.96 311.20 L560.08 311.20 L560.20 311.20 L560.32 311.20 L560.44 311.20 L560.56 311.20 L560.68 311.20 L560.80 311.20 L560.92 311.20 L561.04 311.20 L561.16 311.20 L561.28 311.20 L561.40 311.20 L561.52 311.20 L561.64 311.20 L561.76 311.20 L561.89 311.20 L562.01 311.20 L562.13 311.20 L562.25 311.20 L562.37 311.20 L562.49 311.20 L562.61 311.20 L562.73 311.20 L562.85 311.20 L562.97 311.20 L563.09 311.20 L563.21 311.20 L563.33 311.20 L563.45 311.20 L563.57 311.20 L563.69 311.20 L563.81 311.20 L563.93 311.20 L564.06 311.20 L564.18 311.20 L564.30 311.20 L564.42 311.20 L564.54 311.20 L564.66 311.20 L564.78 311.20 L564.90 311.20 L565.02 311.20 L565.14 311.20 L565.26 311.20 L565.38 311.20 L565.50 311.20 L565.62 311.20 L565.74 311.20 L565.86 311.20 L565.98 311.20 L566.11 311.20 L566.23 311.20 L566.35 311.20 L566.47 311.20 L566.59 311.20 L566.71 311.20 L566.83 311.20 L566.95 311.20 L567.07 311.20 L567.19 311.20 L567.31 311.20 L567.43 311.20 L567.55 311.20 L567.67 311.20 L567.79 311.20 L567.91 311.20 L568.03 311.20 L568.15 311.20 L568.28 311.20 L568.40 311.20 L568.52 311.20 L568.64 311.20 L568.76 311.20 L568.88 311.20 L569.00 311.20 L569.12 311.20 L569.24 311.20 L569.36 311.20 L569.48 311.20 L569.60 311.20 L569.72 311.20 L569.84 311.20 L569.96 311.20 L570.08 311.20 L570.20 311.20 L570.33 311.20 L570.45 311.20 L570.57 311.20 L570.69 311.20 L570.81 311.20 L570.93 311.20 L571.05 311.20 L571.17 311.20 L571.29 311.20 L571.41 311.20 L571.53 311.20 L571.65 311.20 L571.77 311.20 L571.89 311.20 L572.01 311.20 L572.13 311.20 L572.25 311.20 L572.37 311.20 L572.50 311.20 L572.62 311.20 L572.74 311.20 L572.86 311.20 L572.98 311.20 L573.10 311.20 L573.22 311.20 L573.34 311.20 L573.46 311.20 L573.58 311.20 L573.70 311.20 L573.82 311.20 L573.94 311.20 L574.06 311.20 L574.18 311.20 L574.30 311.20 L574.42 311.20 L574.55 311.20 L574.67 311.20 L574.79 311.20 L574.91 311.20 L575.03 311.20 L575.15 311.20 L575.27 311.20 L575.39 311.20 L575.51 311.20 L575.63 311.20 L575.75 311.20 L575.87 311.20 L575.99 311.20 L576.11 311.20 L576.23 311.20 L576.35 311.20 L576.47 311.20 L576.59 311.20 L576.72 311.20 L576.84 311.20 L576.96 311.20 L577.08 311.20 L577.20 311.20 L577.32 311.20 L577.44 311.20 L577.56 311.20 L577.68 311.20 L577.80 311.20 L577.92 311.20 L578.04 311.20 L578.16 311.20 L578.28 311.20 L578.40 311.20 L578.52 311.20 L578.64 311.20 L578.77 311.20 L578.89 311.20 L579.01 311.20 L579.13 311.20 L579.25 311.20 L579.37 311.20 L579.49 311.20 L579.61 311.20 L579.73 311.20 L579.85 311.20 L579.97 311.20 L580.09 311.20 L580.21 311.20 L580.33 311.20 L580.45 311.20 L580.57 311.20 L580.69 311.20 L580.81 311.20 L580.94 311.20 L581.06 311.20 L581.18 311.20 L581.30 311.20 L581.42 311.20 L581.54 311.20 L581.66 311.20 L581.78 311.20 L581.90 311.20 L582.02 311.20 L582.14 311.20 L582.26 311.20 L582.38 311.20 L582.50 311.20 L582.62 311.20 L582.74 311.20 L582.86 311.20 L582.99 311.20 L583.11 311.20 L583.23 311.20 L583.35 311.20 L583.47 311.20 L583.59 311.20 L583.71 311.20 L583.83 311.20 L583.95 311.20 L584.07 311.20 L584.19 311.20 L584.31 311.20 L584.43 311.20 L584.55 311.20 L584.67 311.20 L584.79 311.20 L584.91 311.20 L585.03 311.20 L585.16 311.20 L585.28 311.20 L585.40 311.20 L585.52 311.20 L585.64 311.20 L585.76 311.20 L585.88 311.20 L586.00 311.20 L586.12 311.20 L586.24 311.20 L586.36 311.20 L586.48 311.20 L586.60 311.20 L586.72 311.20 L586.84 311.20 L586.96 311.20 L587.08 311.20 L587.21 311.20 L587.33 311.20 L587.45 311.20 L587.57 311.20 L587.69 311.20 L587.81 311.20 L587.93 311.20 L588.05 311.20 L588.17 311.20 L588.29 311.20 L588.41 311.20 L588.53 311.20 L588.65 311.20 L588.77 311.20 L588.89 311.20 L589.01 311.20 L589.13 311.20 L589.25 311.20 L589.38 311.20 L589.50 311.20 L589.62 311.20 L589.74 311.20 L589.86 311.20 L589.98 311.20 L590.10 311.20 L590.22 311.20 L590.34 311.20 L590.46 311.20 L590.58 311.20 L590.70 311.20 L590.82 311.20 L590.94 311.20 L591.06 311.20 L591.18 311.20 L591.30 311.20 L591.43 311.20 L591.55 311.20 L591.67 311.20 L591.79 311.20 L591.91 311.20 L592.03 311.20 L592.15 311.20 L592.27 311.20 L592.39 311.20 L592.51 311.20 L592.63 311.20 L592.75 311.20 L592.87 311.20 L592.99 311.20 L593.11 311.20 L593.23 311.20 L593.35 311.20 L593.47 311.20 L593.60 311.20 L593.72 311.20 L593.84 311.20 L593.96 311.20 L594.08 311.20 L594.20 311.20 L594.32 311.20 L594.44 311.20 L594.56 311.20 L594.68 311.20 L594.80 311.20 L594.92 311.20 L595.04 311.20 L595.16 311.20 L595.28 311.20 L595.40 311.20 L595.52 311.20 L595.65 311.20 L595.77 311.20 L595.89 311.20 L596.01 311.20 L596.13 311.20 L596.25 311.20 L596.37 311.20 L596.49 311.20 L596.61 311.20 L596.73 311.20 L596.85 311.20 L596.97 311.20 L597.09 311.20 L597.21 311.20 L597.33 311.20 L597.45 311.20 L597.57 311.20 L597.69 311.20 L597.82 311.20 L597.94 311.20 L598.06 311.20 L598.18 311.20 L598.30 311.20 L598.42 311.20 L598.54 311.20 L598.66 311.20 L598.78 311.20 L598.90 311.20 L599.02 311.20 L599.14 311.20 L599.26 311.20 L599.38 311.20 L599.50 311.20 L599.62 311.20 L599.74 311.20 L599.87 311.20 L599.99 311.20 L600.11 311.20 L600.23 311.20 L600.35 311.20 L600.47 311.20 L600.59 311.20 L600.71 311.20 L600.83 311.20 L600.95 311.20 L601.07 311.20 L601.19 311.20 L601.31 311.20 L601.43 311.20 L601.55 311.20 L601.67 311.20 L601.79 311.20 L601.91 311.20 L602.04 311.20 L602.16 311.20 L602.28 311.20 L602.40 311.20 L602.52 311.20 L602.64 311.20 L602.76 311.20 L602.88 311.20 L603.00 311.20 L603.12 311.20 L603.24 311.20 L603.36 311.20 L603.48 311.20 L603.60 311.20 L603.72 311.20 L603.84 311.20 L603.96 311.20 L604.09 311.20 L604.21 311.20 L604.33 311.20 L604.45 311.20 L604.57 311.20 L604.69 311.20 L604.81 311.20 L604.93 311.20 L605.05 311.20 L605.17 311.20 L605.29 311.20 L605.41 311.20 L605.53 311.20 L605.65 311.20 L605.77 311.20 L605.89 311.20 L606.01 311.20 L606.13 311.20 L606.26 311.20 L606.38 311.20 L606.50 311.20 L606.62 311.20 L606.74 311.20 L606.86 311.20 L606.98 311.20 L607.10 311.20 L607.22 311.20 L607.34 311.20 L607.46 311.20 L607.58 311.20 L607.70 311.21 L607.82 311.21 L607.94 311.21 L608.06 311.21 L608.18 311.21 L608.31 311.21 L608.43 311.21 L608.55 311.21 L608.67 311.21 L608.79 311.21 L608.91 311.21 L609.03 311.21 L609.15 311.21 L609.27 311.21 L609.39 311.21 L609.51 311.21 L609.63 311.21 L609.75 311.21 L609.87 311.21 L609.99 311.21 L610.11 311.21 L610.23 311.21 L610.35 311.21 L610.48 311.21 L610.60 311.21 L610.72 311.21 L610.84 311.21 L610.96 311.21 L611.08 311.21 L611.20 311.21 L611.32 311.21 L611.44 311.21 L611.56 311.21 L611.68 311.21 L611.80 311.21 L611.92 311.21 L612.04 311.21 L612.16 311.21 L612.28 311.21 L612.40 311.21 L612.53 311.21 L612.65 311.21 L612.77 311.21 L612.89 311.21 L613.01 311.21 L613.13 311.21 L613.25 311.21 L613.37 311.21 L613.49 311.21 L613.61 311.21 L613.73 311.21 L613.85 311.21 L613.97 311.21 L614.09 311.21 L614.21 311.21 L614.33 311.21 L614.45 311.21 L614.57 311.21 L614.70 311.21 L614.82 311.21 L614.94 311.21 L615.06 311.21 L615.18 311.21 L615.30 311.21 L615.42 311.21 L615.54 311.21 L615.66 311.21 L615.78 311.21 L615.90 311.21 L616.02 311.21 L616.14 311.21 L616.26 311.21 L616.38 311.21 L616.50 311.21 L616.62 311.21 L616.75 311.21 L616.87 311.21 L616.99 311.21 L617.11 311.21 L617.23 311.21 L617.35 311.21 L617.47 311.21 L617.59 311.21 L617.71 311.21 L617.83 311.21 L617.95 311.21 L618.07 311.21 L618.19 311.21 L618.31 311.21 L618.43 311.21 L618.55 311.21 L618.67 311.21 L618.79 311.21 L618.92 311.21 L619.04 311.21 L619.16 311.21 L619.28 311.21 L619.40 311.21 L619.52 311.21 L619.64 311.21 L619.76 311.21 L619.88 311.21 L620.00 311.21 L620.12 311.21 L620.24 311.21 L620.36 311.21 L620.48 311.21 L620.60 311.21 L620.72 311.21 L620.84 311.21 L620.97 311.21 L621.09 311.21 L621.21 311.21 L621.33 311.21 L621.45 311.21 L621.57 311.21 L621.69 311.21 L621.81 311.21 L621.93 311.21 L622.05 311.21 L622.17 311.21 L622.29 311.21 L622.41 311.21 L622.53 311.21 L622.65 311.21 L622.77 311.21 L622.89 311.21 L623.01 311.21 L623.14 311.21 L623.26 311.21 L623.38 311.22 L623.50 311.22 L623.62 311.22 L623.74 311.22 L623.86 311.22 L623.98 311.23 L624.10 311.23 L624.22 311.23 L624.34 311.23 L624.46 311.24 L624.58 311.24 L624.70 311.25 L624.82 311.25 L624.94 311.26 L625.06 311.27 L625.19 311.27 L625.31 311.28 L625.43 311.29 L625.55 311.30 L625.67 311.31 L625.79 311.33 L625.91 311.34 L626.03 311.35 L626.15 311.37 L626.27 311.39 L626.39 311.41 L626.51 311.44 L626.63 311.46 L626.75 311.49 L626.87 311.52 L626.99 311.55 L627.11 311.59 L627.23 311.63 L627.36 311.67 L627.48 311.72 L627.60 311.77 L627.72 311.83 L627.84 311.89 L627.96 311.96 L628.08 312.04 L628.20 312.11 L628.32 312.20 L628.44 312.29 L628.56 312.40 L628.68 312.50 L628.80 312.62 L628.92 312.75 L629.04 312.88 L629.16 313.03 L629.28 313.19 L629.41 313.36 L629.53 313.54 L629.65 313.73 L629.77 313.94 L629.89 314.16 L630.01 314.39 L630.13 314.64 L630.25 314.91 L630.37 315.19 L630.49 315.49 L630.61 315.81 L630.73 316.15 L630.85 316.51 L630.97 316.89 L631.09 317.29 L631.21 317.71 L631.33 318.15 L631.45 318.62 L631.58 319.11 L631.70 319.63 L631.82 320.17 L631.94 320.74 L632.06 321.33 L632.18 321.95 L632.30 322.60 L632.42 323.27 L632.54 323.98 L632.66 324.71 L632.78 325.47 L632.90 326.26 L633.02 327.08 L633.14 327.93 L633.26 328.81 L633.38 329.73 L633.50 330.67 L633.63 331.63 L633.75 332.63 L633.87 333.66 L633.99 334.72 L634.11 335.81 L634.23 336.92 L634.35 338.06 L634.47 339.23 L634.59 340.43 L634.71 341.65 L634.83 342.89 L634.95 344.16 L635.07 345.45 L635.19 346.76 L635.31 348.10 L635.43 349.45 L635.55 350.82 L635.67 352.21 L635.80 353.61 L635.92 355.03 L636.04 356.46 L636.16 357.91 L636.28 359.36 L636.40 360.82 L636.52 362.28 L636.64 363.75 L636.76 365.23 L636.88 366.70 L637.00 368.18 L637.12 369.65 L637.24 371.12 L637.36 372.59 L637.48 374.05 L637.60 375.50 L637.72 376.94 L637.85 378.37 L637.97 379.79 L638.09 381.19 L638.21 382.58 L638.33 383.95 L638.45 385.31 L638.57 386.64 L638.69 387.95 L638.81 389.25 L638.93 390.51 L639.05 391.76 L639.17 392.98 L639.29 394.17 L639.41 395.34 L639.53 396.48 L639.65 397.60 L639.77 398.69 L639.89 399.74 L640.02 400.77 L640.14 401.77 L640.26 402.74 L640.38 403.68 L640.50 404.59 L640.62 405.47 L640.74 406.32 L640.86 407.14 L640.98 407.93 L641.10 408.69 L641.22 409.43 L641.34 410.13 L641.46 410.81 L641.58 411.46 L641.70 412.08 L641.82 412.67 L641.94 413.24 L642.07 413.78 L642.19 414.29 L642.31 414.78 L642.43 415.25 L642.55 415.70 L642.67 416.12 L642.79 416.52 L642.91 416.90 L643.03 417.25 L643.15 417.59 L643.27 417.91 L643.39 418.21 L643.51 418.50 L643.63 418.76 L643.75 419.01 L643.87 419.25 L643.99 419.47 L644.11 419.67 L644.24 419.87 L644.36 420.05 L644.48 420.22 L644.60 420.37 L644.72 420.52 L644.84 420.66 L644.96 420.78 L645.08 420.90 L645.20 421.01 L645.32 421.11 L645.44 421.20 L645.56 421.29 L645.68 421.37 L645.80 421.44 L645.92 421.51 L646.04 421.57 L646.16 421.63 L646.29 421.68 L646.41 421.73 L646.53 421.77 L646.65 421.82 L646.77 421.85 L646.89 421.89 L647.01 421.92 L647.13 421.94 L647.25 421.97 L647.37 421.99 L647.49 422.01 L647.61 422.03 L647.73 422.05 L647.85 422.07 L647.97 422.08 L648.09 422.09 L648.21 422.10 L648.33 422.11 L648.46 422.12 L648.58 422.13 L648.70 422.14 L648.82 422.15 L648.94 422.15 L649.06 422.16 L649.18 422.16 L649.30 422.17 L649.42 422.17 L649.54 422.17 L649.66 422.18 L649.78 422.18 L649.90 422.18 L650.02 422.18 L650.14 422.19 L650.26 422.19 L650.38 422.19 L650.51 422.19 L650.63 422.19 L650.75 422.19 L650.87 422.19 L650.99 422.19 L651.11 422.20 L651.23 422.20 L651.35 422.20 L651.47 422.20 L651.59 422.20 L651.71 422.20 L651.83 422.20 L651.95 422.20 L652.07 422.20 L652.19 422.20 L652.31 422.20 L652.43 422.20 L652.55 422.20 L652.68 422.20 L652.80 422.20 L652.92 422.20 L653.04 422.20 L653.16 422.20 L653.28 422.20 L653.40 422.20 L653.52 422.20" stroke="#000" stroke-width="2.0" stroke-linejoin="round" fill="none"/>
<rect x="497.5" y="488.2" width="168.8" height="168" fill="none" stroke="#000" stroke-width="1.2"/>
<line x1="521.61" y1="656.2" x2="521.61" y2="646.7" stroke="#000" stroke-width="1.1"/>
<line x1="521.61" y1="488.2" x2="521.61" y2="497.7" stroke="#000" stroke-width="1.1"/>
<line x1="545.73" y1="656.2" x2="545.73" y2="651.2" stroke="#000" stroke-width="1.1"/>
<line x1="545.73" y1="488.2" x2="545.73" y2="493.2" stroke="#000" stroke-width="1.1"/>
<line x1="569.84" y1="656.2" x2="569.84" y2="646.7" stroke="#000" stroke-width="1.1"/>
<line x1="569.84" y1="488.2" x2="569.84" y2="497.7" stroke="#000" stroke-width="1.1"/>
<line x1="593.96" y1="656.2" x2="593.96" y2="651.2" stroke="#000" stroke-width="1.1"/>
<line x1="593.96" y1="488.2" x2="593.96" y2="493.2" stroke="#000" stroke-width="1.1"/>
<line x1="618.07" y1="656.2" x2="618.07" y2="646.7" stroke="#000" stroke-width="1.1"/>
<line x1="618.07" y1="488.2" x2="618.07" y2="497.7" stroke="#000" stroke-width="1.1"/>
<line x1="642.19" y1="656.2" x2="642.19" y2="651.2" stroke="#000" stroke-width="1.1"/>
<line x1="642.19" y1="488.2" x2="642.19" y2="493.2" stroke="#000" stroke-width="1.1"/>
<line x1="666.3" y1="656.2" x2="666.3" y2="646.7" stroke="#000" stroke-width="1.1"/>
<line x1="666.3" y1="488.2" x2="666.3" y2="497.7" stroke="#000" stroke-width="1.1"/>
<line x1="497.5" y1="628.2" x2="502.5" y2="628.2" stroke="#000" stroke-width="1.1"/>
<line x1="666.3" y1="628.2" x2="661.3" y2="628.2" stroke="#000" stroke-width="1.1"/>
<line x1="497.5" y1="600.2" x2="507" y2="600.2" stroke="#000" stroke-width="1.1"/>
<line x1="666.3" y1="600.2" x2="656.8" y2="600.2" stroke="#000" stroke-width="1.1"/>
<line x1="497.5" y1="572.2" x2="502.5" y2="572.2" stroke="#000" stroke-width="1.1"/>
<line x1="666.3" y1="572.2" x2="661.3" y2="572.2" stroke="#000" stroke-width="1.1"/>
<line x1="497.5" y1="544.2" x2="507" y2="544.2" stroke="#000" stroke-width="1.1"/>
<line x1="666.3" y1="544.2" x2="656.8" y2="544.2" stroke="#000" stroke-width="1.1"/>
<line x1="497.5" y1="516.2" x2="502.5" y2="516.2" stroke="#000" stroke-width="1.1"/>
<line x1="666.3" y1="516.2" x2="661.3" y2="516.2" stroke="#000" stroke-width="1.1"/>
<text transform="translate(521.61,683.7) scale(1,1.05)" text-anchor="middle" font-size="20">0</text>
<text transform="translate(569.84,683.7) scale(1,1.05)" text-anchor="middle" font-size="20">20</text>
<text transform="translate(618.07,683.7) scale(1,1.05)" text-anchor="middle" font-size="20">40</text>
<text transform="translate(666.3,683.7) scale(1,1.05)" text-anchor="middle" font-size="20">60</text>
<text transform="translate(485.8,662.3) scale(1,1.05)" text-anchor="end" font-size="20">0</text>
<text transform="translate(485.8,606.3) scale(1,1.05)" text-anchor="end" font-size="20">2</text>
<text transform="translate(485.8,550.3) scale(1,1.05)" text-anchor="end" font-size="20">4</text>
<text transform="translate(485.8,494.3) scale(1,1.05)" text-anchor="end" font-size="20">6</text>
<text transform="translate(582,710.2) scale(1,1.05)" text-anchor="middle" font-size="20">Depth (nm)</text>
<text transform="translate(452.2,568.7) rotate(-90)" text-anchor="middle" font-size="20">SLD (r<tspan dy="6" font-size="13.5">e</tspan><tspan dy="-6">/Å</tspan><tspan dy="-8" font-size="13.5">3</tspan><tspan dy="8">)</tspan></text>
<text transform="translate(436.3,487.9) scale(1,1.05)" text-anchor="start" font-size="20">(f)</text>
<text transform="translate(506,514.9) scale(1,1.05)" text-anchor="start" font-size="20">800<tspan dy="-6.8" font-size="14.5">o</tspan><tspan dy="6.8">C</tspan></text>
<path d="M514.14 634.08 L514.26 634.08 L514.38 634.08 L514.50 634.08 L514.62 634.08 L514.74 634.07 L514.86 634.07 L514.98 634.07 L515.10 634.06 L515.22 634.06 L515.34 634.05 L515.47 634.05 L515.59 634.04 L515.71 634.02 L515.83 634.01 L515.95 633.99 L516.07 633.96 L516.19 633.93 L516.31 633.90 L516.43 633.85 L516.55 633.79 L516.67 633.73 L516.79 633.64 L516.91 633.54 L517.03 633.43 L517.15 633.29 L517.27 633.12 L517.39 632.92 L517.51 632.69 L517.64 632.43 L517.76 632.12 L517.88 631.76 L518.00 631.35 L518.12 630.88 L518.24 630.35 L518.36 629.75 L518.48 629.07 L518.60 628.32 L518.72 627.48 L518.84 626.55 L518.96 625.52 L519.08 624.39 L519.20 623.17 L519.32 621.83 L519.44 620.40 L519.56 618.85 L519.69 617.20 L519.81 615.45 L519.93 613.60 L520.05 611.64 L520.17 609.60 L520.29 607.47 L520.41 605.27 L520.53 602.99 L520.65 600.66 L520.77 598.28 L520.89 595.86 L521.01 593.42 L521.13 590.96 L521.25 588.50 L521.37 586.06 L521.49 583.64 L521.61 581.26 L521.73 578.93 L521.86 576.65 L521.98 574.45 L522.10 572.32 L522.22 570.28 L522.34 568.32 L522.46 566.47 L522.58 564.72 L522.70 563.07 L522.82 561.52 L522.94 560.09 L523.06 558.75 L523.18 557.53 L523.30 556.40 L523.42 555.37 L523.54 554.44 L523.66 553.60 L523.78 552.85 L523.91 552.17 L524.03 551.57 L524.15 551.04 L524.27 550.57 L524.39 550.16 L524.51 549.80 L524.63 549.49 L524.75 549.23 L524.87 549.00 L524.99 548.80 L525.11 548.63 L525.23 548.49 L525.35 548.38 L525.47 548.28 L525.59 548.19 L525.71 548.13 L525.83 548.07 L525.95 548.02 L526.08 547.99 L526.20 547.96 L526.32 547.93 L526.44 547.91 L526.56 547.90 L526.68 547.88 L526.80 547.87 L526.92 547.87 L527.04 547.86 L527.16 547.86 L527.28 547.85 L527.40 547.85 L527.52 547.85 L527.64 547.84 L527.76 547.84 L527.88 547.84 L528.00 547.84 L528.13 547.84 L528.25 547.84 L528.37 547.84 L528.49 547.84 L528.61 547.84 L528.73 547.84 L528.85 547.84 L528.97 547.84 L529.09 547.84 L529.21 547.84 L529.33 547.84 L529.45 547.84 L529.57 547.84 L529.69 547.84 L529.81 547.84 L529.93 547.84 L530.05 547.84 L530.17 547.84 L530.30 547.84 L530.42 547.84 L530.54 547.84 L530.66 547.84 L530.78 547.84 L530.90 547.84 L531.02 547.84 L531.14 547.84 L531.26 547.84 L531.38 547.84 L531.50 547.84 L531.62 547.84 L531.74 547.84 L531.86 547.84 L531.98 547.84 L532.10 547.84 L532.22 547.84 L532.35 547.84 L532.47 547.84 L532.59 547.84 L532.71 547.84 L532.83 547.84 L532.95 547.84 L533.07 547.84 L533.19 547.84 L533.31 547.84 L533.43 547.84 L533.55 547.84 L533.67 547.84 L533.79 547.84 L533.91 547.84 L534.03 547.84 L534.15 547.84 L534.27 547.84 L534.39 547.84 L534.52 547.84 L534.64 547.84 L534.76 547.84 L534.88 547.84 L535.00 547.84 L535.12 547.84 L535.24 547.84 L535.36 547.84 L535.48 547.84 L535.60 547.84 L535.72 547.84 L535.84 547.84 L535.96 547.84 L536.08 547.84 L536.20 547.84 L536.32 547.84 L536.44 547.84 L536.57 547.84 L536.69 547.84 L536.81 547.84 L536.93 547.84 L537.05 547.84 L537.17 547.84 L537.29 547.84 L537.41 547.84 L537.53 547.84 L537.65 547.84 L537.77 547.84 L537.89 547.84 L538.01 547.84 L538.13 547.84 L538.25 547.84 L538.37 547.84 L538.49 547.84 L538.61 547.84 L538.74 547.84 L538.86 547.84 L538.98 547.84 L539.10 547.84 L539.22 547.84 L539.34 547.84 L539.46 547.84 L539.58 547.84 L539.70 547.84 L539.82 547.84 L539.94 547.84 L540.06 547.84 L540.18 547.84 L540.30 547.84 L540.42 547.84 L540.54 547.84 L540.66 547.84 L540.79 547.84 L540.91 547.84 L541.03 547.84 L541.15 547.84 L541.27 547.84 L541.39 547.84 L541.51 547.84 L541.63 547.84 L541.75 547.84 L541.87 547.84 L541.99 547.84 L542.11 547.84 L542.23 547.84 L542.35 547.84 L542.47 547.84 L542.59 547.84 L542.71 547.84 L542.83 547.84 L542.96 547.84 L543.08 547.84 L543.20 547.84 L543.32 547.84 L543.44 547.84 L543.56 547.84 L543.68 547.84 L543.80 547.84 L543.92 547.84 L544.04 547.84 L544.16 547.84 L544.28 547.84 L544.40 547.84 L544.52 547.84 L544.64 547.84 L544.76 547.84 L544.88 547.84 L545.01 547.84 L545.13 547.84 L545.25 547.84 L545.37 547.84 L545.49 547.84 L545.61 547.84 L545.73 547.84 L545.85 547.84 L545.97 547.84 L546.09 547.84 L546.21 547.84 L546.33 547.84 L546.45 547.84 L546.57 547.84 L546.69 547.84 L546.81 547.84 L546.93 547.84 L547.05 547.84 L547.18 547.84 L547.30 547.84 L547.42 547.84 L547.54 547.84 L547.66 547.84 L547.78 547.84 L547.90 547.84 L548.02 547.84 L548.14 547.84 L548.26 547.84 L548.38 547.84 L548.50 547.84 L548.62 547.84 L548.74 547.84 L548.86 547.84 L548.98 547.84 L549.10 547.84 L549.23 547.84 L549.35 547.84 L549.47 547.84 L549.59 547.84 L549.71 547.84 L549.83 547.84 L549.95 547.84 L550.07 547.84 L550.19 547.84 L550.31 547.84 L550.43 547.84 L550.55 547.84 L550.67 547.84 L550.79 547.84 L550.91 547.84 L551.03 547.84 L551.15 547.84 L551.27 547.84 L551.40 547.84 L551.52 547.84 L551.64 547.84 L551.76 547.84 L551.88 547.84 L552.00 547.84 L552.12 547.84 L552.24 547.84 L552.36 547.84 L552.48 547.84 L552.60 547.84 L552.72 547.84 L552.84 547.84 L552.96 547.84 L553.08 547.84 L553.20 547.84 L553.32 547.84 L553.45 547.84 L553.57 547.84 L553.69 547.84 L553.81 547.84 L553.93 547.84 L554.05 547.84 L554.17 547.84 L554.29 547.84 L554.41 547.84 L554.53 547.84 L554.65 547.84 L554.77 547.84 L554.89 547.84 L555.01 547.84 L555.13 547.84 L555.25 547.84 L555.37 547.84 L555.49 547.84 L555.62 547.84 L555.74 547.84 L555.86 547.84 L555.98 547.84 L556.10 547.84 L556.22 547.84 L556.34 547.84 L556.46 547.84 L556.58 547.84 L556.70 547.84 L556.82 547.84 L556.94 547.84 L557.06 547.84 L557.18 547.84 L557.30 547.84 L557.42 547.84 L557.54 547.84 L557.67 547.84 L557.79 547.84 L557.91 547.84 L558.03 547.84 L558.15 547.84 L558.27 547.84 L558.39 547.84 L558.51 547.84 L558.63 547.84 L558.75 547.84 L558.87 547.84 L558.99 547.84 L559.11 547.84 L559.23 547.84 L559.35 547.84 L559.47 547.84 L559.59 547.84 L559.71 547.84 L559.84 547.84 L559.96 547.84 L560.08 547.84 L560.20 547.84 L560.32 547.84 L560.44 547.84 L560.56 547.84 L560.68 547.84 L560.80 547.84 L560.92 547.84 L561.04 547.84 L561.16 547.84 L561.28 547.84 L561.40 547.84 L561.52 547.84 L561.64 547.84 L561.76 547.84 L561.89 547.84 L562.01 547.84 L562.13 547.84 L562.25 547.84 L562.37 547.84 L562.49 547.84 L562.61 547.84 L562.73 547.84 L562.85 547.84 L562.97 547.84 L563.09 547.84 L563.21 547.84 L563.33 547.84 L563.45 547.84 L563.57 547.84 L563.69 547.84 L563.81 547.84 L563.93 547.84 L564.06 547.84 L564.18 547.84 L564.30 547.84 L564.42 547.84 L564.54 547.84 L564.66 547.84 L564.78 547.84 L564.90 547.84 L565.02 547.84 L565.14 547.84 L565.26 547.84 L565.38 547.84 L565.50 547.84 L565.62 547.84 L565.74 547.84 L565.86 547.84 L565.98 547.84 L566.11 547.84 L566.23 547.84 L566.35 547.84 L566.47 547.84 L566.59 547.84 L566.71 547.84 L566.83 547.84 L566.95 547.84 L567.07 547.84 L567.19 547.84 L567.31 547.84 L567.43 547.84 L567.55 547.84 L567.67 547.84 L567.79 547.84 L567.91 547.84 L568.03 547.84 L568.15 547.84 L568.28 547.84 L568.40 547.84 L568.52 547.84 L568.64 547.84 L568.76 547.84 L568.88 547.84 L569.00 547.84 L569.12 547.84 L569.24 547.84 L569.36 547.84 L569.48 547.84 L569.60 547.84 L569.72 547.84 L569.84 547.84 L569.96 547.84 L570.08 547.84 L570.20 547.84 L570.33 547.84 L570.45 547.84 L570.57 547.84 L570.69 547.84 L570.81 547.84 L570.93 547.84 L571.05 547.84 L571.17 547.84 L571.29 547.84 L571.41 547.84 L571.53 547.84 L571.65 547.84 L571.77 547.84 L571.89 547.84 L572.01 547.84 L572.13 547.84 L572.25 547.84 L572.37 547.84 L572.50 547.84 L572.62 547.84 L572.74 547.84 L572.86 547.84 L572.98 547.84 L573.10 547.84 L573.22 547.84 L573.34 547.84 L573.46 547.84 L573.58 547.84 L573.70 547.84 L573.82 547.84 L573.94 547.84 L574.06 547.84 L574.18 547.84 L574.30 547.84 L574.42 547.84 L574.55 547.84 L574.67 547.84 L574.79 547.84 L574.91 547.84 L575.03 547.84 L575.15 547.84 L575.27 547.84 L575.39 547.84 L575.51 547.84 L575.63 547.84 L575.75 547.84 L575.87 547.84 L575.99 547.84 L576.11 547.84 L576.23 547.84 L576.35 547.84 L576.47 547.84 L576.59 547.84 L576.72 547.84 L576.84 547.84 L576.96 547.84 L577.08 547.84 L577.20 547.84 L577.32 547.84 L577.44 547.84 L577.56 547.84 L577.68 547.84 L577.80 547.84 L577.92 547.84 L578.04 547.84 L578.16 547.84 L578.28 547.84 L578.40 547.84 L578.52 547.84 L578.64 547.84 L578.77 547.84 L578.89 547.84 L579.01 547.84 L579.13 547.84 L579.25 547.84 L579.37 547.84 L579.49 547.84 L579.61 547.84 L579.73 547.84 L579.85 547.84 L579.97 547.84 L580.09 547.84 L580.21 547.84 L580.33 547.84 L580.45 547.84 L580.57 547.84 L580.69 547.84 L580.81 547.84 L580.94 547.84 L581.06 547.84 L581.18 547.84 L581.30 547.84 L581.42 547.84 L581.54 547.84 L581.66 547.84 L581.78 547.84 L581.90 547.84 L582.02 547.84 L582.14 547.84 L582.26 547.84 L582.38 547.84 L582.50 547.84 L582.62 547.84 L582.74 547.84 L582.86 547.84 L582.99 547.84 L583.11 547.84 L583.23 547.84 L583.35 547.84 L583.47 547.84 L583.59 547.84 L583.71 547.84 L583.83 547.84 L583.95 547.84 L584.07 547.84 L584.19 547.84 L584.31 547.84 L584.43 547.84 L584.55 547.84 L584.67 547.84 L584.79 547.84 L584.91 547.84 L585.03 547.84 L585.16 547.84 L585.28 547.84 L585.40 547.84 L585.52 547.84 L585.64 547.84 L585.76 547.84 L585.88 547.84 L586.00 547.84 L586.12 547.84 L586.24 547.84 L586.36 547.84 L586.48 547.84 L586.60 547.84 L586.72 547.84 L586.84 547.84 L586.96 547.84 L587.08 547.84 L587.21 547.84 L587.33 547.84 L587.45 547.84 L587.57 547.84 L587.69 547.84 L587.81 547.84 L587.93 547.84 L588.05 547.84 L588.17 547.84 L588.29 547.84 L588.41 547.84 L588.53 547.84 L588.65 547.84 L588.77 547.84 L588.89 547.84 L589.01 547.84 L589.13 547.84 L589.25 547.84 L589.38 547.84 L589.50 547.84 L589.62 547.84 L589.74 547.84 L589.86 547.84 L589.98 547.84 L590.10 547.84 L590.22 547.84 L590.34 547.84 L590.46 547.84 L590.58 547.84 L590.70 547.84 L590.82 547.84 L590.94 547.84 L591.06 547.84 L591.18 547.84 L591.30 547.84 L591.43 547.84 L591.55 547.84 L591.67 547.84 L591.79 547.84 L591.91 547.84 L592.03 547.84 L592.15 547.84 L592.27 547.84 L592.39 547.84 L592.51 547.84 L592.63 547.84 L592.75 547.84 L592.87 547.84 L592.99 547.84 L593.11 547.84 L593.23 547.84 L593.35 547.84 L593.47 547.84 L593.60 547.84 L593.72 547.84 L593.84 547.84 L593.96 547.84 L594.08 547.84 L594.20 547.84 L594.32 547.84 L594.44 547.84 L594.56 547.84 L594.68 547.84 L594.80 547.84 L594.92 547.84 L595.04 547.84 L595.16 547.84 L595.28 547.84 L595.40 547.84 L595.52 547.84 L595.65 547.84 L595.77 547.84 L595.89 547.84 L596.01 547.84 L596.13 547.84 L596.25 547.84 L596.37 547.84 L596.49 547.84 L596.61 547.84 L596.73 547.84 L596.85 547.84 L596.97 547.84 L597.09 547.84 L597.21 547.84 L597.33 547.84 L597.45 547.84 L597.57 547.84 L597.69 547.84 L597.82 547.84 L597.94 547.84 L598.06 547.84 L598.18 547.84 L598.30 547.84 L598.42 547.84 L598.54 547.84 L598.66 547.84 L598.78 547.84 L598.90 547.84 L599.02 547.84 L599.14 547.84 L599.26 547.84 L599.38 547.84 L599.50 547.84 L599.62 547.84 L599.74 547.84 L599.87 547.84 L599.99 547.84 L600.11 547.84 L600.23 547.84 L600.35 547.84 L600.47 547.84 L600.59 547.84 L600.71 547.84 L600.83 547.84 L600.95 547.84 L601.07 547.84 L601.19 547.84 L601.31 547.84 L601.43 547.84 L601.55 547.84 L601.67 547.84 L601.79 547.84 L601.91 547.84 L602.04 547.84 L602.16 547.84 L602.28 547.84 L602.40 547.84 L602.52 547.84 L602.64 547.84 L602.76 547.84 L602.88 547.84 L603.00 547.84 L603.12 547.84 L603.24 547.84 L603.36 547.84 L603.48 547.84 L603.60 547.84 L603.72 547.84 L603.84 547.84 L603.96 547.84 L604.09 547.84 L604.21 547.84 L604.33 547.84 L604.45 547.84 L604.57 547.84 L604.69 547.84 L604.81 547.84 L604.93 547.84 L605.05 547.84 L605.17 547.84 L605.29 547.84 L605.41 547.84 L605.53 547.84 L605.65 547.84 L605.77 547.84 L605.89 547.84 L606.01 547.84 L606.13 547.84 L606.26 547.84 L606.38 547.84 L606.50 547.84 L606.62 547.84 L606.74 547.84 L606.86 547.84 L606.98 547.84 L607.10 547.84 L607.22 547.84 L607.34 547.84 L607.46 547.84 L607.58 547.84 L607.70 547.84 L607.82 547.84 L607.94 547.84 L608.06 547.84 L608.18 547.84 L608.31 547.84 L608.43 547.84 L608.55 547.84 L608.67 547.84 L608.79 547.84 L608.91 547.84 L609.03 547.84 L609.15 547.84 L609.27 547.84 L609.39 547.84 L609.51 547.84 L609.63 547.84 L609.75 547.84 L609.87 547.84 L609.99 547.84 L610.11 547.84 L610.23 547.84 L610.35 547.84 L610.48 547.84 L610.60 547.84 L610.72 547.84 L610.84 547.84 L610.96 547.84 L611.08 547.84 L611.20 547.84 L611.32 547.84 L611.44 547.84 L611.56 547.84 L611.68 547.84 L611.80 547.84 L611.92 547.84 L612.04 547.84 L612.16 547.84 L612.28 547.84 L612.40 547.84 L612.53 547.84 L612.65 547.84 L612.77 547.84 L612.89 547.84 L613.01 547.84 L613.13 547.84 L613.25 547.84 L613.37 547.84 L613.49 547.84 L613.61 547.84 L613.73 547.84 L613.85 547.84 L613.97 547.84 L614.09 547.84 L614.21 547.84 L614.33 547.84 L614.45 547.84 L614.57 547.84 L614.70 547.84 L614.82 547.84 L614.94 547.84 L615.06 547.84 L615.18 547.84 L615.30 547.84 L615.42 547.84 L615.54 547.84 L615.66 547.84 L615.78 547.84 L615.90 547.84 L616.02 547.84 L616.14 547.84 L616.26 547.84 L616.38 547.84 L616.50 547.84 L616.62 547.84 L616.75 547.84 L616.87 547.84 L616.99 547.84 L617.11 547.84 L617.23 547.84 L617.35 547.84 L617.47 547.84 L617.59 547.84 L617.71 547.84 L617.83 547.84 L617.95 547.84 L618.07 547.84 L618.19 547.84 L618.31 547.84 L618.43 547.84 L618.55 547.84 L618.67 547.84 L618.79 547.84 L618.92 547.84 L619.04 547.84 L619.16 547.84 L619.28 547.84 L619.40 547.84 L619.52 547.84 L619.64 547.84 L619.76 547.84 L619.88 547.84 L620.00 547.84 L620.12 547.84 L620.24 547.84 L620.36 547.84 L620.48 547.84 L620.60 547.84 L620.72 547.84 L620.84 547.84 L620.97 547.84 L621.09 547.84 L621.21 547.84 L621.33 547.84 L621.45 547.84 L621.57 547.84 L621.69 547.84 L621.81 547.84 L621.93 547.84 L622.05 547.84 L622.17 547.84 L622.29 547.84 L622.41 547.84 L622.53 547.84 L622.65 547.84 L622.77 547.84 L622.89 547.84 L623.01 547.84 L623.14 547.84 L623.26 547.84 L623.38 547.84 L623.50 547.84 L623.62 547.84 L623.74 547.84 L623.86 547.84 L623.98 547.84 L624.10 547.84 L624.22 547.84 L624.34 547.84 L624.46 547.84 L624.58 547.84 L624.70 547.84 L624.82 547.84 L624.94 547.84 L625.06 547.84 L625.19 547.84 L625.31 547.84 L625.43 547.84 L625.55 547.84 L625.67 547.84 L625.79 547.84 L625.91 547.84 L626.03 547.85 L626.15 547.85 L626.27 547.85 L626.39 547.85 L626.51 547.85 L626.63 547.85 L626.75 547.85 L626.87 547.86 L626.99 547.86 L627.11 547.87 L627.23 547.87 L627.36 547.88 L627.48 547.88 L627.60 547.89 L627.72 547.90 L627.84 547.91 L627.96 547.92 L628.08 547.93 L628.20 547.95 L628.32 547.97 L628.44 547.99 L628.56 548.01 L628.68 548.04 L628.80 548.07 L628.92 548.10 L629.04 548.14 L629.16 548.19 L629.28 548.24 L629.41 548.29 L629.53 548.36 L629.65 548.43 L629.77 548.51 L629.89 548.60 L630.01 548.71 L630.13 548.82 L630.25 548.95 L630.37 549.09 L630.49 549.24 L630.61 549.42 L630.73 549.61 L630.85 549.82 L630.97 550.05 L631.09 550.31 L631.21 550.58 L631.33 550.89 L631.45 551.22 L631.58 551.58 L631.70 551.97 L631.82 552.40 L631.94 552.86 L632.06 553.35 L632.18 553.89 L632.30 554.46 L632.42 555.08 L632.54 555.74 L632.66 556.44 L632.78 557.20 L632.90 558.00 L633.02 558.84 L633.14 559.74 L633.26 560.70 L633.38 561.70 L633.50 562.76 L633.63 563.87 L633.75 565.03 L633.87 566.25 L633.99 567.52 L634.11 568.85 L634.23 570.23 L634.35 571.66 L634.47 573.15 L634.59 574.68 L634.71 576.26 L634.83 577.89 L634.95 579.56 L635.07 581.27 L635.19 583.03 L635.31 584.82 L635.43 586.64 L635.55 588.49 L635.67 590.37 L635.80 592.28 L635.92 594.20 L636.04 596.14 L636.16 598.10 L636.28 600.06 L636.40 602.02 L636.52 603.98 L636.64 605.94 L636.76 607.90 L636.88 609.84 L637.00 611.76 L637.12 613.67 L637.24 615.55 L637.36 617.40 L637.48 619.22 L637.60 621.01 L637.72 622.77 L637.85 624.48 L637.97 626.15 L638.09 627.78 L638.21 629.36 L638.33 630.89 L638.45 632.38 L638.57 633.81 L638.69 635.19 L638.81 636.52 L638.93 637.79 L639.05 639.01 L639.17 640.17 L639.29 641.28 L639.41 642.34 L639.53 643.34 L639.65 644.30 L639.77 645.20 L639.89 646.04 L640.02 646.84 L640.14 647.60 L640.26 648.30 L640.38 648.96 L640.50 649.58 L640.62 650.15 L640.74 650.69 L640.86 651.18 L640.98 651.64 L641.10 652.07 L641.22 652.46 L641.34 652.82 L641.46 653.15 L641.58 653.46 L641.70 653.73 L641.82 653.99 L641.94 654.22 L642.07 654.43 L642.19 654.62 L642.31 654.80 L642.43 654.95 L642.55 655.09 L642.67 655.22 L642.79 655.33 L642.91 655.44 L643.03 655.53 L643.15 655.61 L643.27 655.68 L643.39 655.75 L643.51 655.80 L643.63 655.85 L643.75 655.90 L643.87 655.94 L643.99 655.97 L644.11 656.00 L644.24 656.03 L644.36 656.05 L644.48 656.07 L644.60 656.09 L644.72 656.11 L644.84 656.12 L644.96 656.13 L645.08 656.14 L645.20 656.15 L645.32 656.16 L645.44 656.16 L645.56 656.17 L645.68 656.17 L645.80 656.18 L645.92 656.18 L646.04 656.19 L646.16 656.19 L646.29 656.19 L646.41 656.19 L646.53 656.19 L646.65 656.19 L646.77 656.19 L646.89 656.20 L647.01 656.20 L647.13 656.20 L647.25 656.20 L647.37 656.20 L647.49 656.20 L647.61 656.20 L647.73 656.20" stroke="#000" stroke-width="2.0" stroke-linejoin="round" fill="none"/>
<rect x="76.7" y="730.7" width="239.5" height="168.7" fill="none" stroke="#000" stroke-width="1.2"/>
<line x1="76.7" y1="899.4" x2="76.7" y2="889.9" stroke="#000" stroke-width="1.1"/>
<line x1="76.7" y1="730.7" x2="76.7" y2="740.2" stroke="#000" stroke-width="1.1"/>
<line x1="103.31" y1="899.4" x2="103.31" y2="894.4" stroke="#000" stroke-width="1.1"/>
<line x1="103.31" y1="730.7" x2="103.31" y2="735.7" stroke="#000" stroke-width="1.1"/>
<line x1="129.92" y1="899.4" x2="129.92" y2="889.9" stroke="#000" stroke-width="1.1"/>
<line x1="129.92" y1="730.7" x2="129.92" y2="740.2" stroke="#000" stroke-width="1.1"/>
<line x1="156.53" y1="899.4" x2="156.53" y2="894.4" stroke="#000" stroke-width="1.1"/>
<line x1="156.53" y1="730.7" x2="156.53" y2="735.7" stroke="#000" stroke-width="1.1"/>
<line x1="183.14" y1="899.4" x2="183.14" y2="889.9" stroke="#000" stroke-width="1.1"/>
<line x1="183.14" y1="730.7" x2="183.14" y2="740.2" stroke="#000" stroke-width="1.1"/>
<line x1="209.76" y1="899.4" x2="209.76" y2="894.4" stroke="#000" stroke-width="1.1"/>
<line x1="209.76" y1="730.7" x2="209.76" y2="735.7" stroke="#000" stroke-width="1.1"/>
<line x1="236.37" y1="899.4" x2="236.37" y2="889.9" stroke="#000" stroke-width="1.1"/>
<line x1="236.37" y1="730.7" x2="236.37" y2="740.2" stroke="#000" stroke-width="1.1"/>
<line x1="262.98" y1="899.4" x2="262.98" y2="894.4" stroke="#000" stroke-width="1.1"/>
<line x1="262.98" y1="730.7" x2="262.98" y2="735.7" stroke="#000" stroke-width="1.1"/>
<line x1="289.59" y1="899.4" x2="289.59" y2="889.9" stroke="#000" stroke-width="1.1"/>
<line x1="289.59" y1="730.7" x2="289.59" y2="740.2" stroke="#000" stroke-width="1.1"/>
<line x1="316.2" y1="899.4" x2="316.2" y2="894.4" stroke="#000" stroke-width="1.1"/>
<line x1="316.2" y1="730.7" x2="316.2" y2="735.7" stroke="#000" stroke-width="1.1"/>
<line x1="76.7" y1="899.4" x2="86.2" y2="899.4" stroke="#000" stroke-width="1.1"/>
<line x1="316.2" y1="899.4" x2="306.7" y2="899.4" stroke="#000" stroke-width="1.1"/>
<line x1="76.7" y1="871.28" x2="81.7" y2="871.28" stroke="#000" stroke-width="1.1"/>
<line x1="316.2" y1="871.28" x2="311.2" y2="871.28" stroke="#000" stroke-width="1.1"/>
<line x1="76.7" y1="843.17" x2="86.2" y2="843.17" stroke="#000" stroke-width="1.1"/>
<line x1="316.2" y1="843.17" x2="306.7" y2="843.17" stroke="#000" stroke-width="1.1"/>
<line x1="76.7" y1="815.05" x2="81.7" y2="815.05" stroke="#000" stroke-width="1.1"/>
<line x1="316.2" y1="815.05" x2="311.2" y2="815.05" stroke="#000" stroke-width="1.1"/>
<line x1="76.7" y1="786.93" x2="86.2" y2="786.93" stroke="#000" stroke-width="1.1"/>
<line x1="316.2" y1="786.93" x2="306.7" y2="786.93" stroke="#000" stroke-width="1.1"/>
<line x1="76.7" y1="758.82" x2="81.7" y2="758.82" stroke="#000" stroke-width="1.1"/>
<line x1="316.2" y1="758.82" x2="311.2" y2="758.82" stroke="#000" stroke-width="1.1"/>
<line x1="76.7" y1="730.7" x2="86.2" y2="730.7" stroke="#000" stroke-width="1.1"/>
<line x1="316.2" y1="730.7" x2="306.7" y2="730.7" stroke="#000" stroke-width="1.1"/>
<text transform="translate(76.7,926.9) scale(1,1.05)" text-anchor="middle" font-size="20">0</text>
<text transform="translate(129.92,926.9) scale(1,1.05)" text-anchor="middle" font-size="20">200</text>
<text transform="translate(183.14,926.9) scale(1,1.05)" text-anchor="middle" font-size="20">400</text>
<text transform="translate(236.37,926.9) scale(1,1.05)" text-anchor="middle" font-size="20">600</text>
<text transform="translate(289.59,926.9) scale(1,1.05)" text-anchor="middle" font-size="20">800</text>
<text transform="translate(65.2,905.4) scale(1,1.05)" text-anchor="end" font-size="20">0</text>
<text transform="translate(65.2,849.17) scale(1,1.05)" text-anchor="end" font-size="20">10</text>
<text transform="translate(65.2,792.93) scale(1,1.05)" text-anchor="end" font-size="20">20</text>
<text transform="translate(65.2,736.7) scale(1,1.05)" text-anchor="end" font-size="20">30</text>
<text transform="translate(34,814.4) rotate(-90)" text-anchor="middle" font-size="20">Surface Roughness (Å)</text>
<text transform="translate(58,955.4) scale(1,1.05)" text-anchor="start" font-size="20">CoPt Growth Temperature ( <tspan dy="-7.3" font-size="14.5">o</tspan><tspan dy="7.3">C)</tspan></text>
<text transform="translate(92.4,766.2) scale(1,1.05)" text-anchor="start" font-size="20">(g)</text>
<rect x="80.35" y="851.75" width="6" height="6" fill="#000"/>
<rect x="126.92" y="861.82" width="6" height="6" fill="#000"/>
<rect x="140.23" y="864.07" width="6" height="6" fill="#000"/>
<rect x="153.53" y="864.35" width="6" height="6" fill="#000"/>
<rect x="166.84" y="869.75" width="6" height="6" fill="#000"/>
<rect x="180.14" y="863.45" width="6" height="6" fill="#000"/>
<rect x="193.45" y="854.34" width="6" height="6" fill="#000"/>
<rect x="220.06" y="846.35" width="6" height="6" fill="#000"/>
<rect x="246.67" y="817.67" width="6" height="6" fill="#000"/>
<rect x="259.98" y="788.99" width="6" height="6" fill="#000"/>
<rect x="273.28" y="840.39" width="6" height="6" fill="#000"/>
<rect x="286.59" y="842.98" width="6" height="6" fill="#000"/>
<rect x="299.89" y="823.3" width="6" height="6" fill="#000"/>
<rect x="426.6" y="733" width="239.6" height="168.6" fill="none" stroke="#000" stroke-width="1.2"/>
<line x1="426.6" y1="901.6" x2="426.6" y2="892.1" stroke="#000" stroke-width="1.1"/>
<line x1="426.6" y1="733" x2="426.6" y2="742.5" stroke="#000" stroke-width="1.1"/>
<line x1="453.22" y1="901.6" x2="453.22" y2="896.6" stroke="#000" stroke-width="1.1"/>
<line x1="453.22" y1="733" x2="453.22" y2="738" stroke="#000" stroke-width="1.1"/>
<line x1="479.84" y1="901.6" x2="479.84" y2="892.1" stroke="#000" stroke-width="1.1"/>
<line x1="479.84" y1="733" x2="479.84" y2="742.5" stroke="#000" stroke-width="1.1"/>
<line x1="506.47" y1="901.6" x2="506.47" y2="896.6" stroke="#000" stroke-width="1.1"/>
<line x1="506.47" y1="733" x2="506.47" y2="738" stroke="#000" stroke-width="1.1"/>
<line x1="533.09" y1="901.6" x2="533.09" y2="892.1" stroke="#000" stroke-width="1.1"/>
<line x1="533.09" y1="733" x2="533.09" y2="742.5" stroke="#000" stroke-width="1.1"/>
<line x1="559.71" y1="901.6" x2="559.71" y2="896.6" stroke="#000" stroke-width="1.1"/>
<line x1="559.71" y1="733" x2="559.71" y2="738" stroke="#000" stroke-width="1.1"/>
<line x1="586.33" y1="901.6" x2="586.33" y2="892.1" stroke="#000" stroke-width="1.1"/>
<line x1="586.33" y1="733" x2="586.33" y2="742.5" stroke="#000" stroke-width="1.1"/>
<line x1="612.96" y1="901.6" x2="612.96" y2="896.6" stroke="#000" stroke-width="1.1"/>
<line x1="612.96" y1="733" x2="612.96" y2="738" stroke="#000" stroke-width="1.1"/>
<line x1="639.58" y1="901.6" x2="639.58" y2="892.1" stroke="#000" stroke-width="1.1"/>
<line x1="639.58" y1="733" x2="639.58" y2="742.5" stroke="#000" stroke-width="1.1"/>
<line x1="666.2" y1="901.6" x2="666.2" y2="896.6" stroke="#000" stroke-width="1.1"/>
<line x1="666.2" y1="733" x2="666.2" y2="738" stroke="#000" stroke-width="1.1"/>
<line x1="426.6" y1="901.6" x2="436.1" y2="901.6" stroke="#000" stroke-width="1.1"/>
<line x1="666.2" y1="901.6" x2="656.7" y2="901.6" stroke="#000" stroke-width="1.1"/>
<line x1="426.6" y1="887.55" x2="431.6" y2="887.55" stroke="#000" stroke-width="1.1"/>
<line x1="666.2" y1="887.55" x2="661.2" y2="887.55" stroke="#000" stroke-width="1.1"/>
<line x1="426.6" y1="873.5" x2="436.1" y2="873.5" stroke="#000" stroke-width="1.1"/>
<line x1="666.2" y1="873.5" x2="656.7" y2="873.5" stroke="#000" stroke-width="1.1"/>
<line x1="426.6" y1="859.45" x2="431.6" y2="859.45" stroke="#000" stroke-width="1.1"/>
<line x1="666.2" y1="859.45" x2="661.2" y2="859.45" stroke="#000" stroke-width="1.1"/>
<line x1="426.6" y1="845.4" x2="436.1" y2="845.4" stroke="#000" stroke-width="1.1"/>
<line x1="666.2" y1="845.4" x2="656.7" y2="845.4" stroke="#000" stroke-width="1.1"/>
<line x1="426.6" y1="831.35" x2="431.6" y2="831.35" stroke="#000" stroke-width="1.1"/>
<line x1="666.2" y1="831.35" x2="661.2" y2="831.35" stroke="#000" stroke-width="1.1"/>
<line x1="426.6" y1="817.3" x2="436.1" y2="817.3" stroke="#000" stroke-width="1.1"/>
<line x1="666.2" y1="817.3" x2="656.7" y2="817.3" stroke="#000" stroke-width="1.1"/>
<line x1="426.6" y1="803.25" x2="431.6" y2="803.25" stroke="#000" stroke-width="1.1"/>
<line x1="666.2" y1="803.25" x2="661.2" y2="803.25" stroke="#000" stroke-width="1.1"/>
<line x1="426.6" y1="789.2" x2="436.1" y2="789.2" stroke="#000" stroke-width="1.1"/>
<line x1="666.2" y1="789.2" x2="656.7" y2="789.2" stroke="#000" stroke-width="1.1"/>
<line x1="426.6" y1="775.15" x2="431.6" y2="775.15" stroke="#000" stroke-width="1.1"/>
<line x1="666.2" y1="775.15" x2="661.2" y2="775.15" stroke="#000" stroke-width="1.1"/>
<line x1="426.6" y1="761.1" x2="436.1" y2="761.1" stroke="#000" stroke-width="1.1"/>
<line x1="666.2" y1="761.1" x2="656.7" y2="761.1" stroke="#000" stroke-width="1.1"/>
<line x1="426.6" y1="747.05" x2="431.6" y2="747.05" stroke="#000" stroke-width="1.1"/>
<line x1="666.2" y1="747.05" x2="661.2" y2="747.05" stroke="#000" stroke-width="1.1"/>
<line x1="426.6" y1="733" x2="436.1" y2="733" stroke="#000" stroke-width="1.1"/>
<line x1="666.2" y1="733" x2="656.7" y2="733" stroke="#000" stroke-width="1.1"/>
<text transform="translate(426.6,929.1) scale(1,1.05)" text-anchor="middle" font-size="20">0</text>
<text transform="translate(479.84,929.1) scale(1,1.05)" text-anchor="middle" font-size="20">200</text>
<text transform="translate(533.09,929.1) scale(1,1.05)" text-anchor="middle" font-size="20">400</text>
<text transform="translate(586.33,929.1) scale(1,1.05)" text-anchor="middle" font-size="20">600</text>
<text transform="translate(639.58,929.1) scale(1,1.05)" text-anchor="middle" font-size="20">800</text>
<text transform="translate(415.1,907.6) scale(1,1.05)" text-anchor="end" font-size="20">0</text>
<text transform="translate(415.1,879.5) scale(1,1.05)" text-anchor="end" font-size="20">10</text>
<text transform="translate(415.1,851.4) scale(1,1.05)" text-anchor="end" font-size="20">20</text>
<text transform="translate(415.1,823.3) scale(1,1.05)" text-anchor="end" font-size="20">30</text>
<text transform="translate(415.1,795.2) scale(1,1.05)" text-anchor="end" font-size="20">40</text>
<text transform="translate(415.1,767.1) scale(1,1.05)" text-anchor="end" font-size="20">50</text>
<text transform="translate(415.1,739) scale(1,1.05)" text-anchor="end" font-size="20">60</text>
<text transform="translate(384,816.8) rotate(-90)" text-anchor="middle" font-size="20">Interface Roughness (Å)</text>
<text transform="translate(407.5,957.6) scale(1,1.05)" text-anchor="start" font-size="20">CoPt Growth Temperature ( <tspan dy="-7.3" font-size="14.5">o</tspan><tspan dy="7.3">C)</tspan></text>
<text transform="translate(452.8,765.7) scale(1,1.05)" text-anchor="start" font-size="20">(h)</text>
<rect x="430.26" y="871.48" width="6" height="6" fill="#000"/>
<rect x="476.84" y="868.25" width="6" height="6" fill="#000"/>
<rect x="490.16" y="871.48" width="6" height="6" fill="#000"/>
<rect x="503.47" y="860.95" width="6" height="6" fill="#000"/>
<rect x="516.78" y="851.11" width="6" height="6" fill="#000"/>
<rect x="530.09" y="854.48" width="6" height="6" fill="#000"/>
<rect x="543.4" y="840.43" width="6" height="6" fill="#000"/>
<rect x="570.02" y="803.06" width="6" height="6" fill="#000"/>
<rect x="609.96" y="745.46" width="6" height="6" fill="#000"/>
</svg></body></html>
